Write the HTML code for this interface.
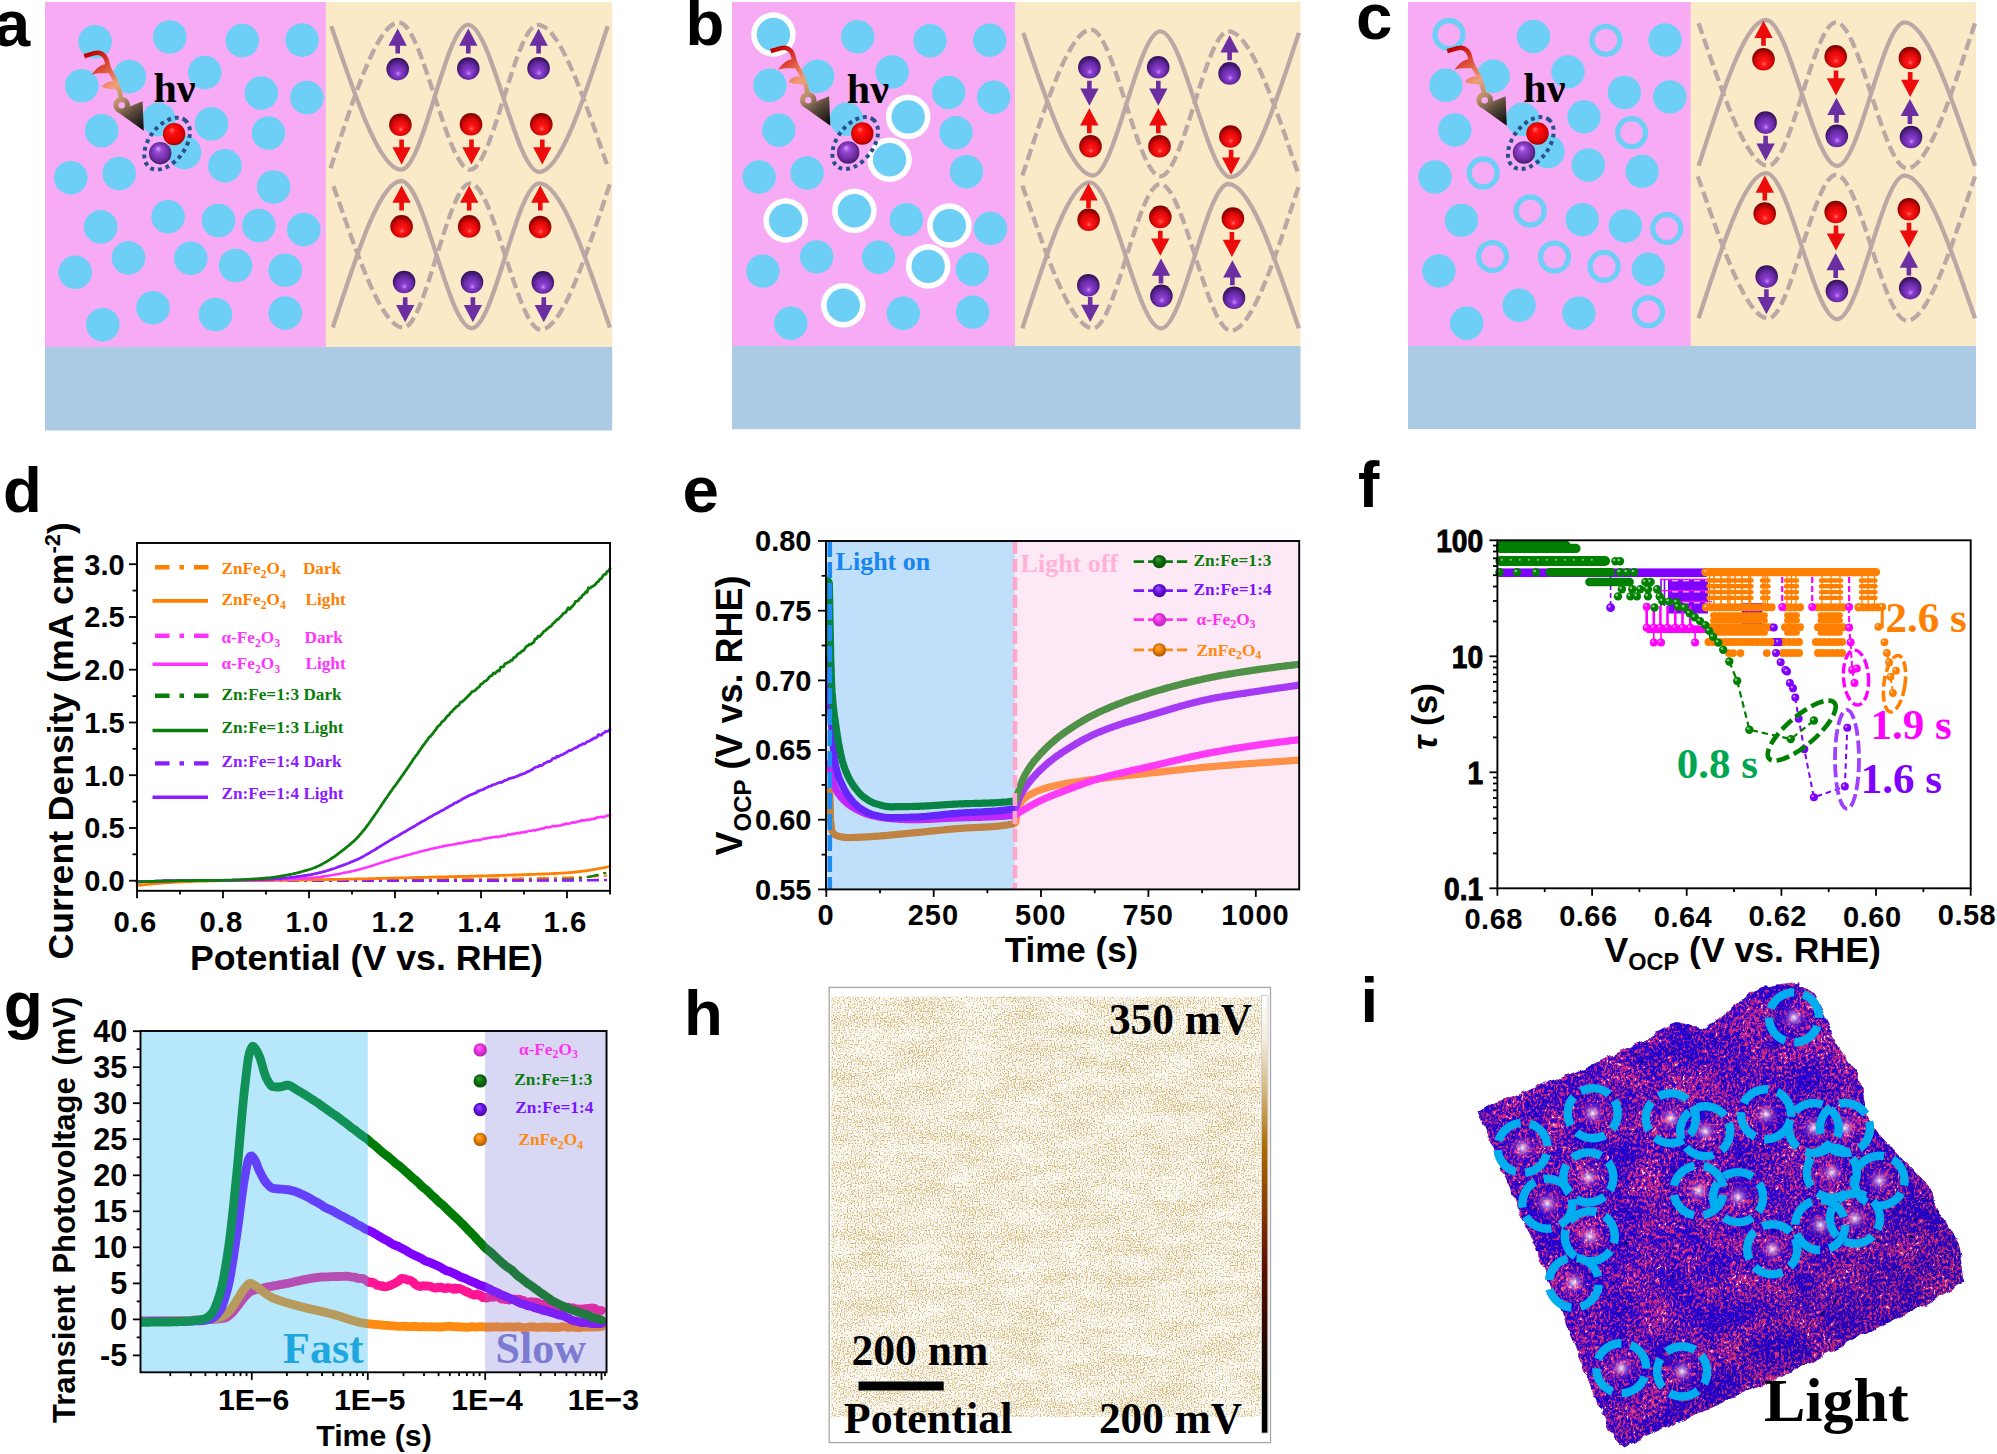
<!DOCTYPE html>
<html><head><meta charset="utf-8"><title>Figure</title>
<style>html,body{margin:0;padding:0;background:#fff;}svg{display:block;}</style></head>
<body><svg width="1997" height="1454" viewBox="0 0 1997 1454"><defs>
<radialGradient id="mG" cx="0.5" cy="0.5" r="0.55" fx="0.38" fy="0.3"><stop offset="0" stop-color="#3c9a3c"/><stop offset="0.5" stop-color="#0c6e0c"/><stop offset="1" stop-color="#064806"/></radialGradient>
<radialGradient id="mP" cx="0.5" cy="0.5" r="0.55" fx="0.38" fy="0.3"><stop offset="0" stop-color="#9a58ff"/><stop offset="0.5" stop-color="#6a10e6"/><stop offset="1" stop-color="#3c0a96"/></radialGradient>
<radialGradient id="mM" cx="0.5" cy="0.5" r="0.55" fx="0.38" fy="0.3"><stop offset="0" stop-color="#ff7af6"/><stop offset="0.5" stop-color="#ee2ee4"/><stop offset="1" stop-color="#a828a8"/></radialGradient>
<radialGradient id="mO" cx="0.5" cy="0.5" r="0.55" fx="0.38" fy="0.3"><stop offset="0" stop-color="#ffac50"/><stop offset="0.5" stop-color="#f08000"/><stop offset="1" stop-color="#9a5408"/></radialGradient>

<radialGradient id="gR" cx="0.5" cy="0.55" r="0.62" fx="0.52" fy="0.72">
<stop offset="0" stop-color="#ff7070"/><stop offset="0.18" stop-color="#ff1818"/><stop offset="0.55" stop-color="#e00808"/><stop offset="1" stop-color="#5a0000"/></radialGradient>
<radialGradient id="gP" cx="0.5" cy="0.55" r="0.62" fx="0.52" fy="0.72">
<stop offset="0" stop-color="#c88cff"/><stop offset="0.2" stop-color="#8a3fd0"/><stop offset="0.55" stop-color="#6a2aa8"/><stop offset="1" stop-color="#1e0a3c"/></radialGradient>
<radialGradient id="gR2" cx="0.5" cy="0.5" r="0.6" fx="0.38" fy="0.3">
<stop offset="0" stop-color="#ff6a6a"/><stop offset="0.25" stop-color="#ff1010"/><stop offset="0.7" stop-color="#e00000"/><stop offset="1" stop-color="#7a0000"/></radialGradient>
<radialGradient id="gP2" cx="0.5" cy="0.5" r="0.6" fx="0.4" fy="0.28">
<stop offset="0" stop-color="#d9a0ff"/><stop offset="0.25" stop-color="#9a48d8"/><stop offset="0.7" stop-color="#6a2a9a"/><stop offset="1" stop-color="#2a0c48"/></radialGradient>

<filter id="nzH" x="0" y="0" width="1" height="1" color-interpolation-filters="sRGB">
<feTurbulence type="fractalNoise" baseFrequency="0.72" numOctaves="1" seed="4"/>
<feColorMatrix type="matrix" values="1 0 0 0 0  0 1 0 0 0  0 0 1 0 0  0 0 0 0 1" result="fine"/>
<feTurbulence type="fractalNoise" baseFrequency="0.02 0.07" numOctaves="2" seed="9"/>
<feColorMatrix type="matrix" values="1 0 0 0 0  0 1 0 0 0  0 0 1 0 0  0 0 0 0 1" result="coarse"/>
<feComposite in="fine" in2="coarse" operator="arithmetic" k1="0" k2="1" k3="0.18" k4="-0.09" result="mix"/>
<feColorMatrix in="mix" type="matrix" values="0 0 0 0 0.82  0 0 0 0 0.71  0 0 0 0 0.45  5 0 0 0 -2.38"/>
<feComposite operator="in" in2="SourceGraphic"/>
</filter>
<linearGradient id="cbar" x1="0" y1="0" x2="0" y2="1">
<stop offset="0" stop-color="#ffffff"/><stop offset="0.1" stop-color="#f3ecdc"/><stop offset="0.22" stop-color="#d2b57c"/>
<stop offset="0.35" stop-color="#a86a00"/><stop offset="0.48" stop-color="#8a3c00"/><stop offset="0.62" stop-color="#5c1000"/>
<stop offset="0.8" stop-color="#220600"/><stop offset="0.92" stop-color="#000"/><stop offset="1" stop-color="#000"/></linearGradient>

<filter id="nzI" x="0" y="0" width="1" height="1" color-interpolation-filters="sRGB">
<feTurbulence type="fractalNoise" baseFrequency="0.42 0.3" numOctaves="2" seed="11"/>
<feColorMatrix type="matrix" values="1 0 0 0 0  0 1 0 0 0  0 0 1 0 0  0 0 0 0 1" result="fine"/>
<feTurbulence type="fractalNoise" baseFrequency="0.03" numOctaves="2" seed="5"/>
<feColorMatrix type="matrix" values="1 0 0 0 0  0 1 0 0 0  0 0 1 0 0  0 0 0 0 1" result="coarse"/>
<feComposite in="fine" in2="coarse" operator="arithmetic" k1="0" k2="1" k3="0.35" k4="-0.175" result="mix"/>
<feColorMatrix in="mix" type="matrix" values="0 0 0 0 0.84  0 0 0 0 0.17  0 0 0 0 0.5  5.5 0 0 0 -2.5" result="mag"/>
<feColorMatrix in="mix" type="matrix" values="0 0 0 0 1  0 0 0 0 0.85  0 0 0 0 0.95  9 0 0 0 -6.6" result="wht"/>
<feColorMatrix in="fine" type="matrix" values="0 0 0 0 0.02  0 0 0 0 0  0 0 0 0 0.25  0 -8 0 0 2.5" result="blk"/>
<feMerge><feMergeNode in="blk"/><feMergeNode in="mag"/><feMergeNode in="wht"/></feMerge>
<feComposite operator="in" in2="SourceGraphic"/>
</filter>
<filter id="ragI" x="-0.02" y="-0.02" width="1.04" height="1.04"><feTurbulence type="fractalNoise" baseFrequency="0.09" numOctaves="2" seed="3" result="t"/><feDisplacementMap in="SourceGraphic" in2="t" scale="7" xChannelSelector="R" yChannelSelector="G"/></filter>
<radialGradient id="glowI"><stop offset="0" stop-color="#ffffff" stop-opacity="0.95"/><stop offset="0.22" stop-color="#ffd8ec" stop-opacity="0.6"/><stop offset="0.55" stop-color="#ff80c0" stop-opacity="0.25"/><stop offset="1" stop-color="#ff50b0" stop-opacity="0"/></radialGradient>
<linearGradient id="shI" x1="0" y1="0" x2="1" y2="1">
<stop offset="0" stop-color="#000" stop-opacity="0"/><stop offset="0.55" stop-color="#000" stop-opacity="0"/><stop offset="1" stop-color="#000" stop-opacity="0.18"/></linearGradient>

<radialGradient id="mG" cx="0.5" cy="0.5" r="0.55" fx="0.38" fy="0.3"><stop offset="0" stop-color="#3c9a3c"/><stop offset="0.5" stop-color="#0c6e0c"/><stop offset="1" stop-color="#064806"/></radialGradient>
<radialGradient id="mP" cx="0.5" cy="0.5" r="0.55" fx="0.38" fy="0.3"><stop offset="0" stop-color="#9a58ff"/><stop offset="0.5" stop-color="#6a10e6"/><stop offset="1" stop-color="#3c0a96"/></radialGradient>
<radialGradient id="mM" cx="0.5" cy="0.5" r="0.55" fx="0.38" fy="0.3"><stop offset="0" stop-color="#ff7af6"/><stop offset="0.5" stop-color="#ee2ee4"/><stop offset="1" stop-color="#a828a8"/></radialGradient>
<radialGradient id="mO" cx="0.5" cy="0.5" r="0.55" fx="0.38" fy="0.3"><stop offset="0" stop-color="#ffac50"/><stop offset="0.5" stop-color="#f08000"/><stop offset="1" stop-color="#9a5408"/></radialGradient>

<radialGradient id="gR" cx="0.5" cy="0.55" r="0.62" fx="0.52" fy="0.72">
<stop offset="0" stop-color="#ff7070"/><stop offset="0.18" stop-color="#ff1818"/><stop offset="0.55" stop-color="#e00808"/><stop offset="1" stop-color="#5a0000"/></radialGradient>
<radialGradient id="gP" cx="0.5" cy="0.55" r="0.62" fx="0.52" fy="0.72">
<stop offset="0" stop-color="#c88cff"/><stop offset="0.2" stop-color="#8a3fd0"/><stop offset="0.55" stop-color="#6a2aa8"/><stop offset="1" stop-color="#1e0a3c"/></radialGradient>
<radialGradient id="gR2" cx="0.5" cy="0.5" r="0.6" fx="0.38" fy="0.3">
<stop offset="0" stop-color="#ff6a6a"/><stop offset="0.25" stop-color="#ff1010"/><stop offset="0.7" stop-color="#e00000"/><stop offset="1" stop-color="#7a0000"/></radialGradient>
<radialGradient id="gP2" cx="0.5" cy="0.5" r="0.6" fx="0.4" fy="0.28">
<stop offset="0" stop-color="#d9a0ff"/><stop offset="0.25" stop-color="#9a48d8"/><stop offset="0.7" stop-color="#6a2a9a"/><stop offset="1" stop-color="#2a0c48"/></radialGradient>
</defs><rect width="1997" height="1454" fill="#fff"/>
<g id="pabc"><rect x="45" y="2" width="281" height="345.5" fill="#f7abf4" /><rect x="325.8" y="2" width="286.4" height="345.5" fill="#faeac8" /><rect x="45" y="347" width="567.2" height="83.5" fill="#abcbe4" /><circle cx="95.1" cy="41.8" r="16.8" fill="#6dcff6" /><circle cx="169.8" cy="37" r="16.8" fill="#6dcff6" /><circle cx="242.3" cy="40.6" r="16.8" fill="#6dcff6" /><circle cx="302.1" cy="40.1" r="16.8" fill="#6dcff6" /><circle cx="81.8" cy="85.8" r="16.8" fill="#6dcff6" /><circle cx="129.4" cy="76.6" r="16.8" fill="#6dcff6" /><circle cx="204.8" cy="72.6" r="16.8" fill="#6dcff6" /><circle cx="261.3" cy="93.1" r="16.8" fill="#6dcff6" /><circle cx="306.9" cy="97.6" r="16.8" fill="#6dcff6" /><circle cx="101.6" cy="130.7" r="16.8" fill="#6dcff6" /><circle cx="158.7" cy="119.4" r="16.8" fill="#6dcff6" /><circle cx="211.5" cy="123.8" r="16.8" fill="#6dcff6" /><circle cx="268.5" cy="133.1" r="16.8" fill="#6dcff6" /><circle cx="184.5" cy="152.5" r="16.8" fill="#6dcff6" /><circle cx="224.9" cy="165.7" r="16.8" fill="#6dcff6" /><circle cx="70.8" cy="177.7" r="16.8" fill="#6dcff6" /><circle cx="119.2" cy="173.5" r="16.8" fill="#6dcff6" /><circle cx="273.6" cy="187" r="16.8" fill="#6dcff6" /><circle cx="100.7" cy="226.9" r="16.8" fill="#6dcff6" /><circle cx="168.1" cy="216.7" r="16.8" fill="#6dcff6" /><circle cx="218.5" cy="220.5" r="16.8" fill="#6dcff6" /><circle cx="258.9" cy="225.6" r="16.8" fill="#6dcff6" /><circle cx="303.8" cy="229.6" r="16.8" fill="#6dcff6" /><circle cx="128.5" cy="257.9" r="16.8" fill="#6dcff6" /><circle cx="190.8" cy="258.3" r="16.8" fill="#6dcff6" /><circle cx="235.6" cy="265.5" r="16.8" fill="#6dcff6" /><circle cx="285.2" cy="270.3" r="16.8" fill="#6dcff6" /><circle cx="75.2" cy="272.3" r="16.8" fill="#6dcff6" /><circle cx="153" cy="307.7" r="16.8" fill="#6dcff6" /><circle cx="215.5" cy="314.5" r="16.8" fill="#6dcff6" /><circle cx="285.3" cy="313.1" r="16.8" fill="#6dcff6" /><circle cx="102.8" cy="324.7" r="16.8" fill="#6dcff6" /><g transform="translate(0,0)"><linearGradient id="pha" gradientUnits="userSpaceOnUse" x1="88" y1="54" x2="142" y2="128"><stop offset="0" stop-color="#c00000"/><stop offset="0.22" stop-color="#dc4a34"/><stop offset="0.45" stop-color="#f0a078"/><stop offset="0.62" stop-color="#b89068"/><stop offset="0.8" stop-color="#5a4a3c"/><stop offset="1" stop-color="#111"/></linearGradient><path d="M84.3,56.2 C90,54.5 95,52.6 98.5,52.8 C104.5,53.5 106.8,59.5 107.8,65 C109,71 113,75 115.2,80 C117.5,85.5 120,90 121.3,99.5" fill="none" stroke="url(#pha)" stroke-width="4.6" stroke-linecap="butt"/><path d="M107.5,64 C100,64 95.5,69.5 91.5,74.8 C98,72.5 106,73.5 111,73 Z" fill="url(#pha)"/><path d="M117,82 C110,80.5 104,83 102.3,86.6 C104,89.5 112,89 119.6,90 Z" fill="url(#pha)"/><circle cx="121.7" cy="105.2" r="5.8" fill="none" stroke="url(#pha)" stroke-width="5"/><path d="M142.6,101.2 L143.8,130.8 L117.6,112 L126,108 Z" fill="url(#pha)"/></g><ellipse cx="167.1" cy="143.6" rx="29.5" ry="18" transform="rotate(-53 167.1 143.6)" fill="none" stroke="#28508c" stroke-width="4" stroke-dasharray="3.9 3.9"/><circle cx="160.2" cy="153.2" r="11.2" fill="url(#gP2)" /><circle cx="174.1" cy="134.1" r="11.2" fill="url(#gR2)" /><text x="153.5" y="102" font-family="'Liberation Serif', 'Times New Roman', serif" font-size="42" font-weight="bold" fill="#000" text-anchor="start" >hν</text><path d="M331.3,26.3 C352.2,86.5 378.1,169.7 401.1,169.7 C423.2,169.7 445.9,24.8 468,24.8 C491.5,24.8 515.8,172 539.3,172 C561.9,172 587.2,87.5 607.7,26.3" fill="none" stroke="#bba7a3" stroke-width="4.3"/><path d="M330.5,168.2 C351,107 376.3,22.5 398.9,22.5 C422.4,22.5 446.7,169.7 470.2,169.7 C492.5,169.7 515.5,24.8 537.8,24.8 C560.9,24.8 586.7,107.1 607.7,166.7" fill="none" stroke="#bba7a3" stroke-width="4.3" stroke-dasharray="11.5 5"/><path d="M332.8,327.5 C353.3,266 378.6,181 401.1,181 C424.4,181 448.4,328.2 471.7,328.2 C494,328.2 517,183.3 539.3,183.3 C562.6,183.3 588.7,266.9 609.9,327.5" fill="none" stroke="#bba7a3" stroke-width="4.3"/><path d="M333.5,186.3 C354.5,245.6 380.3,327.5 403.4,327.5 C425.4,327.5 448.2,183.3 470.2,183.3 C493.5,183.3 517.5,329.7 540.8,329.7 C563.6,329.7 589.2,245.2 609.9,184" fill="none" stroke="#bba7a3" stroke-width="4.3" stroke-dasharray="11.5 5"/><polygon points="397.7,28.5 406.9,45.7 400,45.7 400,53.5 395.4,53.5 395.4,45.7 388.5,45.7" fill="#6b2fa2"/><polygon points="468.3,28.5 477.5,45.7 470.6,45.7 470.6,53.5 466,53.5 466,45.7 459.1,45.7" fill="#6b2fa2"/><polygon points="538.6,28.5 547.8,45.7 540.9,45.7 540.9,53.5 536.3,53.5 536.3,45.7 529.4,45.7" fill="#6b2fa2"/><circle cx="397.7" cy="69.1" r="11.3" fill="url(#gP)" /><circle cx="468.3" cy="68.6" r="11.3" fill="url(#gP)" /><circle cx="538.6" cy="68.3" r="11.3" fill="url(#gP)" /><circle cx="400.4" cy="124.7" r="11.3" fill="url(#gR)" /><circle cx="471" cy="124.2" r="11.3" fill="url(#gR)" /><circle cx="541.3" cy="124.2" r="11.3" fill="url(#gR)" /><polygon points="401.6,164.5 410.8,147.3 403.9,147.3 403.9,139.5 399.3,139.5 399.3,147.3 392.4,147.3" fill="#ec0c0c"/><polygon points="471.5,164.5 480.7,147.3 473.8,147.3 473.8,139.5 469.2,139.5 469.2,147.3 462.3,147.3" fill="#ec0c0c"/><polygon points="542.3,164.5 551.5,147.3 544.6,147.3 544.6,139.5 540,139.5 540,147.3 533.1,147.3" fill="#ec0c0c"/><polygon points="401.6,185.5 410.8,202.7 403.9,202.7 403.9,210.5 399.3,210.5 399.3,202.7 392.4,202.7" fill="#ec0c0c"/><polygon points="469.2,185.5 478.4,202.7 471.5,202.7 471.5,210.5 466.9,210.5 466.9,202.7 460,202.7" fill="#ec0c0c"/><polygon points="540.3,185.5 549.5,202.7 542.6,202.7 542.6,210.5 538,210.5 538,202.7 531.1,202.7" fill="#ec0c0c"/><circle cx="401.6" cy="226.4" r="11.3" fill="url(#gR)" /><circle cx="469.2" cy="226.4" r="11.3" fill="url(#gR)" /><circle cx="540.1" cy="227.1" r="11.3" fill="url(#gR)" /><circle cx="404.1" cy="282" r="11.3" fill="url(#gP)" /><circle cx="472" cy="282" r="11.3" fill="url(#gP)" /><circle cx="542.8" cy="282.4" r="11.3" fill="url(#gP)" /><polygon points="405.2,322.2 414.4,305 407.5,305 407.5,297.2 402.9,297.2 402.9,305 396,305" fill="#6b2fa2"/><polygon points="472.9,322.2 482.1,305 475.2,305 475.2,297.2 470.6,297.2 470.6,305 463.7,305" fill="#6b2fa2"/><polygon points="543.8,322.2 553,305 546.1,305 546.1,297.2 541.5,297.2 541.5,305 534.6,305" fill="#6b2fa2"/><text x="-6.3" y="46.2" font-family="'Liberation Sans', Arial, sans-serif" font-size="65.5" font-weight="bold" fill="#000" text-anchor="start" >a</text><rect x="732" y="2" width="283.5" height="344.5" fill="#f7abf4" /><rect x="1015" y="2" width="285.5" height="344.5" fill="#faeac8" /><rect x="732" y="346" width="568.5" height="83.2" fill="#abcbe4" /><circle cx="773.4" cy="34.5" r="22.3" fill="#fff" /><circle cx="773.4" cy="34.5" r="16.7" fill="#6dcff6" /><circle cx="857.7" cy="36.8" r="16.7" fill="#6dcff6" /><circle cx="930.1" cy="40.7" r="16.7" fill="#6dcff6" /><circle cx="989.7" cy="40.3" r="16.7" fill="#6dcff6" /><circle cx="769.9" cy="85.3" r="16.7" fill="#6dcff6" /><circle cx="817.6" cy="76.2" r="16.7" fill="#6dcff6" /><circle cx="892.2" cy="71.9" r="16.7" fill="#6dcff6" /><circle cx="948.7" cy="92.5" r="16.7" fill="#6dcff6" /><circle cx="993.7" cy="97.3" r="16.7" fill="#6dcff6" /><circle cx="778.8" cy="130.2" r="16.7" fill="#6dcff6" /><circle cx="846.5" cy="119.2" r="16.7" fill="#6dcff6" /><circle cx="908.2" cy="116.9" r="22.3" fill="#fff" /><circle cx="908.2" cy="116.9" r="16.7" fill="#6dcff6" /><circle cx="956" cy="132.7" r="16.7" fill="#6dcff6" /><circle cx="889.6" cy="159.7" r="22.3" fill="#fff" /><circle cx="889.6" cy="159.7" r="16.7" fill="#6dcff6" /><circle cx="759.2" cy="177" r="16.7" fill="#6dcff6" /><circle cx="807.1" cy="173" r="16.7" fill="#6dcff6" /><circle cx="966.4" cy="171.7" r="16.7" fill="#6dcff6" /><circle cx="785.7" cy="220.5" r="22.3" fill="#fff" /><circle cx="785.7" cy="220.5" r="16.7" fill="#6dcff6" /><circle cx="854.4" cy="210.8" r="22.3" fill="#fff" /><circle cx="854.4" cy="210.8" r="16.7" fill="#6dcff6" /><circle cx="906.4" cy="219.6" r="16.7" fill="#6dcff6" /><circle cx="949.4" cy="225.6" r="22.3" fill="#fff" /><circle cx="949.4" cy="225.6" r="16.7" fill="#6dcff6" /><circle cx="990.5" cy="228.5" r="16.7" fill="#6dcff6" /><circle cx="816.7" cy="256.9" r="16.7" fill="#6dcff6" /><circle cx="878.6" cy="257.3" r="16.7" fill="#6dcff6" /><circle cx="928.2" cy="266.4" r="22.3" fill="#fff" /><circle cx="928.2" cy="266.4" r="16.7" fill="#6dcff6" /><circle cx="972.3" cy="269.3" r="16.7" fill="#6dcff6" /><circle cx="762.9" cy="271.1" r="16.7" fill="#6dcff6" /><circle cx="843.3" cy="305.3" r="22.3" fill="#fff" /><circle cx="843.3" cy="305.3" r="16.7" fill="#6dcff6" /><circle cx="903.3" cy="313.3" r="16.7" fill="#6dcff6" /><circle cx="972.7" cy="312.1" r="16.7" fill="#6dcff6" /><circle cx="790.8" cy="323.2" r="16.7" fill="#6dcff6" /><g transform="translate(686.5,-5)"><linearGradient id="phb" gradientUnits="userSpaceOnUse" x1="88" y1="54" x2="142" y2="128"><stop offset="0" stop-color="#c00000"/><stop offset="0.22" stop-color="#dc4a34"/><stop offset="0.45" stop-color="#f0a078"/><stop offset="0.62" stop-color="#b89068"/><stop offset="0.8" stop-color="#5a4a3c"/><stop offset="1" stop-color="#111"/></linearGradient><path d="M84.3,56.2 C90,54.5 95,52.6 98.5,52.8 C104.5,53.5 106.8,59.5 107.8,65 C109,71 113,75 115.2,80 C117.5,85.5 120,90 121.3,99.5" fill="none" stroke="url(#phb)" stroke-width="4.6" stroke-linecap="butt"/><path d="M107.5,64 C100,64 95.5,69.5 91.5,74.8 C98,72.5 106,73.5 111,73 Z" fill="url(#phb)"/><path d="M117,82 C110,80.5 104,83 102.3,86.6 C104,89.5 112,89 119.6,90 Z" fill="url(#phb)"/><circle cx="121.7" cy="105.2" r="5.8" fill="none" stroke="url(#phb)" stroke-width="5"/><path d="M142.6,101.2 L143.8,130.8 L117.6,112 L126,108 Z" fill="url(#phb)"/></g><ellipse cx="855.2" cy="143" rx="29.5" ry="18" transform="rotate(-53 855.2 143)" fill="none" stroke="#28508c" stroke-width="4" stroke-dasharray="3.9 3.9"/><circle cx="848.2" cy="152.5" r="11.2" fill="url(#gP2)" /><circle cx="862.3" cy="133.5" r="11.2" fill="url(#gR2)" /><text x="846.8" y="103.4" font-family="'Liberation Serif', 'Times New Roman', serif" font-size="42" font-weight="bold" fill="#000" text-anchor="start" >hν</text><path d="M1023.2,32.9 C1044.1,92.8 1069.9,175.5 1092.9,175.5 C1115.1,175.5 1138.1,31.3 1160.3,31.3 C1183.6,31.3 1207.5,177.1 1230.8,177.1 C1253.3,177.1 1278.5,93.5 1298.9,32.9" fill="none" stroke="#bba7a3" stroke-width="4.3"/><path d="M1022.4,175.5 C1043,114.2 1068.4,29.6 1091,29.6 C1113.9,29.6 1137.4,176.3 1160.3,176.3 C1182.8,176.3 1205.9,31.3 1228.4,31.3 C1251.7,31.3 1277.8,114.9 1298.9,175.5" fill="none" stroke="#bba7a3" stroke-width="4.3" stroke-dasharray="11.5 5"/><path d="M1022.4,328.3 C1042.6,267 1067.5,182.4 1089.7,182.4 C1113.3,182.4 1137.5,328.3 1161.1,328.3 C1183.3,328.3 1206.2,184 1228.4,184 C1251.7,184 1277.8,267.7 1298.9,328.3" fill="none" stroke="#bba7a3" stroke-width="4.3"/><path d="M1022.4,185.6 C1043.5,245.5 1069.6,328.3 1092.9,328.3 C1115.1,328.3 1138.1,184 1160.3,184 C1183.6,184 1207.5,330.7 1230.8,330.7 C1253.3,330.7 1278.5,246.5 1298.9,185.6" fill="none" stroke="#bba7a3" stroke-width="4.3" stroke-dasharray="11.5 5"/><circle cx="1089.4" cy="67.3" r="11.3" fill="url(#gP)" /><circle cx="1158.2" cy="67.3" r="11.3" fill="url(#gP)" /><circle cx="1229.6" cy="73.4" r="11.3" fill="url(#gP)" /><circle cx="1090.5" cy="146.2" r="11.3" fill="url(#gR)" /><circle cx="1159.5" cy="146.2" r="11.3" fill="url(#gR)" /><circle cx="1230.4" cy="136.5" r="11.3" fill="url(#gR)" /><polygon points="1089.4,105.8 1098.6,88.6 1091.7,88.6 1091.7,80.8 1087.1,80.8 1087.1,88.6 1080.2,88.6" fill="#6b2fa2"/><polygon points="1158.3,105.8 1167.5,88.6 1160.6,88.6 1160.6,80.8 1156,80.8 1156,88.6 1149.1,88.6" fill="#6b2fa2"/><polygon points="1089.3,108.2 1098.5,125.4 1091.6,125.4 1091.6,133.2 1087,133.2 1087,125.4 1080.1,125.4" fill="#ec0c0c"/><polygon points="1158.3,108.2 1167.5,125.4 1160.6,125.4 1160.6,133.2 1156,133.2 1156,125.4 1149.1,125.4" fill="#ec0c0c"/><polygon points="1229.6,35.3 1238.8,52.5 1231.9,52.5 1231.9,60.3 1227.3,60.3 1227.3,52.5 1220.4,52.5" fill="#6b2fa2"/><polygon points="1231.1,174.7 1240.3,157.5 1233.4,157.5 1233.4,149.7 1228.8,149.7 1228.8,157.5 1221.9,157.5" fill="#ec0c0c"/><circle cx="1088.6" cy="219.8" r="11.3" fill="url(#gR)" /><circle cx="1160.3" cy="216.9" r="11.3" fill="url(#gR)" /><circle cx="1232.9" cy="218.5" r="11.3" fill="url(#gR)" /><circle cx="1088.3" cy="285.3" r="11.3" fill="url(#gP)" /><circle cx="1161.4" cy="295.9" r="11.3" fill="url(#gP)" /><circle cx="1234" cy="297.8" r="11.3" fill="url(#gP)" /><polygon points="1088.5,183.2 1097.7,200.4 1090.8,200.4 1090.8,208.2 1086.2,208.2 1086.2,200.4 1079.3,200.4" fill="#ec0c0c"/><polygon points="1090.2,321.9 1099.4,304.7 1092.5,304.7 1092.5,296.9 1087.9,296.9 1087.9,304.7 1081,304.7" fill="#6b2fa2"/><polygon points="1160.3,255.8 1169.5,238.6 1162.6,238.6 1162.6,230.8 1158,230.8 1158,238.6 1151.1,238.6" fill="#ec0c0c"/><polygon points="1161,258.6 1170.2,275.8 1163.3,275.8 1163.3,283.6 1158.7,283.6 1158.7,275.8 1151.8,275.8" fill="#6b2fa2"/><polygon points="1231.9,257 1241.1,239.8 1234.2,239.8 1234.2,232 1229.6,232 1229.6,239.8 1222.7,239.8" fill="#ec0c0c"/><polygon points="1232.4,260.2 1241.6,277.4 1234.7,277.4 1234.7,285.2 1230.1,285.2 1230.1,277.4 1223.2,277.4" fill="#6b2fa2"/><text x="685.5" y="45.1" font-family="'Liberation Sans', Arial, sans-serif" font-size="63.5" font-weight="bold" fill="#000" text-anchor="start" >b</text><rect x="1408" y="2" width="283" height="344.5" fill="#f7abf4" /><rect x="1690.5" y="2" width="285.5" height="344.5" fill="#faeac8" /><rect x="1408" y="346" width="568" height="83" fill="#abcbe4" /><circle cx="1449" cy="34.5" r="14" fill="none" stroke="#6dcff6" stroke-width="5.3"/><circle cx="1533.5" cy="36.5" r="16.7" fill="#6dcff6" /><circle cx="1605.9" cy="40.3" r="14" fill="none" stroke="#6dcff6" stroke-width="5.3"/><circle cx="1665.1" cy="40" r="16.7" fill="#6dcff6" /><circle cx="1445.9" cy="85.3" r="16.7" fill="#6dcff6" /><circle cx="1493.2" cy="76.2" r="16.7" fill="#6dcff6" /><circle cx="1568" cy="71.9" r="16.7" fill="#6dcff6" /><circle cx="1624.4" cy="92.5" r="16.7" fill="#6dcff6" /><circle cx="1669.8" cy="96.9" r="16.7" fill="#6dcff6" /><circle cx="1454.8" cy="130" r="16.7" fill="#6dcff6" /><circle cx="1522.6" cy="119.2" r="16.7" fill="#6dcff6" /><circle cx="1584" cy="116.9" r="16.7" fill="#6dcff6" /><circle cx="1631.6" cy="132.7" r="14" fill="none" stroke="#6dcff6" stroke-width="5.3"/><circle cx="1548" cy="151.6" r="16.7" fill="#6dcff6" /><circle cx="1588.3" cy="165" r="16.7" fill="#6dcff6" /><circle cx="1435" cy="177" r="16.7" fill="#6dcff6" /><circle cx="1483.2" cy="173" r="14" fill="none" stroke="#6dcff6" stroke-width="5.3"/><circle cx="1642.1" cy="171.4" r="16.7" fill="#6dcff6" /><circle cx="1461.5" cy="220.4" r="16.7" fill="#6dcff6" /><circle cx="1530.2" cy="211" r="14" fill="none" stroke="#6dcff6" stroke-width="5.3"/><circle cx="1582.2" cy="219.6" r="16.7" fill="#6dcff6" /><circle cx="1625.4" cy="226" r="16.7" fill="#6dcff6" /><circle cx="1666.8" cy="228.6" r="14" fill="none" stroke="#6dcff6" stroke-width="5.3"/><circle cx="1492.5" cy="256.6" r="14" fill="none" stroke="#6dcff6" stroke-width="5.3"/><circle cx="1554.5" cy="257.1" r="14" fill="none" stroke="#6dcff6" stroke-width="5.3"/><circle cx="1604.1" cy="266.4" r="14" fill="none" stroke="#6dcff6" stroke-width="5.3"/><circle cx="1648.3" cy="269.3" r="16.7" fill="#6dcff6" /><circle cx="1438.9" cy="270.9" r="16.7" fill="#6dcff6" /><circle cx="1519.1" cy="305.3" r="16.7" fill="#6dcff6" /><circle cx="1578.9" cy="313.2" r="16.7" fill="#6dcff6" /><circle cx="1648.5" cy="311.8" r="14" fill="none" stroke="#6dcff6" stroke-width="5.3"/><circle cx="1466.7" cy="323.2" r="16.7" fill="#6dcff6" /><g transform="translate(1363,-5)"><linearGradient id="phc" gradientUnits="userSpaceOnUse" x1="88" y1="54" x2="142" y2="128"><stop offset="0" stop-color="#c00000"/><stop offset="0.22" stop-color="#dc4a34"/><stop offset="0.45" stop-color="#f0a078"/><stop offset="0.62" stop-color="#b89068"/><stop offset="0.8" stop-color="#5a4a3c"/><stop offset="1" stop-color="#111"/></linearGradient><path d="M84.3,56.2 C90,54.5 95,52.6 98.5,52.8 C104.5,53.5 106.8,59.5 107.8,65 C109,71 113,75 115.2,80 C117.5,85.5 120,90 121.3,99.5" fill="none" stroke="url(#phc)" stroke-width="4.6" stroke-linecap="butt"/><path d="M107.5,64 C100,64 95.5,69.5 91.5,74.8 C98,72.5 106,73.5 111,73 Z" fill="url(#phc)"/><path d="M117,82 C110,80.5 104,83 102.3,86.6 C104,89.5 112,89 119.6,90 Z" fill="url(#phc)"/><circle cx="121.7" cy="105.2" r="5.8" fill="none" stroke="url(#phc)" stroke-width="5"/><path d="M142.6,101.2 L143.8,130.8 L117.6,112 L126,108 Z" fill="url(#phc)"/></g><ellipse cx="1530.8" cy="143" rx="29.5" ry="18" transform="rotate(-53 1530.8 143)" fill="none" stroke="#28508c" stroke-width="4" stroke-dasharray="3.9 3.9"/><circle cx="1524" cy="152.5" r="11.2" fill="url(#gP2)" /><circle cx="1537.5" cy="133.5" r="11.2" fill="url(#gR2)" /><text x="1523.3" y="102.3" font-family="'Liberation Serif', 'Times New Roman', serif" font-size="42" font-weight="bold" fill="#000" text-anchor="start" >hν</text><path d="M1698.6,165.9 C1718.8,104.6 1743.7,20 1765.9,20 C1789.5,20 1813.7,165.9 1837.3,165.9 C1859.5,165.9 1882.4,22.4 1904.6,22.4 C1927.8,22.4 1953.9,105.6 1975,165.9" fill="none" stroke="#bba7a3" stroke-width="4.3"/><path d="M1698.6,23.2 C1719.5,83.1 1745.3,165.9 1768.3,165.9 C1790.7,165.9 1813.7,22.4 1836.1,22.4 C1859.5,22.4 1883.6,168.3 1907,168.3 C1929.4,168.3 1954.6,84.1 1975,23.2" fill="none" stroke="#bba7a3" stroke-width="4.3" stroke-dasharray="11.5 5"/><path d="M1698.6,318.3 C1718.8,257.4 1743.7,173.2 1765.9,173.2 C1789.5,173.2 1813.7,319.1 1837.3,319.1 C1859.5,319.1 1882.4,175.6 1904.6,175.6 C1927.8,175.6 1953.9,258.4 1975,318.3" fill="none" stroke="#bba7a3" stroke-width="4.3"/><path d="M1697.8,176.4 C1719,236 1745,318.3 1768.3,318.3 C1790.7,318.3 1813.7,174.8 1836.1,174.8 C1859.5,174.8 1883.6,320.7 1907,320.7 C1929.4,320.7 1954.6,237 1975,176.4" fill="none" stroke="#bba7a3" stroke-width="4.3" stroke-dasharray="11.5 5"/><circle cx="1763.5" cy="59.3" r="11.3" fill="url(#gR)" /><circle cx="1835.7" cy="56.4" r="11.3" fill="url(#gR)" /><circle cx="1909.9" cy="58" r="11.3" fill="url(#gR)" /><circle cx="1765.6" cy="122.6" r="11.3" fill="url(#gP)" /><circle cx="1836.8" cy="135.9" r="11.3" fill="url(#gP)" /><circle cx="1911" cy="137" r="11.3" fill="url(#gP)" /><polygon points="1763.5,20.8 1772.7,38 1765.8,38 1765.8,45.8 1761.2,45.8 1761.2,38 1754.3,38" fill="#ec0c0c"/><polygon points="1765.6,160.7 1774.8,143.5 1767.9,143.5 1767.9,135.7 1763.3,135.7 1763.3,143.5 1756.4,143.5" fill="#6b2fa2"/><polygon points="1836,95.4 1845.2,78.2 1838.3,78.2 1838.3,70.4 1833.7,70.4 1833.7,78.2 1826.8,78.2" fill="#ec0c0c"/><polygon points="1836.5,97.8 1845.7,115 1838.8,115 1838.8,122.8 1834.2,122.8 1834.2,115 1827.3,115" fill="#6b2fa2"/><polygon points="1910.2,97 1919.4,79.8 1912.5,79.8 1912.5,72 1907.9,72 1907.9,79.8 1901,79.8" fill="#ec0c0c"/><polygon points="1909.9,98.9 1919.1,116.1 1912.2,116.1 1912.2,123.9 1907.6,123.9 1907.6,116.1 1900.7,116.1" fill="#6b2fa2"/><circle cx="1764.7" cy="213.6" r="11.3" fill="url(#gR)" /><circle cx="1835.7" cy="212" r="11.3" fill="url(#gR)" /><circle cx="1908.9" cy="209.3" r="11.3" fill="url(#gR)" /><circle cx="1766.7" cy="276.6" r="11.3" fill="url(#gP)" /><circle cx="1836.9" cy="291" r="11.3" fill="url(#gP)" /><circle cx="1910.2" cy="288.1" r="11.3" fill="url(#gP)" /><polygon points="1764.8,175.6 1774,192.8 1767.1,192.8 1767.1,200.6 1762.5,200.6 1762.5,192.8 1755.6,192.8" fill="#ec0c0c"/><polygon points="1766.4,314.3 1775.6,297.1 1768.7,297.1 1768.7,289.3 1764.1,289.3 1764.1,297.1 1757.2,297.1" fill="#6b2fa2"/><polygon points="1836,250.6 1845.2,233.4 1838.3,233.4 1838.3,225.6 1833.7,225.6 1833.7,233.4 1826.8,233.4" fill="#ec0c0c"/><polygon points="1835.7,253 1844.9,270.2 1838,270.2 1838,278 1833.4,278 1833.4,270.2 1826.5,270.2" fill="#6b2fa2"/><polygon points="1909,247.8 1918.2,230.6 1911.3,230.6 1911.3,222.8 1906.7,222.8 1906.7,230.6 1899.8,230.6" fill="#ec0c0c"/><polygon points="1908.9,250.6 1918.1,267.8 1911.2,267.8 1911.2,275.6 1906.6,275.6 1906.6,267.8 1899.7,267.8" fill="#6b2fa2"/><text x="1355.9" y="38.7" font-family="'Liberation Sans', Arial, sans-serif" font-size="65.5" font-weight="bold" fill="#000" text-anchor="start" >c</text></g>
<g id="pd"><polyline points="137,881.8 138.4,881.7 139.9,881.6 141.3,881.6 142.8,881.5 144.2,881.5 145.6,881.4 147.1,881.4 148.5,881.3 149.9,881.3 151.4,881.2 152.8,881.2 154.3,881.2 155.7,881.1 157.1,881.1 158.6,881 160,881 161.4,881 162.9,880.9 164.3,880.9 165.8,880.9 167.2,880.8 168.6,880.8 170.1,880.8 171.5,880.8 172.9,880.7 174.4,880.7 175.8,880.7 177.3,880.7 178.7,880.7 180.1,880.7 181.6,880.7 183,880.7 184.4,880.7 185.9,880.7 187.3,880.7 188.8,880.7 190.2,880.7 191.6,880.7 193.1,880.7 194.5,880.7 195.9,880.7 197.4,880.7 198.8,880.7 200.3,880.7 201.7,880.7 203.1,880.7 204.6,880.7 206,880.7 207.4,880.7 208.9,880.7 210.3,880.7 211.8,880.7 213.2,880.7 214.6,880.7 216.1,880.7 217.5,880.7 218.9,880.7 220.4,880.7 221.8,880.7 223.3,880.7 224.7,880.7 226.1,880.7 227.6,880.7 229,880.7 230.4,880.7 231.9,880.7 233.3,880.7 234.8,880.7 236.2,880.7 237.6,880.7 239.1,880.7 240.5,880.7 242,880.7 243.4,880.7 244.8,880.7 246.3,880.7 247.7,880.7 249.1,880.7 250.6,880.7 252,880.7 253.5,880.7 254.9,880.7 256.3,880.7 257.8,880.7 259.2,880.7 260.6,880.7 262.1,880.7 263.5,880.7 265,880.7 266.4,880.7 267.8,880.7 269.3,880.7 270.7,880.7 272.1,880.7 273.6,880.7 275,880.7 276.5,880.7 277.9,880.7 279.3,880.6 280.8,880.6 282.2,880.6 283.6,880.6 285.1,880.6 286.5,880.6 288,880.6 289.4,880.6 290.8,880.5 292.3,880.5 293.7,880.5 295.1,880.5 296.6,880.5 298,880.5 299.5,880.5 300.9,880.5 302.3,880.4 303.8,880.4 305.2,880.4 306.6,880.4 308.1,880.4 309.5,880.4 311,880.4 312.4,880.4 313.8,880.3 315.3,880.3 316.7,880.3 318.1,880.3 319.6,880.3 321,880.3 322.5,880.3 323.9,880.3 325.3,880.3 326.8,880.3 328.2,880.2 329.7,880.2 331.1,880.2 332.5,880.2 334,880.2 335.4,880.2 336.8,880.2 338.3,880.2 339.7,880.2 341.2,880.2 342.6,880.1 344,880.1 345.5,880.1 346.9,880.1 348.3,880.1 349.8,880.1 351.2,880.1 352.7,880.1 354.1,880 355.5,880 357,880 358.4,880 359.8,880 361.3,880 362.7,880 364.2,880 365.6,879.9 367,879.9 368.5,879.9 369.9,879.9 371.3,879.9 372.8,879.9 374.2,879.9 375.7,879.8 377.1,879.8 378.5,879.8 380,879.8 381.4,879.8 382.8,879.8 384.3,879.8 385.7,879.7 387.2,879.7 388.6,879.7 390,879.7 391.5,879.7 392.9,879.7 394.3,879.7 395.8,879.6 397.2,879.6 398.7,879.6 400.1,879.6 401.5,879.6 403,879.6 404.4,879.6 405.8,879.5 407.3,879.5 408.7,879.5 410.2,879.5 411.6,879.5 413,879.5 414.5,879.5 415.9,879.4 417.3,879.4 418.8,879.4 420.2,879.4 421.7,879.4 423.1,879.4 424.5,879.4 426,879.3 427.4,879.3 428.9,879.3 430.3,879.3 431.7,879.3 433.2,879.3 434.6,879.3 436,879.2 437.5,879.2 438.9,879.2 440.4,879.2 441.8,879.2 443.2,879.2 444.7,879.2 446.1,879.1 447.5,879.1 449,879.1 450.4,879.1 451.9,879.1 453.3,879.1 454.7,879.1 456.2,879 457.6,879 459,879 460.5,879 461.9,879 463.4,879 464.8,879 466.2,878.9 467.7,878.9 469.1,878.9 470.5,878.9 472,878.9 473.4,878.9 474.9,878.9 476.3,878.8 477.7,878.8 479.2,878.8 480.6,878.8 482,878.8 483.5,878.8 484.9,878.8 486.4,878.8 487.8,878.7 489.2,878.7 490.7,878.7 492.1,878.7 493.5,878.7 495,878.7 496.4,878.7 497.9,878.6 499.3,878.6 500.7,878.6 502.2,878.6 503.6,878.6 505,878.6 506.5,878.6 507.9,878.6 509.4,878.5 510.8,878.5 512.2,878.5 513.7,878.5 515.1,878.5 516.6,878.5 518,878.5 519.4,878.4 520.9,878.4 522.3,878.4 523.7,878.4 525.2,878.4 526.6,878.3 528.1,878.3 529.5,878.3 530.9,878.3 532.4,878.3 533.8,878.2 535.2,878.2 536.7,878.2 538.1,878.2 539.6,878.1 541,878.1 542.4,878.1 543.9,878.1 545.3,878 546.7,878 548.2,878 549.6,878 551.1,877.9 552.5,877.9 553.9,877.9 555.4,877.8 556.8,877.8 558.2,877.8 559.7,877.7 561.1,877.7 562.6,877.7 564,877.6 565.4,877.6 566.9,877.5 568.3,877.5 569.7,877.5 571.2,877.4 572.6,877.4 574.1,877.3 575.5,877.3 576.9,877.2 578.4,877.1 579.8,877.1 581.2,877 582.7,877 584.1,876.9 585.6,876.8 587,876.7 588.4,876.7 589.9,876.6 591.3,876.5 592.7,876.4 594.2,876.4 595.6,876.3 597.1,876.2 598.5,876.1 599.9,876 601.4,876 602.8,875.9 604.2,875.8 605.7,875.7 607.1,875.6 608.6,875.5 610,875.4" fill="none" stroke="#ff8000" stroke-width="2.1" stroke-linejoin="round" stroke-linecap="butt" stroke-dasharray="12 5 3 5"/><polyline points="137,881.8 138.4,881.7 139.9,881.6 141.3,881.6 142.8,881.5 144.2,881.5 145.6,881.4 147.1,881.4 148.5,881.3 149.9,881.3 151.4,881.2 152.8,881.2 154.3,881.2 155.7,881.1 157.1,881.1 158.6,881 160,881 161.4,881 162.9,880.9 164.3,880.9 165.8,880.9 167.2,880.8 168.6,880.8 170.1,880.8 171.5,880.8 172.9,880.7 174.4,880.7 175.8,880.7 177.3,880.7 178.7,880.7 180.1,880.7 181.6,880.7 183,880.7 184.4,880.7 185.9,880.7 187.3,880.7 188.8,880.7 190.2,880.7 191.6,880.7 193.1,880.7 194.5,880.7 195.9,880.7 197.4,880.7 198.8,880.7 200.3,880.7 201.7,880.7 203.1,880.7 204.6,880.7 206,880.7 207.4,880.7 208.9,880.7 210.3,880.7 211.8,880.7 213.2,880.7 214.6,880.7 216.1,880.7 217.5,880.7 218.9,880.7 220.4,880.7 221.8,880.7 223.3,880.7 224.7,880.7 226.1,880.7 227.6,880.7 229,880.7 230.4,880.7 231.9,880.7 233.3,880.7 234.8,880.7 236.2,880.7 237.6,880.7 239.1,880.7 240.5,880.7 242,880.7 243.4,880.7 244.8,880.7 246.3,880.7 247.7,880.7 249.1,880.7 250.6,880.7 252,880.7 253.5,880.7 254.9,880.7 256.3,880.7 257.8,880.7 259.2,880.7 260.6,880.7 262.1,880.7 263.5,880.7 265,880.7 266.4,880.7 267.8,880.7 269.3,880.7 270.7,880.7 272.1,880.7 273.6,880.7 275,880.7 276.5,880.7 277.9,880.7 279.3,880.7 280.8,880.7 282.2,880.7 283.6,880.7 285.1,880.7 286.5,880.7 288,880.7 289.4,880.7 290.8,880.7 292.3,880.7 293.7,880.7 295.1,880.7 296.6,880.7 298,880.7 299.5,880.7 300.9,880.7 302.3,880.7 303.8,880.7 305.2,880.7 306.6,880.7 308.1,880.7 309.5,880.7 311,880.7 312.4,880.7 313.8,880.7 315.3,880.7 316.7,880.7 318.1,880.7 319.6,880.7 321,880.7 322.5,880.7 323.9,880.7 325.3,880.7 326.8,880.7 328.2,880.7 329.7,880.7 331.1,880.7 332.5,880.7 334,880.6 335.4,880.6 336.8,880.6 338.3,880.6 339.7,880.6 341.2,880.6 342.6,880.6 344,880.6 345.5,880.6 346.9,880.6 348.3,880.6 349.8,880.6 351.2,880.6 352.7,880.6 354.1,880.6 355.5,880.6 357,880.6 358.4,880.6 359.8,880.6 361.3,880.6 362.7,880.6 364.2,880.6 365.6,880.6 367,880.6 368.5,880.6 369.9,880.6 371.3,880.5 372.8,880.5 374.2,880.5 375.7,880.5 377.1,880.5 378.5,880.5 380,880.5 381.4,880.5 382.8,880.5 384.3,880.5 385.7,880.5 387.2,880.5 388.6,880.5 390,880.5 391.5,880.5 392.9,880.5 394.3,880.5 395.8,880.5 397.2,880.5 398.7,880.5 400.1,880.5 401.5,880.5 403,880.5 404.4,880.5 405.8,880.5 407.3,880.5 408.7,880.5 410.2,880.5 411.6,880.4 413,880.4 414.5,880.4 415.9,880.4 417.3,880.4 418.8,880.4 420.2,880.4 421.7,880.4 423.1,880.4 424.5,880.4 426,880.4 427.4,880.4 428.9,880.4 430.3,880.4 431.7,880.4 433.2,880.4 434.6,880.4 436,880.4 437.5,880.4 438.9,880.4 440.4,880.4 441.8,880.4 443.2,880.4 444.7,880.4 446.1,880.4 447.5,880.4 449,880.4 450.4,880.4 451.9,880.4 453.3,880.3 454.7,880.3 456.2,880.3 457.6,880.3 459,880.3 460.5,880.3 461.9,880.3 463.4,880.3 464.8,880.3 466.2,880.3 467.7,880.3 469.1,880.3 470.5,880.3 472,880.3 473.4,880.3 474.9,880.3 476.3,880.3 477.7,880.3 479.2,880.3 480.6,880.3 482,880.3 483.5,880.3 484.9,880.3 486.4,880.3 487.8,880.3 489.2,880.2 490.7,880.2 492.1,880.2 493.5,880.2 495,880.2 496.4,880.2 497.9,880.2 499.3,880.2 500.7,880.2 502.2,880.2 503.6,880.2 505,880.2 506.5,880.2 507.9,880.2 509.4,880.2 510.8,880.2 512.2,880.1 513.7,880.1 515.1,880.1 516.6,880.1 518,880.1 519.4,880.1 520.9,880.1 522.3,880.1 523.7,880.1 525.2,880.1 526.6,880 528.1,880 529.5,880 530.9,880 532.4,880 533.8,880 535.2,880 536.7,880 538.1,879.9 539.6,879.9 541,879.9 542.4,879.9 543.9,879.9 545.3,879.9 546.7,879.8 548.2,879.8 549.6,879.8 551.1,879.8 552.5,879.8 553.9,879.7 555.4,879.7 556.8,879.7 558.2,879.6 559.7,879.6 561.1,879.6 562.6,879.5 564,879.5 565.4,879.5 566.9,879.4 568.3,879.4 569.7,879.3 571.2,879.2 572.6,879.1 574.1,879 575.5,878.9 576.9,878.7 578.4,878.5 579.8,878.3 581.2,878.1 582.7,877.9 584.1,877.6 585.6,877.4 587,877.1 588.4,876.9 589.9,876.6 591.3,876.3 592.7,876 594.2,875.6 595.6,875.3 597.1,875 598.5,874.6 599.9,874.3 601.4,873.9 602.8,873.6 604.2,873.2 605.7,872.9 607.1,872.5 608.6,872.1 610,871.7" fill="none" stroke="#0a7d0a" stroke-width="2.3" stroke-linejoin="round" stroke-linecap="butt" stroke-dasharray="12 5 3 5"/><polyline points="137,881.5 138.4,881.5 139.9,881.5 141.3,881.4 142.8,881.4 144.2,881.3 145.6,881.3 147.1,881.3 148.5,881.2 149.9,881.2 151.4,881.1 152.8,881.1 154.3,881.1 155.7,881 157.1,881 158.6,881 160,880.9 161.4,880.9 162.9,880.9 164.3,880.8 165.8,880.8 167.2,880.8 168.6,880.8 170.1,880.8 171.5,880.7 172.9,880.7 174.4,880.7 175.8,880.7 177.3,880.7 178.7,880.7 180.1,880.7 181.6,880.7 183,880.7 184.4,880.7 185.9,880.7 187.3,880.7 188.8,880.7 190.2,880.7 191.6,880.7 193.1,880.7 194.5,880.7 195.9,880.7 197.4,880.7 198.8,880.7 200.3,880.7 201.7,880.7 203.1,880.7 204.6,880.7 206,880.7 207.4,880.7 208.9,880.7 210.3,880.7 211.8,880.7 213.2,880.7 214.6,880.7 216.1,880.7 217.5,880.7 218.9,880.7 220.4,880.7 221.8,880.7 223.3,880.7 224.7,880.7 226.1,880.7 227.6,880.7 229,880.7 230.4,880.7 231.9,880.7 233.3,880.7 234.8,880.7 236.2,880.7 237.6,880.7 239.1,880.7 240.5,880.7 242,880.7 243.4,880.7 244.8,880.7 246.3,880.7 247.7,880.7 249.1,880.7 250.6,880.7 252,880.7 253.5,880.7 254.9,880.7 256.3,880.7 257.8,880.7 259.2,880.7 260.6,880.7 262.1,880.7 263.5,880.7 265,880.7 266.4,880.7 267.8,880.7 269.3,880.7 270.7,880.7 272.1,880.7 273.6,880.7 275,880.7 276.5,880.7 277.9,880.7 279.3,880.7 280.8,880.7 282.2,880.7 283.6,880.7 285.1,880.7 286.5,880.7 288,880.7 289.4,880.7 290.8,880.7 292.3,880.7 293.7,880.7 295.1,880.7 296.6,880.7 298,880.7 299.5,880.7 300.9,880.7 302.3,880.7 303.8,880.7 305.2,880.7 306.6,880.7 308.1,880.7 309.5,880.7 311,880.7 312.4,880.7 313.8,880.7 315.3,880.7 316.7,880.7 318.1,880.7 319.6,880.7 321,880.7 322.5,880.7 323.9,880.7 325.3,880.7 326.8,880.7 328.2,880.7 329.7,880.7 331.1,880.7 332.5,880.7 334,880.7 335.4,880.7 336.8,880.7 338.3,880.7 339.7,880.7 341.2,880.7 342.6,880.7 344,880.7 345.5,880.7 346.9,880.7 348.3,880.7 349.8,880.7 351.2,880.7 352.7,880.7 354.1,880.7 355.5,880.7 357,880.7 358.4,880.7 359.8,880.7 361.3,880.7 362.7,880.7 364.2,880.7 365.6,880.7 367,880.7 368.5,880.7 369.9,880.7 371.3,880.7 372.8,880.7 374.2,880.7 375.7,880.7 377.1,880.7 378.5,880.7 380,880.7 381.4,880.7 382.8,880.7 384.3,880.7 385.7,880.7 387.2,880.7 388.6,880.7 390,880.7 391.5,880.7 392.9,880.7 394.3,880.7 395.8,880.7 397.2,880.7 398.7,880.7 400.1,880.7 401.5,880.7 403,880.7 404.4,880.7 405.8,880.7 407.3,880.7 408.7,880.7 410.2,880.7 411.6,880.7 413,880.7 414.5,880.7 415.9,880.7 417.3,880.7 418.8,880.7 420.2,880.7 421.7,880.7 423.1,880.7 424.5,880.7 426,880.7 427.4,880.7 428.9,880.7 430.3,880.7 431.7,880.7 433.2,880.7 434.6,880.7 436,880.7 437.5,880.7 438.9,880.7 440.4,880.7 441.8,880.7 443.2,880.7 444.7,880.7 446.1,880.7 447.5,880.7 449,880.7 450.4,880.7 451.9,880.7 453.3,880.7 454.7,880.7 456.2,880.7 457.6,880.7 459,880.7 460.5,880.7 461.9,880.7 463.4,880.6 464.8,880.6 466.2,880.6 467.7,880.6 469.1,880.6 470.5,880.6 472,880.6 473.4,880.6 474.9,880.6 476.3,880.6 477.7,880.6 479.2,880.6 480.6,880.6 482,880.6 483.5,880.6 484.9,880.6 486.4,880.6 487.8,880.6 489.2,880.6 490.7,880.6 492.1,880.6 493.5,880.6 495,880.6 496.4,880.6 497.9,880.6 499.3,880.6 500.7,880.6 502.2,880.5 503.6,880.5 505,880.5 506.5,880.5 507.9,880.5 509.4,880.5 510.8,880.5 512.2,880.5 513.7,880.5 515.1,880.5 516.6,880.5 518,880.5 519.4,880.5 520.9,880.5 522.3,880.5 523.7,880.5 525.2,880.5 526.6,880.5 528.1,880.5 529.5,880.5 530.9,880.5 532.4,880.5 533.8,880.5 535.2,880.4 536.7,880.4 538.1,880.4 539.6,880.4 541,880.4 542.4,880.4 543.9,880.4 545.3,880.4 546.7,880.4 548.2,880.4 549.6,880.4 551.1,880.4 552.5,880.4 553.9,880.4 555.4,880.4 556.8,880.3 558.2,880.3 559.7,880.3 561.1,880.3 562.6,880.3 564,880.3 565.4,880.3 566.9,880.3 568.3,880.3 569.7,880.3 571.2,880.2 572.6,880.2 574.1,880.2 575.5,880.2 576.9,880.2 578.4,880.2 579.8,880.1 581.2,880.1 582.7,880.1 584.1,880.1 585.6,880.1 587,880.1 588.4,880 589.9,880 591.3,880 592.7,880 594.2,879.9 595.6,879.9 597.1,879.9 598.5,879.9 599.9,879.8 601.4,879.8 602.8,879.8 604.2,879.8 605.7,879.7 607.1,879.7 608.6,879.7 610,879.6" fill="none" stroke="#ff33ff" stroke-width="2.1" stroke-linejoin="round" stroke-linecap="butt" stroke-dasharray="12 5 3 5"/><polyline points="137,881.3 138.4,881.3 139.9,881.3 141.3,881.2 142.8,881.2 144.2,881.2 145.6,881.1 147.1,881.1 148.5,881.1 149.9,881.1 151.4,881 152.8,881 154.3,881 155.7,880.9 157.1,880.9 158.6,880.9 160,880.9 161.4,880.9 162.9,880.8 164.3,880.8 165.8,880.8 167.2,880.8 168.6,880.8 170.1,880.7 171.5,880.7 172.9,880.7 174.4,880.7 175.8,880.7 177.3,880.7 178.7,880.7 180.1,880.7 181.6,880.7 183,880.7 184.4,880.7 185.9,880.7 187.3,880.7 188.8,880.7 190.2,880.7 191.6,880.7 193.1,880.7 194.5,880.7 195.9,880.7 197.4,880.7 198.8,880.7 200.3,880.7 201.7,880.7 203.1,880.7 204.6,880.7 206,880.7 207.4,880.7 208.9,880.7 210.3,880.7 211.8,880.7 213.2,880.7 214.6,880.7 216.1,880.7 217.5,880.7 218.9,880.7 220.4,880.7 221.8,880.7 223.3,880.7 224.7,880.7 226.1,880.7 227.6,880.7 229,880.7 230.4,880.7 231.9,880.7 233.3,880.7 234.8,880.7 236.2,880.7 237.6,880.7 239.1,880.7 240.5,880.7 242,880.7 243.4,880.7 244.8,880.7 246.3,880.7 247.7,880.7 249.1,880.7 250.6,880.7 252,880.7 253.5,880.7 254.9,880.7 256.3,880.7 257.8,880.7 259.2,880.7 260.6,880.7 262.1,880.7 263.5,880.7 265,880.7 266.4,880.7 267.8,880.7 269.3,880.7 270.7,880.7 272.1,880.7 273.6,880.7 275,880.7 276.5,880.7 277.9,880.7 279.3,880.7 280.8,880.7 282.2,880.7 283.6,880.7 285.1,880.7 286.5,880.7 288,880.7 289.4,880.7 290.8,880.7 292.3,880.7 293.7,880.7 295.1,880.7 296.6,880.7 298,880.7 299.5,880.7 300.9,880.7 302.3,880.7 303.8,880.7 305.2,880.7 306.6,880.7 308.1,880.7 309.5,880.7 311,880.7 312.4,880.7 313.8,880.7 315.3,880.7 316.7,880.7 318.1,880.7 319.6,880.7 321,880.7 322.5,880.7 323.9,880.7 325.3,880.7 326.8,880.7 328.2,880.7 329.7,880.7 331.1,880.7 332.5,880.7 334,880.7 335.4,880.7 336.8,880.7 338.3,880.7 339.7,880.7 341.2,880.7 342.6,880.7 344,880.7 345.5,880.7 346.9,880.7 348.3,880.7 349.8,880.7 351.2,880.7 352.7,880.7 354.1,880.7 355.5,880.7 357,880.7 358.4,880.7 359.8,880.7 361.3,880.7 362.7,880.7 364.2,880.7 365.6,880.7 367,880.7 368.5,880.7 369.9,880.7 371.3,880.7 372.8,880.7 374.2,880.7 375.7,880.7 377.1,880.7 378.5,880.7 380,880.7 381.4,880.7 382.8,880.7 384.3,880.7 385.7,880.7 387.2,880.7 388.6,880.7 390,880.7 391.5,880.7 392.9,880.7 394.3,880.7 395.8,880.7 397.2,880.7 398.7,880.7 400.1,880.7 401.5,880.7 403,880.7 404.4,880.7 405.8,880.7 407.3,880.7 408.7,880.7 410.2,880.7 411.6,880.7 413,880.7 414.5,880.7 415.9,880.7 417.3,880.7 418.8,880.7 420.2,880.7 421.7,880.7 423.1,880.7 424.5,880.7 426,880.7 427.4,880.7 428.9,880.7 430.3,880.7 431.7,880.7 433.2,880.7 434.6,880.7 436,880.7 437.5,880.7 438.9,880.7 440.4,880.7 441.8,880.7 443.2,880.7 444.7,880.7 446.1,880.7 447.5,880.7 449,880.7 450.4,880.7 451.9,880.7 453.3,880.7 454.7,880.7 456.2,880.7 457.6,880.7 459,880.7 460.5,880.7 461.9,880.7 463.4,880.7 464.8,880.7 466.2,880.7 467.7,880.7 469.1,880.7 470.5,880.7 472,880.7 473.4,880.7 474.9,880.7 476.3,880.7 477.7,880.7 479.2,880.7 480.6,880.7 482,880.7 483.5,880.7 484.9,880.7 486.4,880.7 487.8,880.7 489.2,880.7 490.7,880.7 492.1,880.7 493.5,880.7 495,880.7 496.4,880.7 497.9,880.7 499.3,880.7 500.7,880.7 502.2,880.7 503.6,880.7 505,880.7 506.5,880.6 507.9,880.6 509.4,880.6 510.8,880.6 512.2,880.6 513.7,880.6 515.1,880.6 516.6,880.6 518,880.6 519.4,880.6 520.9,880.6 522.3,880.6 523.7,880.6 525.2,880.6 526.6,880.6 528.1,880.6 529.5,880.6 530.9,880.6 532.4,880.6 533.8,880.6 535.2,880.6 536.7,880.6 538.1,880.6 539.6,880.6 541,880.6 542.4,880.6 543.9,880.6 545.3,880.6 546.7,880.5 548.2,880.5 549.6,880.5 551.1,880.5 552.5,880.5 553.9,880.5 555.4,880.5 556.8,880.5 558.2,880.5 559.7,880.5 561.1,880.5 562.6,880.5 564,880.5 565.4,880.5 566.9,880.5 568.3,880.5 569.7,880.5 571.2,880.5 572.6,880.5 574.1,880.5 575.5,880.4 576.9,880.4 578.4,880.4 579.8,880.4 581.2,880.4 582.7,880.4 584.1,880.4 585.6,880.4 587,880.3 588.4,880.3 589.9,880.3 591.3,880.3 592.7,880.3 594.2,880.3 595.6,880.3 597.1,880.2 598.5,880.2 599.9,880.2 601.4,880.2 602.8,880.2 604.2,880.1 605.7,880.1 607.1,880.1 608.6,880.1 610,880.1" fill="none" stroke="#8a1cff" stroke-width="2.4" stroke-linejoin="round" stroke-linecap="butt" stroke-dasharray="12 5 3 5"/><polyline points="137,885.4 138.4,885.3 139.9,885.1 141.3,885 142.8,884.8 144.2,884.7 145.6,884.6 147.1,884.4 148.5,884.3 149.9,884.1 151.4,884 152.8,883.9 154.3,883.7 155.7,883.6 157.1,883.5 158.6,883.4 160,883.2 161.4,883.1 162.9,883 164.3,882.9 165.8,882.8 167.2,882.7 168.6,882.6 170.1,882.5 171.5,882.4 172.9,882.3 174.4,882.2 175.8,882.2 177.3,882.1 178.7,882 180.1,882 181.6,881.9 183,881.8 184.4,881.8 185.9,881.7 187.3,881.7 188.8,881.6 190.2,881.5 191.6,881.5 193.1,881.4 194.5,881.4 195.9,881.3 197.4,881.3 198.8,881.2 200.3,881.2 201.7,881.1 203.1,881.1 204.6,881.1 206,881 207.4,881 208.9,880.9 210.3,880.9 211.8,880.9 213.2,880.8 214.6,880.8 216.1,880.8 217.5,880.8 218.9,880.7 220.4,880.7 221.8,880.7 223.3,880.7 224.7,880.7 226.1,880.7 227.6,880.7 229,880.7 230.4,880.6 231.9,880.6 233.3,880.6 234.8,880.6 236.2,880.6 237.6,880.6 239.1,880.6 240.5,880.6 242,880.6 243.4,880.6 244.8,880.6 246.3,880.6 247.7,880.6 249.1,880.6 250.6,880.6 252,880.6 253.5,880.6 254.9,880.6 256.3,880.5 257.8,880.5 259.2,880.5 260.6,880.5 262.1,880.5 263.5,880.5 265,880.5 266.4,880.5 267.8,880.5 269.3,880.5 270.7,880.4 272.1,880.4 273.6,880.4 275,880.4 276.5,880.4 277.9,880.4 279.3,880.3 280.8,880.3 282.2,880.3 283.6,880.3 285.1,880.3 286.5,880.2 288,880.2 289.4,880.2 290.8,880.2 292.3,880.1 293.7,880.1 295.1,880.1 296.6,880.1 298,880 299.5,880 300.9,880 302.3,880 303.8,879.9 305.2,879.9 306.6,879.9 308.1,879.9 309.5,879.8 311,879.8 312.4,879.8 313.8,879.8 315.3,879.8 316.7,879.7 318.1,879.7 319.6,879.7 321,879.7 322.5,879.6 323.9,879.6 325.3,879.6 326.8,879.6 328.2,879.5 329.7,879.5 331.1,879.5 332.5,879.5 334,879.5 335.4,879.4 336.8,879.4 338.3,879.4 339.7,879.4 341.2,879.3 342.6,879.3 344,879.3 345.5,879.2 346.9,879.2 348.3,879.2 349.8,879.2 351.2,879.1 352.7,879.1 354.1,879.1 355.5,879 357,879 358.4,879 359.8,878.9 361.3,878.9 362.7,878.9 364.2,878.8 365.6,878.8 367,878.8 368.5,878.7 369.9,878.7 371.3,878.7 372.8,878.6 374.2,878.6 375.7,878.6 377.1,878.5 378.5,878.5 380,878.4 381.4,878.4 382.8,878.4 384.3,878.3 385.7,878.3 387.2,878.3 388.6,878.2 390,878.2 391.5,878.2 392.9,878.1 394.3,878.1 395.8,878 397.2,878 398.7,878 400.1,877.9 401.5,877.9 403,877.9 404.4,877.8 405.8,877.8 407.3,877.8 408.7,877.7 410.2,877.7 411.6,877.7 413,877.6 414.5,877.6 415.9,877.5 417.3,877.5 418.8,877.5 420.2,877.4 421.7,877.4 423.1,877.4 424.5,877.3 426,877.3 427.4,877.3 428.9,877.2 430.3,877.2 431.7,877.2 433.2,877.1 434.6,877.1 436,877.1 437.5,877 438.9,877 440.4,877 441.8,876.9 443.2,876.9 444.7,876.8 446.1,876.8 447.5,876.8 449,876.7 450.4,876.7 451.9,876.7 453.3,876.6 454.7,876.6 456.2,876.6 457.6,876.5 459,876.5 460.5,876.5 461.9,876.4 463.4,876.4 464.8,876.4 466.2,876.3 467.7,876.3 469.1,876.3 470.5,876.2 472,876.2 473.4,876.1 474.9,876.1 476.3,876.1 477.7,876 479.2,876 480.6,876 482,875.9 483.5,875.9 484.9,875.8 486.4,875.8 487.8,875.8 489.2,875.7 490.7,875.7 492.1,875.7 493.5,875.6 495,875.6 496.4,875.5 497.9,875.5 499.3,875.5 500.7,875.4 502.2,875.4 503.6,875.3 505,875.3 506.5,875.2 507.9,875.2 509.4,875.2 510.8,875.1 512.2,875.1 513.7,875 515.1,875 516.6,874.9 518,874.9 519.4,874.8 520.9,874.8 522.3,874.7 523.7,874.7 525.2,874.6 526.6,874.6 528.1,874.5 529.5,874.5 530.9,874.4 532.4,874.4 533.8,874.3 535.2,874.3 536.7,874.2 538.1,874.2 539.6,874.1 541,874.1 542.4,874 543.9,874 545.3,873.9 546.7,873.9 548.2,873.8 549.6,873.7 551.1,873.7 552.5,873.6 553.9,873.5 555.4,873.5 556.8,873.4 558.2,873.3 559.7,873.2 561.1,873.2 562.6,873.1 564,873 565.4,872.9 566.9,872.8 568.3,872.7 569.7,872.6 571.2,872.5 572.6,872.3 574.1,872.2 575.5,872 576.9,871.9 578.4,871.7 579.8,871.5 581.2,871.4 582.7,871.2 584.1,871 585.6,870.8 587,870.6 588.4,870.3 589.9,870.1 591.3,869.9 592.7,869.6 594.2,869.4 595.6,869.2 597.1,868.9 598.5,868.6 599.9,868.4 601.4,868.1 602.8,867.9 604.2,867.6 605.7,867.3 607.1,867 608.6,866.7 610,866.5" fill="none" stroke="#ff8000" stroke-width="2.8" stroke-linejoin="round" stroke-linecap="round" /><polyline points="137,881.8 138.4,881.7 139.9,881.7 141.3,881.6 142.8,881.6 144.2,881.5 145.6,881.5 147.1,881.4 148.5,881.4 149.9,881.3 151.4,881.3 152.8,881.2 154.3,881.2 155.7,881.2 157.1,881.1 158.6,881.1 160,881 161.4,881 162.9,881 164.3,880.9 165.8,880.9 167.2,880.9 168.6,880.9 170.1,880.8 171.5,880.8 172.9,880.8 174.4,880.8 175.8,880.7 177.3,880.7 178.7,880.7 180.1,880.7 181.6,880.7 183,880.7 184.4,880.7 185.9,880.7 187.3,880.7 188.8,880.6 190.2,880.6 191.6,880.6 193.1,880.6 194.5,880.6 195.9,880.6 197.4,880.6 198.8,880.6 200.3,880.6 201.7,880.6 203.1,880.6 204.6,880.6 206,880.6 207.4,880.6 208.9,880.6 210.3,880.6 211.8,880.6 213.2,880.5 214.6,880.5 216.1,880.5 217.5,880.5 218.9,880.5 220.4,880.5 221.8,880.5 223.3,880.5 224.7,880.5 226.1,880.5 227.6,880.5 229,880.4 230.4,880.4 231.9,880.4 233.3,880.4 234.8,880.4 236.2,880.4 237.6,880.3 239.1,880.3 240.5,880.3 242,880.3 243.4,880.3 244.8,880.2 246.3,880.2 247.7,880.2 249.1,880.2 250.6,880.2 252,880.1 253.5,880.1 254.9,880.1 256.3,880.1 257.8,880 259.2,880 260.6,880 262.1,879.9 263.5,879.9 265,879.9 266.4,879.8 267.8,879.8 269.3,879.8 270.7,879.7 272.1,879.7 273.6,879.7 275,879.6 276.5,879.6 277.9,879.5 279.3,879.5 280.8,879.4 282.2,879.4 283.6,879.3 285.1,879.3 286.5,879.2 288,879.2 289.4,879.1 290.8,879.1 292.3,879 293.7,878.9 295.1,878.9 296.6,878.8 298,878.7 299.5,878.6 300.9,878.6 302.3,878.5 303.8,878.4 305.2,878.3 306.6,878.2 308.1,878.1 309.5,878 311,877.9 312.4,877.8 313.8,877.7 315.3,877.5 316.7,877.4 318.1,877.2 319.6,877 321,876.8 322.5,876.6 323.9,876.4 325.3,876.2 326.8,876 328.2,875.8 329.7,875.5 331.1,875.3 332.5,875 334,874.8 335.4,874.5 336.8,874.2 338.3,874 339.7,873.7 341.2,873.4 342.6,873.1 344,872.8 345.5,872.5 346.9,872.3 348.3,872 349.8,871.7 351.2,871.4 352.7,871.1 354.1,870.8 355.5,870.4 357,870.1 358.4,869.7 359.8,869.3 361.3,868.9 362.7,868.5 364.2,868.1 365.6,867.7 367,867.3 368.5,866.8 369.9,866.4 371.3,865.9 372.8,865.5 374.2,865 375.7,864.6 377.1,864.1 378.5,863.6 380,863.1 381.4,862.7 382.8,862.2 384.3,861.8 385.7,861.3 387.2,860.9 388.6,860.5 390,860 391.5,859.6 392.9,859.1 394.3,858.7 395.8,858.3 397.2,857.9 398.7,857.6 400.1,857.1 401.5,856.8 403,856.4 404.4,856 405.8,855.5 407.3,855.1 408.7,854.8 410.2,854.4 411.6,854.1 413,853.6 414.5,853.2 415.9,852.8 417.3,852.5 418.8,851.9 420.2,851.6 421.7,851.3 423.1,851 424.5,850.6 426,850.2 427.4,849.9 428.9,849.5 430.3,849.1 431.7,848.7 433.2,848.4 434.6,848.2 436,847.8 437.5,847.6 438.9,847.3 440.4,846.7 441.8,846.7 443.2,846.1 444.7,846.1 446.1,845.8 447.5,845.4 449,845.2 450.4,844.9 451.9,844.7 453.3,844.5 454.7,844.2 456.2,844 457.6,843.4 459,843.4 460.5,842.9 461.9,843.3 463.4,842.6 464.8,842.3 466.2,842.2 467.7,841.7 469.1,841.5 470.5,841.4 472,841.1 473.4,840.4 474.9,840.6 476.3,840.3 477.7,840.2 479.2,839.9 480.6,839.9 482,839.4 483.5,838.6 484.9,838.6 486.4,838.5 487.8,838.1 489.2,837.7 490.7,837.8 492.1,837.2 493.5,837.2 495,837.1 496.4,836.5 497.9,837.2 499.3,836.6 500.7,836.1 502.2,836.2 503.6,835.7 505,835.6 506.5,835.4 507.9,834.3 509.4,834.6 510.8,834.5 512.2,833.9 513.7,834.1 515.1,833.5 516.6,833.4 518,832.8 519.4,833.4 520.9,832.5 522.3,832.4 523.7,832.5 525.2,831.7 526.6,831.9 528.1,831 529.5,831 530.9,830.7 532.4,830.6 533.8,830.1 535.2,830.6 536.7,829.7 538.1,829.7 539.6,829.1 541,828.9 542.4,828.4 543.9,828.6 545.3,827.5 546.7,827 548.2,827.6 549.6,827.2 551.1,826.8 552.5,826.2 553.9,825.7 555.4,826.4 556.8,825.9 558.2,825.8 559.7,825.5 561.1,825.4 562.6,824.5 564,824.7 565.4,823.6 566.9,823.5 568.3,823.8 569.7,823.5 571.2,823.1 572.6,822.2 574.1,822.6 575.5,822.5 576.9,821.8 578.4,821.4 579.8,821.4 581.2,820.4 582.7,820.6 584.1,820.2 585.6,820.4 587,819.8 588.4,819.6 589.9,820 591.3,818.9 592.7,819.2 594.2,818.4 595.6,818.6 597.1,817.2 598.5,817.4 599.9,817 601.4,816.7 602.8,817.1 604.2,817.1 605.7,816.2 607.1,815.6 608.6,815.5 610,815" fill="none" stroke="#ff33ff" stroke-width="2.6" stroke-linejoin="round" stroke-linecap="round" /><polyline points="137,882 138.4,881.9 139.9,881.9 141.3,881.8 142.8,881.7 144.2,881.7 145.6,881.6 147.1,881.6 148.5,881.5 149.9,881.5 151.4,881.4 152.8,881.4 154.3,881.3 155.7,881.3 157.1,881.2 158.6,881.2 160,881.1 161.4,881.1 162.9,881 164.3,881 165.8,881 167.2,880.9 168.6,880.9 170.1,880.9 171.5,880.8 172.9,880.8 174.4,880.8 175.8,880.8 177.3,880.7 178.7,880.7 180.1,880.7 181.6,880.7 183,880.7 184.4,880.7 185.9,880.6 187.3,880.6 188.8,880.6 190.2,880.6 191.6,880.6 193.1,880.6 194.5,880.6 195.9,880.6 197.4,880.6 198.8,880.6 200.3,880.5 201.7,880.5 203.1,880.5 204.6,880.5 206,880.5 207.4,880.5 208.9,880.5 210.3,880.5 211.8,880.5 213.2,880.5 214.6,880.5 216.1,880.4 217.5,880.4 218.9,880.4 220.4,880.4 221.8,880.4 223.3,880.4 224.7,880.4 226.1,880.3 227.6,880.3 229,880.3 230.4,880.3 231.9,880.3 233.3,880.2 234.8,880.2 236.2,880.2 237.6,880.2 239.1,880.2 240.5,880.1 242,880.1 243.4,880.1 244.8,880 246.3,880 247.7,880 249.1,879.9 250.6,879.9 252,879.9 253.5,879.8 254.9,879.8 256.3,879.8 257.8,879.7 259.2,879.7 260.6,879.6 262.1,879.6 263.5,879.5 265,879.5 266.4,879.4 267.8,879.4 269.3,879.3 270.7,879.2 272.1,879.1 273.6,879 275,878.9 276.5,878.8 277.9,878.7 279.3,878.6 280.8,878.5 282.2,878.4 283.6,878.2 285.1,878.1 286.5,877.9 288,877.8 289.4,877.6 290.8,877.4 292.3,877.3 293.7,877.1 295.1,876.9 296.6,876.7 298,876.5 299.5,876.3 300.9,876.1 302.3,875.9 303.8,875.7 305.2,875.5 306.6,875.3 308.1,875 309.5,874.8 311,874.6 312.4,874.3 313.8,874 315.3,873.7 316.7,873.4 318.1,873.1 319.6,872.7 321,872.4 322.5,872 323.9,871.6 325.3,871.2 326.8,870.8 328.2,870.3 329.7,869.9 331.1,869.4 332.5,868.9 334,868.5 335.4,868 336.8,867.5 338.3,866.9 339.7,866.4 341.2,865.9 342.6,865.4 344,864.8 345.5,864.3 346.9,863.7 348.3,863.2 349.8,862.6 351.2,862 352.7,861.4 354.1,860.8 355.5,860.2 357,859.6 358.4,858.9 359.8,858.2 361.3,857.4 362.7,856.7 364.2,855.9 365.6,855.1 367,854.3 368.5,853.5 369.9,852.6 371.3,851.8 372.8,850.9 374.2,850.1 375.7,849.2 377.1,848.3 378.5,847.4 380,846.5 381.4,845.6 382.8,844.8 384.3,843.9 385.7,843 387.2,842.1 388.6,841.3 390,840.3 391.5,839.5 392.9,838.7 394.3,837.8 395.8,836.9 397.2,836.2 398.7,835.4 400.1,834.5 401.5,833.6 403,832.8 404.4,832.1 405.8,831.2 407.3,830.3 408.7,829.4 410.2,828.6 411.6,827.7 413,827.1 414.5,826.2 415.9,825.4 417.3,824.3 418.8,823.6 420.2,822.7 421.7,821.8 423.1,821.1 424.5,820.4 426,819.5 427.4,818.6 428.9,817.6 430.3,816.9 431.7,816.3 433.2,815.2 434.6,814.4 436,813.9 437.5,813 438.9,812.4 440.4,811.3 441.8,810.6 443.2,810 444.7,809.1 446.1,808.1 447.5,807.5 449,806.5 450.4,805.7 451.9,805.1 453.3,804.2 454.7,802.9 456.2,802.6 457.6,802 459,801 460.5,800.5 461.9,799.2 463.4,798.6 464.8,797.7 466.2,797 467.7,796.4 469.1,795.5 470.5,794.9 472,794.4 473.4,793.8 474.9,793 476.3,792.8 477.7,791 479.2,791.2 480.6,790.2 482,789.9 483.5,789.4 484.9,788.3 486.4,787.7 487.8,787.1 489.2,786.3 490.7,786.1 492.1,785.2 493.5,784.6 495,784.3 496.4,783.8 497.9,783 499.3,782.6 500.7,782.1 502.2,782.3 503.6,781 505,780.4 506.5,780 507.9,779.3 509.4,778.3 510.8,778.4 512.2,777.6 513.7,777.6 515.1,777 516.6,776.3 518,776 519.4,775 520.9,774.8 522.3,773.9 523.7,773.7 525.2,773.2 526.6,772.2 528.1,771.7 529.5,770.9 530.9,770.2 532.4,769.4 533.8,768.2 535.2,767.4 536.7,767 538.1,766.7 539.6,765.2 541,765.8 542.4,765.3 543.9,763.6 545.3,763 546.7,762.3 548.2,761.5 549.6,761.5 551.1,760.6 552.5,758.8 553.9,758.2 555.4,758.2 556.8,756.3 558.2,756.9 559.7,755.9 561.1,754.8 562.6,754.7 564,753.7 565.4,752.9 566.9,752.2 568.3,751 569.7,750.4 571.2,750.3 572.6,749.4 574.1,748.4 575.5,747.7 576.9,747.3 578.4,746.1 579.8,745.2 581.2,745 582.7,743.7 584.1,744 585.6,743.2 587,741.6 588.4,741.4 589.9,740.8 591.3,739.7 592.7,739.1 594.2,738 595.6,738 597.1,736.8 598.5,734.5 599.9,735.1 601.4,735.2 602.8,733.4 604.2,732.6 605.7,731.5 607.1,731.3 608.6,730.9 610,729.2" fill="none" stroke="#8a1cff" stroke-width="2.8" stroke-linejoin="round" stroke-linecap="round" /><polyline points="137,882 138.4,881.9 139.9,881.9 141.3,881.8 142.8,881.7 144.2,881.7 145.6,881.6 147.1,881.6 148.5,881.5 149.9,881.5 151.4,881.4 152.8,881.4 154.3,881.3 155.7,881.3 157.1,881.2 158.6,881.2 160,881.2 161.4,881.1 162.9,881.1 164.3,881 165.8,881 167.2,881 168.6,880.9 170.1,880.9 171.5,880.9 172.9,880.8 174.4,880.8 175.8,880.8 177.3,880.7 178.7,880.7 180.1,880.7 181.6,880.7 183,880.7 184.4,880.6 185.9,880.6 187.3,880.6 188.8,880.6 190.2,880.6 191.6,880.6 193.1,880.6 194.5,880.5 195.9,880.5 197.4,880.5 198.8,880.5 200.3,880.5 201.7,880.5 203.1,880.5 204.6,880.5 206,880.5 207.4,880.5 208.9,880.4 210.3,880.4 211.8,880.4 213.2,880.4 214.6,880.4 216.1,880.4 217.5,880.4 218.9,880.3 220.4,880.3 221.8,880.3 223.3,880.3 224.7,880.2 226.1,880.2 227.6,880.2 229,880.1 230.4,880.1 231.9,880.1 233.3,880 234.8,880 236.2,879.9 237.6,879.8 239.1,879.8 240.5,879.7 242,879.6 243.4,879.6 244.8,879.5 246.3,879.4 247.7,879.3 249.1,879.3 250.6,879.2 252,879.1 253.5,879 254.9,878.9 256.3,878.8 257.8,878.7 259.2,878.6 260.6,878.5 262.1,878.4 263.5,878.3 265,878.1 266.4,878 267.8,877.9 269.3,877.8 270.7,877.6 272.1,877.5 273.6,877.3 275,877.1 276.5,876.9 277.9,876.7 279.3,876.5 280.8,876.2 282.2,876 283.6,875.7 285.1,875.5 286.5,875.2 288,874.9 289.4,874.6 290.8,874.3 292.3,874 293.7,873.7 295.1,873.3 296.6,873 298,872.6 299.5,872.3 300.9,871.9 302.3,871.5 303.8,871.1 305.2,870.7 306.6,870.3 308.1,869.9 309.5,869.5 311,869 312.4,868.5 313.8,868 315.3,867.4 316.7,866.7 318.1,866.1 319.6,865.4 321,864.7 322.5,863.9 323.9,863.1 325.3,862.3 326.8,861.5 328.2,860.6 329.7,859.7 331.1,858.7 332.5,857.8 334,856.8 335.4,855.8 336.8,854.8 338.3,853.7 339.7,852.6 341.2,851.5 342.6,850.4 344,849.3 345.5,848.1 346.9,847 348.3,845.8 349.8,844.6 351.2,843.4 352.7,842.2 354.1,840.9 355.5,839.5 357,838 358.4,836.5 359.8,834.8 361.3,833.2 362.7,831.4 364.2,829.6 365.6,827.8 367,825.9 368.5,824 369.9,822 371.3,820 372.8,817.9 374.2,815.9 375.7,813.8 377.1,811.7 378.5,809.5 380,807.5 381.4,805.3 382.8,803.1 384.3,800.9 385.7,798.9 387.2,796.8 388.6,794.7 390,792.6 391.5,790.6 392.9,788.5 394.3,786.7 395.8,784.8 397.2,782.7 398.7,780.7 400.1,778.6 401.5,776.7 403,774.7 404.4,772.5 405.8,770.5 407.3,768.4 408.7,766.4 410.2,764.1 411.6,762.1 413,759.7 414.5,757.8 415.9,755.8 417.3,754.2 418.8,751.7 420.2,749.7 421.7,747.6 423.1,745.5 424.5,743.9 426,741.6 427.4,740 428.9,737.4 430.3,736.5 431.7,734.8 433.2,732.9 434.6,731 436,729.3 437.5,726.7 438.9,725.7 440.4,724.4 441.8,722 443.2,721 444.7,719.7 446.1,717.4 447.5,716 449,714.9 450.4,712.7 451.9,711.7 453.3,709.7 454.7,708.7 456.2,706.8 457.6,706 459,705.1 460.5,702.2 461.9,702.1 463.4,700.6 464.8,699.5 466.2,697.9 467.7,696.4 469.1,695.1 470.5,693.5 472,691.7 473.4,691.3 474.9,690.6 476.3,689.3 477.7,687.7 479.2,687 480.6,684.4 482,683.8 483.5,682.5 484.9,681.1 486.4,680.6 487.8,679.1 489.2,677.1 490.7,675.9 492.1,675.4 493.5,672.9 495,673.6 496.4,671.9 497.9,670.7 499.3,671.1 500.7,667.1 502.2,666.9 503.6,666.7 505,663.6 506.5,663.4 507.9,662.4 509.4,662 510.8,660.3 512.2,660.3 513.7,657.6 515.1,657.3 516.6,655.7 518,653.8 519.4,653.3 520.9,652.1 522.3,650.9 523.7,650.4 525.2,648 526.6,646.2 528.1,645.6 529.5,644.2 530.9,644.3 532.4,643.1 533.8,642.2 535.2,638.8 536.7,638.7 538.1,636.1 539.6,636.6 541,635 542.4,633.3 543.9,631.3 545.3,630.7 546.7,629.2 548.2,628.1 549.6,626.6 551.1,626.4 552.5,624 553.9,622.9 555.4,621.5 556.8,619.7 558.2,619.4 559.7,617.5 561.1,616.4 562.6,614.4 564,612.8 565.4,612.9 566.9,610.2 568.3,607.7 569.7,609.3 571.2,607.4 572.6,606.1 574.1,604.3 575.5,601.3 576.9,601.3 578.4,600.5 579.8,598.1 581.2,597.7 582.7,594.9 584.1,594.2 585.6,592 587,592.3 588.4,587.8 589.9,588.3 591.3,587.1 592.7,586.3 594.2,585.5 595.6,584.2 597.1,582.2 598.5,581.4 599.9,579.1 601.4,578.6 602.8,576 604.2,574.3 605.7,574.3 607.1,571.3 608.6,571.1 610,568.5" fill="none" stroke="#0a7d0a" stroke-width="2.8" stroke-linejoin="round" stroke-linecap="round" /><rect x="137" y="543" width="473" height="347.8" fill="none" stroke="#000" stroke-width="1.9"/><line x1="129" y1="880.7" x2="137" y2="880.7" stroke="#000" stroke-width="1.8" /><text x="124.7" y="891" font-family="'Liberation Sans', Arial, sans-serif" font-size="29" font-weight="bold" fill="#000" text-anchor="end" >0.0</text><line x1="132.5" y1="854.3" x2="137" y2="854.3" stroke="#000" stroke-width="1.8" /><line x1="129" y1="828" x2="137" y2="828" stroke="#000" stroke-width="1.8" /><text x="124.7" y="838.2" font-family="'Liberation Sans', Arial, sans-serif" font-size="29" font-weight="bold" fill="#000" text-anchor="end" >0.5</text><line x1="132.5" y1="801.6" x2="137" y2="801.6" stroke="#000" stroke-width="1.8" /><line x1="129" y1="775.2" x2="137" y2="775.2" stroke="#000" stroke-width="1.8" /><text x="124.7" y="785.5" font-family="'Liberation Sans', Arial, sans-serif" font-size="29" font-weight="bold" fill="#000" text-anchor="end" >1.0</text><line x1="132.5" y1="748.8" x2="137" y2="748.8" stroke="#000" stroke-width="1.8" /><line x1="129" y1="722.5" x2="137" y2="722.5" stroke="#000" stroke-width="1.8" /><text x="124.7" y="732.8" font-family="'Liberation Sans', Arial, sans-serif" font-size="29" font-weight="bold" fill="#000" text-anchor="end" >1.5</text><line x1="132.5" y1="696.1" x2="137" y2="696.1" stroke="#000" stroke-width="1.8" /><line x1="129" y1="669.7" x2="137" y2="669.7" stroke="#000" stroke-width="1.8" /><text x="124.7" y="680" font-family="'Liberation Sans', Arial, sans-serif" font-size="29" font-weight="bold" fill="#000" text-anchor="end" >2.0</text><line x1="132.5" y1="643.3" x2="137" y2="643.3" stroke="#000" stroke-width="1.8" /><line x1="129" y1="617" x2="137" y2="617" stroke="#000" stroke-width="1.8" /><text x="124.7" y="627.2" font-family="'Liberation Sans', Arial, sans-serif" font-size="29" font-weight="bold" fill="#000" text-anchor="end" >2.5</text><line x1="132.5" y1="590.6" x2="137" y2="590.6" stroke="#000" stroke-width="1.8" /><line x1="129" y1="564.2" x2="137" y2="564.2" stroke="#000" stroke-width="1.8" /><text x="124.7" y="574.5" font-family="'Liberation Sans', Arial, sans-serif" font-size="29" font-weight="bold" fill="#000" text-anchor="end" >3.0</text><line x1="137" y1="890.8" x2="137" y2="898.3" stroke="#000" stroke-width="1.8" /><text x="135.4" y="932" font-family="'Liberation Sans', Arial, sans-serif" font-size="29.3" font-weight="bold" fill="#000" text-anchor="middle" letter-spacing="1">0.6</text><line x1="180" y1="890.8" x2="180" y2="894.6" stroke="#000" stroke-width="1.8" /><line x1="223" y1="890.8" x2="223" y2="898.3" stroke="#000" stroke-width="1.8" /><text x="221.4" y="932" font-family="'Liberation Sans', Arial, sans-serif" font-size="29.3" font-weight="bold" fill="#000" text-anchor="middle" letter-spacing="1">0.8</text><line x1="266" y1="890.8" x2="266" y2="894.6" stroke="#000" stroke-width="1.8" /><line x1="309" y1="890.8" x2="309" y2="898.3" stroke="#000" stroke-width="1.8" /><text x="307.4" y="932" font-family="'Liberation Sans', Arial, sans-serif" font-size="29.3" font-weight="bold" fill="#000" text-anchor="middle" letter-spacing="1">1.0</text><line x1="352" y1="890.8" x2="352" y2="894.6" stroke="#000" stroke-width="1.8" /><line x1="395" y1="890.8" x2="395" y2="898.3" stroke="#000" stroke-width="1.8" /><text x="393.4" y="932" font-family="'Liberation Sans', Arial, sans-serif" font-size="29.3" font-weight="bold" fill="#000" text-anchor="middle" letter-spacing="1">1.2</text><line x1="438" y1="890.8" x2="438" y2="894.6" stroke="#000" stroke-width="1.8" /><line x1="481" y1="890.8" x2="481" y2="898.3" stroke="#000" stroke-width="1.8" /><text x="479.4" y="932" font-family="'Liberation Sans', Arial, sans-serif" font-size="29.3" font-weight="bold" fill="#000" text-anchor="middle" letter-spacing="1">1.4</text><line x1="524" y1="890.8" x2="524" y2="894.6" stroke="#000" stroke-width="1.8" /><line x1="567" y1="890.8" x2="567" y2="898.3" stroke="#000" stroke-width="1.8" /><text x="565.4" y="932" font-family="'Liberation Sans', Arial, sans-serif" font-size="29.3" font-weight="bold" fill="#000" text-anchor="middle" letter-spacing="1">1.6</text><line x1="610" y1="890.8" x2="610" y2="894.6" stroke="#000" stroke-width="1.8" /><text x="366.5" y="969.5" font-family="'Liberation Sans', Arial, sans-serif" font-size="35.7" font-weight="bold" fill="#000" text-anchor="middle" >Potential (V vs. RHE)</text><text transform="translate(72.8,959.5) rotate(-90)" font-family="'Liberation Sans', Arial, sans-serif" font-size="35.6" font-weight="bold">Current Density (mA cm<tspan font-size="22" dy="-13">-2</tspan><tspan dy="13">)</tspan></text><line x1="155" y1="567.2" x2="208.5" y2="567.2" stroke="#ff8000" stroke-width="4.4" stroke-dasharray="14.5 10 4.5 10"/><text x="221.5" y="574.4" font-family="'Liberation Serif', 'Times New Roman', serif" font-size="17.2" font-weight="bold" fill="#ff8000"><tspan>ZnFe</tspan><tspan font-size="11.7" dy="3.8">2</tspan><tspan dy="-3.8" font-size="1">&#8203;</tspan><tspan>O</tspan><tspan font-size="11.7" dy="3.8">4</tspan><tspan dy="-3.8" font-size="1">&#8203;</tspan></text><text x="302.9" y="574.4" font-family="'Liberation Serif', 'Times New Roman', serif" font-size="17.2" font-weight="bold" fill="#ff8000" text-anchor="start" >Dark</text><line x1="152.5" y1="600.9" x2="208" y2="600.9" stroke="#ff8000" stroke-width="3.6" /><text x="221.5" y="605.4" font-family="'Liberation Serif', 'Times New Roman', serif" font-size="17.2" font-weight="bold" fill="#ff8000"><tspan>ZnFe</tspan><tspan font-size="11.7" dy="3.8">2</tspan><tspan dy="-3.8" font-size="1">&#8203;</tspan><tspan>O</tspan><tspan font-size="11.7" dy="3.8">4</tspan><tspan dy="-3.8" font-size="1">&#8203;</tspan></text><text x="305.6" y="605.4" font-family="'Liberation Serif', 'Times New Roman', serif" font-size="17.2" font-weight="bold" fill="#ff8000" text-anchor="start" >Light</text><line x1="155" y1="635.7" x2="208.5" y2="635.7" stroke="#ff33ff" stroke-width="4.4" stroke-dasharray="14.5 10 4.5 10"/><text x="221.5" y="643.3" font-family="'Liberation Serif', 'Times New Roman', serif" font-size="17.2" font-weight="bold" fill="#ff33ff"><tspan>α-Fe</tspan><tspan font-size="11.7" dy="3.8">2</tspan><tspan dy="-3.8" font-size="1">&#8203;</tspan><tspan>O</tspan><tspan font-size="11.7" dy="3.8">3</tspan><tspan dy="-3.8" font-size="1">&#8203;</tspan></text><text x="304.5" y="643.3" font-family="'Liberation Serif', 'Times New Roman', serif" font-size="17.2" font-weight="bold" fill="#ff33ff" text-anchor="start" >Dark</text><line x1="152.5" y1="664.2" x2="208" y2="664.2" stroke="#ff33ff" stroke-width="3.6" /><text x="221.5" y="669" font-family="'Liberation Serif', 'Times New Roman', serif" font-size="17.2" font-weight="bold" fill="#ff33ff"><tspan>α-Fe</tspan><tspan font-size="11.7" dy="3.8">2</tspan><tspan dy="-3.8" font-size="1">&#8203;</tspan><tspan>O</tspan><tspan font-size="11.7" dy="3.8">3</tspan><tspan dy="-3.8" font-size="1">&#8203;</tspan></text><text x="305.5" y="669" font-family="'Liberation Serif', 'Times New Roman', serif" font-size="17.2" font-weight="bold" fill="#ff33ff" text-anchor="start" >Light</text><line x1="155" y1="695.7" x2="208.5" y2="695.7" stroke="#0a7d0a" stroke-width="4.4" stroke-dasharray="14.5 10 4.5 10"/><text x="221.5" y="700.2" font-family="'Liberation Serif', 'Times New Roman', serif" font-size="17.2" font-weight="bold" fill="#0a7d0a"><tspan>Zn:Fe=1:3 Dark</tspan></text><line x1="152.5" y1="730.5" x2="208" y2="730.5" stroke="#0a7d0a" stroke-width="3.6" /><text x="221.5" y="732.9" font-family="'Liberation Serif', 'Times New Roman', serif" font-size="17.2" font-weight="bold" fill="#0a7d0a"><tspan>Zn:Fe=1:3 Light</tspan></text><line x1="155" y1="763.4" x2="208.5" y2="763.4" stroke="#8a1cff" stroke-width="4.4" stroke-dasharray="14.5 10 4.5 10"/><text x="221.5" y="766.8" font-family="'Liberation Serif', 'Times New Roman', serif" font-size="17.2" font-weight="bold" fill="#8a1cff"><tspan>Zn:Fe=1:4 Dark</tspan></text><line x1="152.5" y1="797.3" x2="208" y2="797.3" stroke="#8a1cff" stroke-width="3.6" /><text x="221.5" y="799.3" font-family="'Liberation Serif', 'Times New Roman', serif" font-size="17.2" font-weight="bold" fill="#8a1cff"><tspan>Zn:Fe=1:4 Light</tspan></text><text x="2.9" y="511.8" font-family="'Liberation Sans', Arial, sans-serif" font-size="63.5" font-weight="bold" fill="#000" text-anchor="start" >d</text></g>
<g id="pe"><clipPath id="clipE"><rect x="826" y="541" width="473.2" height="348.4"/></clipPath><g clip-path="url(#clipE)"><polyline points="826.3,790.5 826.5,790.5 826.7,790.5 826.9,790.5 827.2,790.5 827.4,790.5 827.6,790.6 827.8,790.7 828,790.7 828.2,790.8 828.5,790.9 828.7,791 828.9,791.2 829.1,791.3 829.3,791.5 829.5,791.7 829.8,792 830,796.9 830.2,806.1 830.4,815.2 830.6,820.2 830.8,822.6 831.1,824.8 831.3,826.6 831.5,828.2 831.7,829.5 831.9,830.5 832.1,831.2 832.4,831.7 832.6,832 832.8,832.4 833,832.7 833.2,833 833.4,833.3 833.7,833.5 833.9,833.8 834.1,834 834.3,834.2 834.5,834.4 834.7,834.6 835,834.7 835.2,834.9 835.4,835 835.6,835.2 835.8,835.3 836,835.4 836.3,835.5 836.5,835.6 836.7,835.6 836.9,835.7 837.1,835.8 837.3,835.8 837.6,835.9 837.8,836 838,836 838.2,836.1 838.4,836.2 838.6,836.2 838.9,836.3 839.1,836.3 839.3,836.4 839.5,836.4 839.7,836.5 839.9,836.6 840.2,836.6 840.4,836.7 840.6,836.7 840.8,836.8 841,836.8 841.2,836.8 841.5,836.9 841.7,836.9 841.9,837 842.1,837 842.3,837.1 842.5,837.1 842.8,837.1 843,837.2 843.2,837.2 843.4,837.2 843.6,837.3 843.8,837.3 844.1,837.3 844.3,837.3 844.5,837.4 844.7,837.4 844.9,837.4 845.1,837.4 845.4,837.5 845.6,837.5 845.8,837.5 846,837.5 846.2,837.5 846.4,837.5 846.7,837.5 846.9,837.5 847.1,837.5 847.3,837.6 847.5,837.6 847.7,837.6 848,837.6 848.2,837.6 848.4,837.6 848.6,837.6 848.8,837.6 849,837.6 849.3,837.6 849.5,837.5 849.7,837.5 849.9,837.5 850.1,837.5 850.3,837.5 850.6,837.5 850.8,837.5 851,837.5 851.2,837.5 851.4,837.5 851.6,837.5 851.9,837.5 852.1,837.5 853.4,837.5 854.8,837.4 856.2,837.4 857.6,837.3 858.9,837.3 860.3,837.2 861.7,837.1 863,837.1 864.4,837 865.8,836.9 867.2,836.8 868.5,836.8 869.9,836.7 871.3,836.6 872.6,836.5 874,836.4 875.4,836.3 876.8,836.3 878.1,836.2 879.5,836 880.9,835.9 882.2,835.8 883.6,835.7 885,835.6 886.4,835.5 887.7,835.3 889.1,835.2 890.5,835.1 891.8,835 893.2,834.8 894.6,834.7 896,834.5 897.3,834.4 898.7,834.3 900.1,834.1 901.4,834 902.8,833.9 904.2,833.7 905.6,833.6 906.9,833.5 908.3,833.3 909.7,833.2 911,833.1 912.4,832.9 913.8,832.8 915.2,832.7 916.5,832.6 917.9,832.4 919.3,832.3 920.6,832.2 922,832 923.4,831.9 924.8,831.8 926.1,831.6 927.5,831.5 928.9,831.3 930.2,831.2 931.6,831.1 933,830.9 934.4,830.8 935.7,830.7 937.1,830.5 938.5,830.4 939.8,830.3 941.2,830.1 942.6,830 944,829.8 945.3,829.7 946.7,829.6 948.1,829.4 949.4,829.3 950.8,829.2 952.2,829.1 953.6,828.9 954.9,828.8 956.3,828.7 957.7,828.6 959,828.5 960.4,828.4 961.8,828.3 963.2,828.2 964.5,828.1 965.9,828 967.3,827.9 968.6,827.9 970,827.8 971.4,827.7 972.8,827.7 974.1,827.6 975.5,827.5 976.9,827.5 978.2,827.4 979.6,827.4 981,827.3 982.4,827.2 983.7,827.2 985.1,827.1 986.5,827 987.8,826.9 989.2,826.8 990.6,826.7 992,826.6 993.3,826.5 994.7,826.4 996.1,826.3 997.5,826.2 998.8,826 1000.2,825.9 1001.6,825.7 1002.9,825.6 1004.3,825.4 1005.7,825.2 1007.1,825 1008.4,824.8 1009.8,824.5 1011.2,824.3 1012.5,824 1013.9,823.7 1015.3,823.1 1015.7,822.5 1016.1,819.6 1016.6,814.6 1017,811.3 1017.5,809.7 1017.9,808.4 1018.3,807.2 1018.8,806.2 1019.2,805.3 1019.6,804.5 1020.1,803.8 1020.5,803.2 1020.9,802.6 1021.4,802.1 1021.8,801.5 1022.2,801 1022.7,800.4 1023.1,800 1023.5,799.5 1024,799.1 1024.4,798.6 1024.8,798.2 1025.3,797.9 1025.7,797.5 1026.2,797.2 1026.6,796.8 1027,796.5 1027.5,796.2 1027.9,795.9 1028.3,795.6 1028.8,795.4 1029.2,795.1 1029.6,794.8 1030.1,794.6 1030.5,794.3 1030.9,794.1 1031.4,793.9 1031.8,793.6 1032.2,793.4 1032.7,793.2 1033.1,793 1033.5,792.7 1034,792.5 1034.4,792.3 1034.9,792.1 1035.3,791.9 1035.7,791.7 1036.2,791.5 1036.6,791.4 1037,791.2 1037.5,791 1037.9,790.8 1038.3,790.6 1038.8,790.5 1039.2,790.3 1039.6,790.2 1040.1,790 1040.5,789.8 1040.9,789.7 1041.4,789.5 1041.8,789.4 1042.2,789.2 1042.7,789.1 1043.1,788.9 1043.6,788.8 1044,788.7 1044.4,788.5 1044.9,788.4 1045.3,788.3 1045.7,788.1 1046.2,788 1046.6,787.9 1047,787.8 1047.5,787.6 1047.9,787.5 1048.3,787.4 1048.8,787.3 1049.2,787.1 1049.6,787 1051.3,786.6 1053,786.2 1054.7,785.8 1056.3,785.4 1058,785.1 1059.7,784.7 1061.4,784.4 1063,784.1 1064.7,783.7 1066.4,783.4 1068.1,783.2 1069.7,782.9 1071.4,782.6 1073.1,782.3 1074.8,782 1076.4,781.8 1078.1,781.5 1079.8,781.3 1081.5,781 1083.1,780.8 1084.8,780.6 1086.5,780.3 1088.2,780.1 1089.8,779.9 1091.5,779.7 1093.2,779.5 1094.9,779.2 1096.5,779 1098.2,778.8 1099.9,778.6 1101.6,778.4 1103.2,778.2 1104.9,778 1106.6,777.8 1108.3,777.6 1109.9,777.4 1111.6,777.2 1113.3,777 1115,776.8 1116.6,776.6 1118.3,776.4 1120,776.2 1121.7,776.1 1123.3,775.9 1125,775.7 1126.7,775.5 1128.4,775.3 1130,775.2 1131.7,775 1133.4,774.8 1135.1,774.6 1136.7,774.5 1138.4,774.3 1140.1,774.1 1141.8,773.9 1143.4,773.8 1145.1,773.6 1146.8,773.4 1148.5,773.2 1150.1,773 1151.8,772.9 1153.5,772.7 1155.1,772.5 1156.8,772.3 1158.5,772.1 1160.2,771.9 1161.8,771.8 1163.5,771.6 1165.2,771.4 1166.9,771.2 1168.5,771 1170.2,770.8 1171.9,770.7 1173.6,770.5 1175.2,770.3 1176.9,770.1 1178.6,769.9 1180.3,769.8 1181.9,769.6 1183.6,769.4 1185.3,769.2 1187,769 1188.6,768.9 1190.3,768.7 1192,768.5 1193.7,768.4 1195.3,768.2 1197,768 1198.7,767.9 1200.4,767.7 1202,767.5 1203.7,767.4 1205.4,767.2 1207.1,767.1 1208.7,766.9 1210.4,766.8 1212.1,766.6 1213.8,766.5 1215.4,766.3 1217.1,766.2 1218.8,766 1220.5,765.9 1222.1,765.7 1223.8,765.6 1225.5,765.5 1227.2,765.3 1228.8,765.2 1230.5,765.1 1232.2,764.9 1233.9,764.8 1235.5,764.7 1237.2,764.5 1238.9,764.4 1240.6,764.3 1242.2,764.1 1243.9,764 1245.6,763.9 1247.3,763.8 1248.9,763.6 1250.6,763.5 1252.3,763.4 1254,763.3 1255.6,763.2 1257.3,763 1259,762.9 1260.7,762.8 1262.3,762.7 1264,762.5 1265.7,762.4 1267.4,762.3 1269,762.2 1270.7,762.1 1272.4,762 1274.1,761.8 1275.7,761.7 1277.4,761.6 1279.1,761.5 1280.8,761.4 1282.4,761.3 1284.1,761.2 1285.8,761.1 1287.5,761 1289.1,760.8 1290.8,760.7 1292.5,760.6 1294.2,760.5 1295.8,760.4 1297.5,760.3 1299.2,760.2" fill="none" stroke="#ff8000" stroke-width="7.2" stroke-linejoin="round" stroke-linecap="round" /><polyline points="826.3,764 826.5,764 826.7,764 826.9,764.1 827.2,764.2 827.4,764.3 827.6,764.4 827.8,764.6 828,764.7 828.2,764.9 828.5,765.1 828.7,765.4 828.9,765.6 829.1,765.9 829.3,766.2 829.5,766.5 829.8,766.8 830,767.4 830.2,768.2 830.4,769.3 830.6,770.6 830.8,771.9 831.1,773.2 831.3,774.3 831.5,775.3 831.7,776.2 831.9,777.1 832.1,778 832.4,778.9 832.6,779.7 832.8,780.6 833,781.4 833.2,782.2 833.4,782.9 833.7,783.7 833.9,784.4 834.1,785 834.3,785.7 834.5,786.2 834.7,786.8 835,787.3 835.2,787.7 835.4,788.2 835.6,788.7 835.8,789.1 836,789.6 836.3,790 836.5,790.4 836.7,790.8 836.9,791.2 837.1,791.6 837.3,792 837.6,792.4 837.8,792.7 838,793.1 838.2,793.4 838.4,793.7 838.6,794.1 838.9,794.4 839.1,794.7 839.3,795 839.5,795.3 839.7,795.6 839.9,795.8 840.2,796.1 840.4,796.4 840.6,796.6 840.8,796.9 841,797.1 841.2,797.4 841.5,797.6 841.7,797.9 841.9,798.1 842.1,798.4 842.3,798.6 842.5,798.8 842.8,799.1 843,799.3 843.2,799.5 843.4,799.7 843.6,800 843.8,800.2 844.1,800.4 844.3,800.6 844.5,800.8 844.7,801 844.9,801.2 845.1,801.4 845.4,801.6 845.6,801.8 845.8,802 846,802.2 846.2,802.4 846.4,802.6 846.7,802.8 846.9,803 847.1,803.1 847.3,803.3 847.5,803.5 847.7,803.7 848,803.9 848.2,804 848.4,804.2 848.6,804.4 848.8,804.5 849,804.7 849.3,804.9 849.5,805 849.7,805.2 849.9,805.3 850.1,805.5 850.3,805.6 850.6,805.8 850.8,805.9 851,806.1 851.2,806.2 851.4,806.4 851.6,806.5 851.9,806.7 852.1,806.8 853.4,807.6 854.8,808.5 856.2,809.2 857.6,810 858.9,810.7 860.3,811.4 861.7,812.1 863,812.7 864.4,813.2 865.8,813.8 867.2,814.2 868.5,814.6 869.9,815 871.3,815.4 872.6,815.7 874,816 875.4,816.3 876.8,816.6 878.1,816.9 879.5,817.1 880.9,817.4 882.2,817.6 883.6,817.8 885,818 886.4,818.2 887.7,818.3 889.1,818.5 890.5,818.6 891.8,818.7 893.2,818.8 894.6,818.9 896,819 897.3,819.1 898.7,819.2 900.1,819.3 901.4,819.4 902.8,819.5 904.2,819.5 905.6,819.6 906.9,819.6 908.3,819.7 909.7,819.7 911,819.7 912.4,819.7 913.8,819.7 915.2,819.7 916.5,819.7 917.9,819.7 919.3,819.6 920.6,819.6 922,819.6 923.4,819.5 924.8,819.5 926.1,819.4 927.5,819.4 928.9,819.3 930.2,819.3 931.6,819.2 933,819.1 934.4,819.1 935.7,819 937.1,818.9 938.5,818.9 939.8,818.8 941.2,818.7 942.6,818.7 944,818.6 945.3,818.5 946.7,818.4 948.1,818.4 949.4,818.3 950.8,818.2 952.2,818.2 953.6,818.1 954.9,818.1 956.3,818 957.7,817.9 959,817.9 960.4,817.8 961.8,817.8 963.2,817.8 964.5,817.7 965.9,817.7 967.3,817.6 968.6,817.6 970,817.6 971.4,817.5 972.8,817.5 974.1,817.4 975.5,817.4 976.9,817.4 978.2,817.3 979.6,817.3 981,817.3 982.4,817.2 983.7,817.2 985.1,817.1 986.5,817.1 987.8,817 989.2,817 990.6,816.9 992,816.9 993.3,816.8 994.7,816.7 996.1,816.7 997.5,816.6 998.8,816.5 1000.2,816.4 1001.6,816.4 1002.9,816.3 1004.3,816.2 1005.7,816.1 1007.1,816 1008.4,815.8 1009.8,815.7 1011.2,815.6 1012.5,815.5 1013.9,815.3 1015.3,815 1015.7,814.8 1016.1,814.6 1016.6,814.3 1017,814 1017.5,813.7 1017.9,813.4 1018.3,813 1018.8,812.7 1019.2,812.4 1019.6,812.2 1020.1,811.9 1020.5,811.6 1020.9,811.4 1021.4,811.1 1021.8,810.8 1022.2,810.6 1022.7,810.3 1023.1,810.1 1023.5,809.8 1024,809.5 1024.4,809.3 1024.8,809 1025.3,808.8 1025.7,808.6 1026.2,808.3 1026.6,808.1 1027,807.8 1027.5,807.6 1027.9,807.3 1028.3,807.1 1028.8,806.8 1029.2,806.6 1029.6,806.4 1030.1,806.1 1030.5,805.9 1030.9,805.6 1031.4,805.4 1031.8,805.2 1032.2,804.9 1032.7,804.7 1033.1,804.4 1033.5,804.2 1034,804 1034.4,803.7 1034.9,803.5 1035.3,803.3 1035.7,803 1036.2,802.8 1036.6,802.6 1037,802.3 1037.5,802.1 1037.9,801.9 1038.3,801.7 1038.8,801.5 1039.2,801.2 1039.6,801 1040.1,800.8 1040.5,800.6 1040.9,800.4 1041.4,800.2 1041.8,800 1042.2,799.8 1042.7,799.6 1043.1,799.4 1043.6,799.2 1044,799 1044.4,798.8 1044.9,798.6 1045.3,798.4 1045.7,798.2 1046.2,798 1046.6,797.8 1047,797.6 1047.5,797.4 1047.9,797.3 1048.3,797.1 1048.8,796.9 1049.2,796.7 1049.6,796.5 1051.3,795.9 1053,795.2 1054.7,794.5 1056.3,793.9 1058,793.2 1059.7,792.6 1061.4,792 1063,791.3 1064.7,790.7 1066.4,790 1068.1,789.4 1069.7,788.8 1071.4,788.1 1073.1,787.5 1074.8,786.9 1076.4,786.2 1078.1,785.6 1079.8,785 1081.5,784.4 1083.1,783.8 1084.8,783.2 1086.5,782.6 1088.2,782 1089.8,781.5 1091.5,780.9 1093.2,780.4 1094.9,779.9 1096.5,779.4 1098.2,778.9 1099.9,778.4 1101.6,777.9 1103.2,777.5 1104.9,777 1106.6,776.6 1108.3,776.1 1109.9,775.7 1111.6,775.3 1113.3,774.9 1115,774.5 1116.6,774.1 1118.3,773.7 1120,773.3 1121.7,772.9 1123.3,772.5 1125,772.1 1126.7,771.7 1128.4,771.4 1130,771 1131.7,770.6 1133.4,770.2 1135.1,769.9 1136.7,769.5 1138.4,769.1 1140.1,768.8 1141.8,768.4 1143.4,768 1145.1,767.6 1146.8,767.2 1148.5,766.9 1150.1,766.5 1151.8,766.1 1153.5,765.7 1155.1,765.3 1156.8,764.9 1158.5,764.5 1160.2,764.1 1161.8,763.7 1163.5,763.3 1165.2,762.9 1166.9,762.5 1168.5,762.1 1170.2,761.7 1171.9,761.3 1173.6,760.9 1175.2,760.5 1176.9,760.1 1178.6,759.7 1180.3,759.3 1181.9,758.9 1183.6,758.5 1185.3,758.1 1187,757.7 1188.6,757.4 1190.3,757 1192,756.6 1193.7,756.2 1195.3,755.9 1197,755.5 1198.7,755.2 1200.4,754.8 1202,754.5 1203.7,754.1 1205.4,753.8 1207.1,753.4 1208.7,753.1 1210.4,752.8 1212.1,752.5 1213.8,752.2 1215.4,751.9 1217.1,751.6 1218.8,751.3 1220.5,751 1222.1,750.7 1223.8,750.4 1225.5,750.1 1227.2,749.8 1228.8,749.5 1230.5,749.2 1232.2,748.9 1233.9,748.7 1235.5,748.4 1237.2,748.1 1238.9,747.9 1240.6,747.6 1242.2,747.3 1243.9,747.1 1245.6,746.8 1247.3,746.6 1248.9,746.3 1250.6,746.1 1252.3,745.8 1254,745.6 1255.6,745.3 1257.3,745.1 1259,744.8 1260.7,744.6 1262.3,744.4 1264,744.1 1265.7,743.9 1267.4,743.7 1269,743.4 1270.7,743.2 1272.4,743 1274.1,742.8 1275.7,742.6 1277.4,742.3 1279.1,742.1 1280.8,741.9 1282.4,741.7 1284.1,741.5 1285.8,741.3 1287.5,741.1 1289.1,740.9 1290.8,740.7 1292.5,740.5 1294.2,740.3 1295.8,740.1 1297.5,739.9 1299.2,739.7" fill="none" stroke="#ff00ff" stroke-width="7.2" stroke-linejoin="round" stroke-linecap="round" /><polyline points="826.3,659.5 826.5,659.5 826.7,659.5 826.9,659.6 827.2,659.7 827.4,659.9 827.6,660 827.8,660.3 828,660.6 828.2,660.9 828.5,661.3 828.7,661.8 828.9,662.3 829.1,666.6 829.3,674.4 829.5,682.1 829.8,687.6 830,692.8 830.2,697.9 830.4,702.7 830.6,707.4 830.8,711.8 831.1,715.9 831.3,719.7 831.5,723.1 831.7,726.2 831.9,729.1 832.1,732 832.4,734.9 832.6,737.6 832.8,740.3 833,742.9 833.2,745.4 833.4,747.8 833.7,750.1 833.9,752.2 834.1,754.3 834.3,756.3 834.5,758.1 834.7,759.9 835,761.4 835.2,762.9 835.4,764.2 835.6,765.4 835.8,766.4 836,767.4 836.3,768.3 836.5,769.2 836.7,770.1 836.9,771 837.1,771.8 837.3,772.5 837.6,773.3 837.8,774 838,774.7 838.2,775.4 838.4,776 838.6,776.6 838.9,777.3 839.1,777.8 839.3,778.4 839.5,779 839.7,779.5 839.9,780 840.2,780.5 840.4,781 840.6,781.5 840.8,782 841,782.5 841.2,782.9 841.5,783.4 841.7,783.8 841.9,784.3 842.1,784.7 842.3,785.2 842.5,785.6 842.8,786.1 843,786.5 843.2,787 843.4,787.4 843.6,787.9 843.8,788.3 844.1,788.8 844.3,789.2 844.5,789.6 844.7,790 844.9,790.4 845.1,790.8 845.4,791.2 845.6,791.6 845.8,792 846,792.4 846.2,792.7 846.4,793.1 846.7,793.5 846.9,793.8 847.1,794.2 847.3,794.5 847.5,794.8 847.7,795.1 848,795.5 848.2,795.8 848.4,796.1 848.6,796.4 848.8,796.7 849,797 849.3,797.3 849.5,797.5 849.7,797.8 849.9,798.1 850.1,798.4 850.3,798.6 850.6,798.9 850.8,799.2 851,799.4 851.2,799.7 851.4,800 851.6,800.2 851.9,800.5 852.1,800.7 853.4,802.3 854.8,803.7 856.2,805 857.6,806.2 858.9,807.3 860.3,808.2 861.7,809.1 863,810 864.4,810.9 865.8,811.6 867.2,812.4 868.5,813 869.9,813.6 871.3,814.2 872.6,814.6 874,815 875.4,815.3 876.8,815.6 878.1,815.9 879.5,816.3 880.9,816.5 882.2,816.8 883.6,817 885,817.2 886.4,817.4 887.7,817.5 889.1,817.6 890.5,817.6 891.8,817.6 893.2,817.6 894.6,817.6 896,817.6 897.3,817.6 898.7,817.6 900.1,817.5 901.4,817.5 902.8,817.5 904.2,817.4 905.6,817.4 906.9,817.4 908.3,817.3 909.7,817.3 911,817.2 912.4,817.2 913.8,817.2 915.2,817.1 916.5,817 917.9,817 919.3,816.9 920.6,816.8 922,816.7 923.4,816.6 924.8,816.5 926.1,816.4 927.5,816.2 928.9,816.1 930.2,816 931.6,815.8 933,815.7 934.4,815.6 935.7,815.4 937.1,815.3 938.5,815.1 939.8,815 941.2,814.8 942.6,814.7 944,814.5 945.3,814.4 946.7,814.3 948.1,814.1 949.4,814 950.8,813.8 952.2,813.7 953.6,813.6 954.9,813.5 956.3,813.4 957.7,813.2 959,813.1 960.4,813 961.8,813 963.2,812.9 964.5,812.8 965.9,812.7 967.3,812.6 968.6,812.6 970,812.5 971.4,812.4 972.8,812.4 974.1,812.3 975.5,812.2 976.9,812.2 978.2,812.1 979.6,812 981,812 982.4,811.9 983.7,811.8 985.1,811.7 986.5,811.7 987.8,811.6 989.2,811.5 990.6,811.4 992,811.3 993.3,811.2 994.7,811.1 996.1,811 997.5,810.9 998.8,810.7 1000.2,810.6 1001.6,810.4 1002.9,810.3 1004.3,810.1 1005.7,810 1007.1,809.8 1008.4,809.6 1009.8,809.4 1011.2,809.1 1012.5,808.9 1013.9,808.7 1015.3,808.2 1015.7,807.9 1016.1,807.1 1016.6,805.9 1017,804.3 1017.5,802.8 1017.9,801.5 1018.3,800.4 1018.8,799.4 1019.2,798.4 1019.6,797.4 1020.1,796.5 1020.5,795.6 1020.9,794.7 1021.4,793.9 1021.8,793.1 1022.2,792.3 1022.7,791.6 1023.1,790.8 1023.5,790.1 1024,789.4 1024.4,788.8 1024.8,788.1 1025.3,787.4 1025.7,786.8 1026.2,786.2 1026.6,785.6 1027,785 1027.5,784.4 1027.9,783.8 1028.3,783.3 1028.8,782.7 1029.2,782.2 1029.6,781.6 1030.1,781.1 1030.5,780.5 1030.9,780 1031.4,779.5 1031.8,779 1032.2,778.5 1032.7,778 1033.1,777.5 1033.5,777 1034,776.5 1034.4,776 1034.9,775.5 1035.3,775 1035.7,774.6 1036.2,774.1 1036.6,773.7 1037,773.2 1037.5,772.8 1037.9,772.3 1038.3,771.9 1038.8,771.4 1039.2,771 1039.6,770.6 1040.1,770.1 1040.5,769.7 1040.9,769.3 1041.4,768.9 1041.8,768.5 1042.2,768.1 1042.7,767.7 1043.1,767.3 1043.6,766.9 1044,766.5 1044.4,766.1 1044.9,765.7 1045.3,765.3 1045.7,765 1046.2,764.6 1046.6,764.2 1047,763.8 1047.5,763.5 1047.9,763.1 1048.3,762.7 1048.8,762.4 1049.2,762 1049.6,761.7 1051.3,760.3 1053,759 1054.7,757.7 1056.3,756.5 1058,755.3 1059.7,754.2 1061.4,753 1063,751.9 1064.7,750.8 1066.4,749.8 1068.1,748.7 1069.7,747.6 1071.4,746.6 1073.1,745.6 1074.8,744.6 1076.4,743.6 1078.1,742.6 1079.8,741.7 1081.5,740.7 1083.1,739.8 1084.8,738.9 1086.5,738 1088.2,737.2 1089.8,736.4 1091.5,735.5 1093.2,734.7 1094.9,734 1096.5,733.2 1098.2,732.5 1099.9,731.8 1101.6,731.1 1103.2,730.5 1104.9,729.8 1106.6,729.2 1108.3,728.5 1109.9,727.9 1111.6,727.3 1113.3,726.7 1115,726.1 1116.6,725.6 1118.3,725 1120,724.4 1121.7,723.9 1123.3,723.3 1125,722.8 1126.7,722.3 1128.4,721.8 1130,721.3 1131.7,720.7 1133.4,720.2 1135.1,719.7 1136.7,719.2 1138.4,718.7 1140.1,718.2 1141.8,717.7 1143.4,717.2 1145.1,716.7 1146.8,716.2 1148.5,715.7 1150.1,715.2 1151.8,714.7 1153.5,714.2 1155.1,713.7 1156.8,713.2 1158.5,712.7 1160.2,712.2 1161.8,711.7 1163.5,711.2 1165.2,710.7 1166.9,710.2 1168.5,709.7 1170.2,709.2 1171.9,708.7 1173.6,708.2 1175.2,707.7 1176.9,707.2 1178.6,706.8 1180.3,706.3 1181.9,705.8 1183.6,705.4 1185.3,704.9 1187,704.4 1188.6,704 1190.3,703.6 1192,703.1 1193.7,702.7 1195.3,702.3 1197,701.9 1198.7,701.5 1200.4,701.1 1202,700.7 1203.7,700.3 1205.4,699.9 1207.1,699.6 1208.7,699.2 1210.4,698.9 1212.1,698.5 1213.8,698.2 1215.4,697.9 1217.1,697.6 1218.8,697.3 1220.5,697 1222.1,696.7 1223.8,696.4 1225.5,696.1 1227.2,695.9 1228.8,695.6 1230.5,695.3 1232.2,695.1 1233.9,694.8 1235.5,694.6 1237.2,694.3 1238.9,694 1240.6,693.8 1242.2,693.5 1243.9,693.3 1245.6,693.1 1247.3,692.8 1248.9,692.6 1250.6,692.3 1252.3,692 1254,691.8 1255.6,691.5 1257.3,691.3 1259,691 1260.7,690.8 1262.3,690.5 1264,690.2 1265.7,690 1267.4,689.7 1269,689.5 1270.7,689.2 1272.4,689 1274.1,688.7 1275.7,688.5 1277.4,688.2 1279.1,688 1280.8,687.7 1282.4,687.5 1284.1,687.3 1285.8,687 1287.5,686.8 1289.1,686.5 1290.8,686.3 1292.5,686 1294.2,685.8 1295.8,685.6 1297.5,685.3 1299.2,685.1" fill="none" stroke="#7f00ff" stroke-width="7.2" stroke-linejoin="round" stroke-linecap="round" /><polyline points="826.3,580 826.5,580 826.7,580.1 826.9,580.1 827.2,580.2 827.4,580.3 827.6,580.4 827.8,580.6 828,580.8 828.2,581 828.5,581.3 828.7,581.6 828.9,582 829.1,582.4 829.3,583 829.5,591.4 829.8,606.3 830,619.1 830.2,629.4 830.4,639.7 830.6,649.8 830.8,659.3 831.1,667.9 831.3,675.3 831.5,681.1 831.7,685.2 831.9,688.8 832.1,692 832.4,695.1 832.6,697.9 832.8,700.6 833,703.1 833.2,705.4 833.4,707.5 833.7,709.5 833.9,711.4 834.1,713.2 834.3,714.9 834.5,716.5 834.7,718 835,719.6 835.2,721 835.4,722.5 835.6,724 835.8,725.5 836,727 836.3,728.5 836.5,729.9 836.7,731.3 836.9,732.7 837.1,734.1 837.3,735.5 837.6,736.8 837.8,738.2 838,739.5 838.2,740.8 838.4,742 838.6,743.3 838.9,744.5 839.1,745.7 839.3,746.8 839.5,748 839.7,749.1 839.9,750.2 840.2,751.3 840.4,752.3 840.6,753.4 840.8,754.4 841,755.4 841.2,756.3 841.5,757.3 841.7,758.2 841.9,759.1 842.1,759.9 842.3,760.7 842.5,761.6 842.8,762.3 843,763.1 843.2,763.8 843.4,764.5 843.6,765.2 843.8,765.9 844.1,766.5 844.3,767.1 844.5,767.7 844.7,768.3 844.9,768.9 845.1,769.5 845.4,770 845.6,770.6 845.8,771.1 846,771.7 846.2,772.2 846.4,772.7 846.7,773.2 846.9,773.7 847.1,774.2 847.3,774.7 847.5,775.2 847.7,775.6 848,776.1 848.2,776.5 848.4,777 848.6,777.4 848.8,777.9 849,778.3 849.3,778.7 849.5,779.1 849.7,779.5 849.9,779.9 850.1,780.3 850.3,780.7 850.6,781 850.8,781.4 851,781.8 851.2,782.1 851.4,782.5 851.6,782.8 851.9,783.2 852.1,783.5 853.4,785.6 854.8,787.5 856.2,789.3 857.6,791 858.9,792.6 860.3,794.1 861.7,795.4 863,796.5 864.4,797.6 865.8,798.5 867.2,799.5 868.5,800.3 869.9,801.1 871.3,801.9 872.6,802.5 874,803.1 875.4,803.6 876.8,804 878.1,804.4 879.5,804.8 880.9,805.2 882.2,805.6 883.6,805.9 885,806.2 886.4,806.4 887.7,806.6 889.1,806.7 890.5,806.8 891.8,806.8 893.2,806.8 894.6,806.7 896,806.7 897.3,806.7 898.7,806.7 900.1,806.7 901.4,806.7 902.8,806.7 904.2,806.6 905.6,806.6 906.9,806.6 908.3,806.6 909.7,806.5 911,806.5 912.4,806.5 913.8,806.4 915.2,806.4 916.5,806.4 917.9,806.3 919.3,806.3 920.6,806.2 922,806.1 923.4,806.1 924.8,806 926.1,805.9 927.5,805.9 928.9,805.8 930.2,805.7 931.6,805.6 933,805.5 934.4,805.4 935.7,805.3 937.1,805.3 938.5,805.2 939.8,805.1 941.2,805 942.6,804.9 944,804.8 945.3,804.7 946.7,804.6 948.1,804.5 949.4,804.4 950.8,804.4 952.2,804.3 953.6,804.2 954.9,804.1 956.3,804.1 957.7,804 959,803.9 960.4,803.9 961.8,803.8 963.2,803.8 964.5,803.7 965.9,803.7 967.3,803.6 968.6,803.6 970,803.6 971.4,803.5 972.8,803.5 974.1,803.4 975.5,803.4 976.9,803.4 978.2,803.3 979.6,803.3 981,803.3 982.4,803.2 983.7,803.2 985.1,803.1 986.5,803.1 987.8,803.1 989.2,803 990.6,802.9 992,802.9 993.3,802.8 994.7,802.8 996.1,802.7 997.5,802.6 998.8,802.5 1000.2,802.4 1001.6,802.3 1002.9,802.2 1004.3,802.1 1005.7,802 1007.1,801.9 1008.4,801.7 1009.8,801.6 1011.2,801.4 1012.5,801.3 1013.9,801.1 1015.3,800.6 1015.7,800.2 1016.1,799.4 1016.6,798 1017,796.3 1017.5,794.6 1017.9,793.1 1018.3,791.8 1018.8,790.5 1019.2,789.1 1019.6,787.8 1020.1,786.5 1020.5,785.3 1020.9,784.1 1021.4,783 1021.8,781.9 1022.2,780.9 1022.7,779.9 1023.1,778.9 1023.5,778 1024,777.1 1024.4,776.2 1024.8,775.4 1025.3,774.5 1025.7,773.7 1026.2,772.9 1026.6,772.2 1027,771.4 1027.5,770.7 1027.9,770 1028.3,769.3 1028.8,768.6 1029.2,768 1029.6,767.3 1030.1,766.7 1030.5,766.1 1030.9,765.4 1031.4,764.8 1031.8,764.2 1032.2,763.7 1032.7,763.1 1033.1,762.5 1033.5,761.9 1034,761.4 1034.4,760.8 1034.9,760.3 1035.3,759.8 1035.7,759.2 1036.2,758.7 1036.6,758.2 1037,757.7 1037.5,757.2 1037.9,756.7 1038.3,756.2 1038.8,755.7 1039.2,755.2 1039.6,754.8 1040.1,754.3 1040.5,753.8 1040.9,753.4 1041.4,752.9 1041.8,752.4 1042.2,752 1042.7,751.5 1043.1,751.1 1043.6,750.6 1044,750.2 1044.4,749.7 1044.9,749.3 1045.3,748.9 1045.7,748.4 1046.2,748 1046.6,747.6 1047,747.2 1047.5,746.7 1047.9,746.3 1048.3,745.9 1048.8,745.5 1049.2,745.1 1049.6,744.7 1051.3,743.1 1053,741.7 1054.7,740.2 1056.3,738.8 1058,737.5 1059.7,736.2 1061.4,734.9 1063,733.7 1064.7,732.5 1066.4,731.3 1068.1,730.2 1069.7,729 1071.4,727.9 1073.1,726.8 1074.8,725.7 1076.4,724.6 1078.1,723.6 1079.8,722.6 1081.5,721.6 1083.1,720.6 1084.8,719.6 1086.5,718.7 1088.2,717.7 1089.8,716.8 1091.5,715.9 1093.2,715.1 1094.9,714.2 1096.5,713.4 1098.2,712.6 1099.9,711.8 1101.6,711 1103.2,710.3 1104.9,709.5 1106.6,708.8 1108.3,708.1 1109.9,707.3 1111.6,706.6 1113.3,705.9 1115,705.3 1116.6,704.6 1118.3,703.9 1120,703.3 1121.7,702.6 1123.3,702 1125,701.4 1126.7,700.7 1128.4,700.1 1130,699.5 1131.7,698.9 1133.4,698.4 1135.1,697.8 1136.7,697.2 1138.4,696.7 1140.1,696.1 1141.8,695.6 1143.4,695 1145.1,694.5 1146.8,694 1148.5,693.4 1150.1,692.9 1151.8,692.4 1153.5,691.9 1155.1,691.4 1156.8,690.9 1158.5,690.4 1160.2,689.9 1161.8,689.5 1163.5,689 1165.2,688.5 1166.9,688 1168.5,687.6 1170.2,687.1 1171.9,686.6 1173.6,686.2 1175.2,685.8 1176.9,685.3 1178.6,684.9 1180.3,684.4 1181.9,684 1183.6,683.6 1185.3,683.2 1187,682.8 1188.6,682.4 1190.3,682 1192,681.6 1193.7,681.2 1195.3,680.8 1197,680.4 1198.7,680 1200.4,679.7 1202,679.3 1203.7,678.9 1205.4,678.6 1207.1,678.2 1208.7,677.9 1210.4,677.5 1212.1,677.2 1213.8,676.9 1215.4,676.6 1217.1,676.2 1218.8,675.9 1220.5,675.6 1222.1,675.3 1223.8,675 1225.5,674.7 1227.2,674.4 1228.8,674.1 1230.5,673.8 1232.2,673.6 1233.9,673.3 1235.5,673 1237.2,672.7 1238.9,672.5 1240.6,672.2 1242.2,671.9 1243.9,671.7 1245.6,671.4 1247.3,671.2 1248.9,670.9 1250.6,670.7 1252.3,670.4 1254,670.2 1255.6,669.9 1257.3,669.7 1259,669.4 1260.7,669.2 1262.3,669 1264,668.7 1265.7,668.5 1267.4,668.3 1269,668 1270.7,667.8 1272.4,667.6 1274.1,667.4 1275.7,667.2 1277.4,666.9 1279.1,666.7 1280.8,666.5 1282.4,666.3 1284.1,666.1 1285.8,665.9 1287.5,665.7 1289.1,665.5 1290.8,665.3 1292.5,665.1 1294.2,664.9 1295.8,664.7 1297.5,664.5 1299.2,664.3" fill="none" stroke="#008000" stroke-width="7.2" stroke-linejoin="round" stroke-linecap="round" /><rect x="827.3" y="541" width="187.6" height="348.4" fill="rgb(30,140,240)" fill-opacity="0.28"/><rect x="1014.9" y="541" width="284.3" height="348.4" fill="rgb(248,183,224)" fill-opacity="0.318"/><line x1="829.8" y1="541" x2="829.8" y2="889.4" stroke="#1e8cf0" stroke-width="4.6" stroke-dasharray="16 5"/><line x1="1014.9" y1="541" x2="1014.9" y2="889.4" stroke="#ffa6cd" stroke-width="4.6" stroke-dasharray="13 5"/></g><rect x="826" y="541" width="473.2" height="348.4" fill="none" stroke="#000" stroke-width="1.9"/><line x1="818" y1="889.4" x2="826" y2="889.4" stroke="#000" stroke-width="1.8" /><text x="811.5" y="899.8" font-family="'Liberation Sans', Arial, sans-serif" font-size="29" font-weight="bold" fill="#000" text-anchor="end" >0.55</text><line x1="821.6" y1="854.6" x2="826" y2="854.6" stroke="#000" stroke-width="1.8" /><line x1="818" y1="819.7" x2="826" y2="819.7" stroke="#000" stroke-width="1.8" /><text x="811.5" y="830.1" font-family="'Liberation Sans', Arial, sans-serif" font-size="29" font-weight="bold" fill="#000" text-anchor="end" >0.60</text><line x1="821.6" y1="784.9" x2="826" y2="784.9" stroke="#000" stroke-width="1.8" /><line x1="818" y1="750" x2="826" y2="750" stroke="#000" stroke-width="1.8" /><text x="811.5" y="760.4" font-family="'Liberation Sans', Arial, sans-serif" font-size="29" font-weight="bold" fill="#000" text-anchor="end" >0.65</text><line x1="821.6" y1="715.2" x2="826" y2="715.2" stroke="#000" stroke-width="1.8" /><line x1="818" y1="680.4" x2="826" y2="680.4" stroke="#000" stroke-width="1.8" /><text x="811.5" y="690.8" font-family="'Liberation Sans', Arial, sans-serif" font-size="29" font-weight="bold" fill="#000" text-anchor="end" >0.70</text><line x1="821.6" y1="645.5" x2="826" y2="645.5" stroke="#000" stroke-width="1.8" /><line x1="818" y1="610.7" x2="826" y2="610.7" stroke="#000" stroke-width="1.8" /><text x="811.5" y="621.1" font-family="'Liberation Sans', Arial, sans-serif" font-size="29" font-weight="bold" fill="#000" text-anchor="end" >0.75</text><line x1="821.6" y1="575.8" x2="826" y2="575.8" stroke="#000" stroke-width="1.8" /><line x1="818" y1="541" x2="826" y2="541" stroke="#000" stroke-width="1.8" /><text x="811.5" y="551.4" font-family="'Liberation Sans', Arial, sans-serif" font-size="29" font-weight="bold" fill="#000" text-anchor="end" >0.80</text><line x1="826.3" y1="889.4" x2="826.3" y2="896.9" stroke="#000" stroke-width="1.8" /><text x="826" y="925" font-family="'Liberation Sans', Arial, sans-serif" font-size="29" font-weight="bold" fill="#000" text-anchor="middle" letter-spacing="1">0</text><line x1="880" y1="889.4" x2="880" y2="893.2" stroke="#000" stroke-width="1.8" /><line x1="933.7" y1="889.4" x2="933.7" y2="896.9" stroke="#000" stroke-width="1.8" /><text x="933.4" y="925" font-family="'Liberation Sans', Arial, sans-serif" font-size="29" font-weight="bold" fill="#000" text-anchor="middle" letter-spacing="1">250</text><line x1="987.4" y1="889.4" x2="987.4" y2="893.2" stroke="#000" stroke-width="1.8" /><line x1="1041" y1="889.4" x2="1041" y2="896.9" stroke="#000" stroke-width="1.8" /><text x="1040.8" y="925" font-family="'Liberation Sans', Arial, sans-serif" font-size="29" font-weight="bold" fill="#000" text-anchor="middle" letter-spacing="1">500</text><line x1="1094.7" y1="889.4" x2="1094.7" y2="893.2" stroke="#000" stroke-width="1.8" /><line x1="1148.4" y1="889.4" x2="1148.4" y2="896.9" stroke="#000" stroke-width="1.8" /><text x="1148.1" y="925" font-family="'Liberation Sans', Arial, sans-serif" font-size="29" font-weight="bold" fill="#000" text-anchor="middle" letter-spacing="1">750</text><line x1="1202.1" y1="889.4" x2="1202.1" y2="893.2" stroke="#000" stroke-width="1.8" /><line x1="1255.8" y1="889.4" x2="1255.8" y2="896.9" stroke="#000" stroke-width="1.8" /><text x="1255.5" y="925" font-family="'Liberation Sans', Arial, sans-serif" font-size="29" font-weight="bold" fill="#000" text-anchor="middle" letter-spacing="1">1000</text><text x="1071.5" y="961.5" font-family="'Liberation Sans', Arial, sans-serif" font-size="35" font-weight="bold" fill="#000" text-anchor="middle" >Time (s)</text><text transform="translate(742.3,855.5) rotate(-90)" font-family="'Liberation Sans', Arial, sans-serif" font-size="36" font-weight="bold">V<tspan font-size="24" dy="8.6">OCP</tspan><tspan dy="-8.6"> (V vs. RHE)</tspan></text><text x="835.6" y="570" font-family="'Liberation Serif', 'Times New Roman', serif" font-size="26" font-weight="bold" fill="#1886ee" text-anchor="start" >Light on</text><text x="1020.6" y="572" font-family="'Liberation Serif', 'Times New Roman', serif" font-size="26" font-weight="bold" fill="#ffb2d6" text-anchor="start" >Light off</text><line x1="1133.7" y1="561.6" x2="1187.6" y2="561.6" stroke="#0a7d0a" stroke-width="2.8" stroke-dasharray="10.4 4"/><circle cx="1159.4" cy="561.6" r="6.7" fill="url(#mG)"/><text x="1193.4" y="566" font-family="'Liberation Serif', 'Times New Roman', serif" font-size="17.3" font-weight="bold" fill="#0a7d0a"><tspan>Zn:Fe=1:3</tspan></text><line x1="1133.7" y1="590.6" x2="1187.6" y2="590.6" stroke="#7a14ff" stroke-width="2.8" stroke-dasharray="10.4 4"/><circle cx="1159.4" cy="590.6" r="6.7" fill="url(#mP)"/><text x="1193.6" y="594.9" font-family="'Liberation Serif', 'Times New Roman', serif" font-size="17.3" font-weight="bold" fill="#7a14ff"><tspan>Zn:Fe=1:4</tspan></text><line x1="1133.7" y1="619.7" x2="1187.6" y2="619.7" stroke="#ff33ee" stroke-width="2.8" stroke-dasharray="10.4 4"/><circle cx="1159.4" cy="619.7" r="6.7" fill="url(#mM)"/><text x="1196.6" y="624.6" font-family="'Liberation Serif', 'Times New Roman', serif" font-size="17.3" font-weight="bold" fill="#ff33ee"><tspan>α-Fe</tspan><tspan font-size="11.8" dy="3.8">2</tspan><tspan dy="-3.8" font-size="1">&#8203;</tspan><tspan>O</tspan><tspan font-size="11.8" dy="3.8">3</tspan><tspan dy="-3.8" font-size="1">&#8203;</tspan></text><line x1="1133.7" y1="649.9" x2="1187.6" y2="649.9" stroke="#ff8a10" stroke-width="2.8" stroke-dasharray="10.4 4"/><circle cx="1159.4" cy="649.9" r="6.7" fill="url(#mO)"/><text x="1196.6" y="655.5" font-family="'Liberation Serif', 'Times New Roman', serif" font-size="17.3" font-weight="bold" fill="#ff8a10"><tspan>ZnFe</tspan><tspan font-size="11.8" dy="3.8">2</tspan><tspan dy="-3.8" font-size="1">&#8203;</tspan><tspan>O</tspan><tspan font-size="11.8" dy="3.8">4</tspan><tspan dy="-3.8" font-size="1">&#8203;</tspan></text><text x="682.5" y="512.4" font-family="'Liberation Sans', Arial, sans-serif" font-size="65.5" font-weight="bold" fill="#000" text-anchor="start" >e</text></g>
<g id="pf"><rect x="1497.6" y="568.4" width="209" height="8.6" fill="#8000ff" /><rect x="1668" y="579.5" width="40" height="34" fill="#8000ff" /><line x1="1661" y1="579.5" x2="1661" y2="606" stroke="#8000ff" stroke-width="1.6" /><line x1="1664.5" y1="579.5" x2="1664.5" y2="606" stroke="#8000ff" stroke-width="1.6" /><rect x="1742" y="603" width="20" height="31" fill="#8000ff" /><rect x="1771" y="638" width="13" height="8" fill="#8000ff" /><line x1="1610.6" y1="577" x2="1610.6" y2="607" stroke="#8000ff" stroke-width="1.6" stroke-dasharray="5 3"/><circle cx="1610.6" cy="607.7" r="4.4" fill="#8000ff" /><circle cx="1609.3" cy="606.4" r="1.3" fill="#fff" fill-opacity="0.55"/><line x1="1660" y1="579.5" x2="1712" y2="579.5" stroke="#ff00ff" stroke-width="1.3" /><line x1="1672" y1="580.8" x2="1712" y2="580.8" stroke="#fff" stroke-width="1" stroke-dasharray="6 5"/><line x1="1660" y1="590.6" x2="1712" y2="590.6" stroke="#ff00ff" stroke-width="1.3" /><line x1="1672" y1="591.9" x2="1712" y2="591.9" stroke="#fff" stroke-width="1" stroke-dasharray="6 5"/><line x1="1660" y1="601.6" x2="1712" y2="601.6" stroke="#ff00ff" stroke-width="1.3" /><line x1="1672" y1="602.9" x2="1712" y2="602.9" stroke="#fff" stroke-width="1" stroke-dasharray="6 5"/><line x1="1646.7" y1="606" x2="1646.7" y2="628" stroke="#ff00ff" stroke-width="2.6" /><line x1="1653.8" y1="606" x2="1653.8" y2="628" stroke="#ff00ff" stroke-width="2.6" /><line x1="1660.4" y1="606" x2="1660.4" y2="628" stroke="#ff00ff" stroke-width="2.6" /><line x1="1667.5" y1="606" x2="1667.5" y2="628" stroke="#ff00ff" stroke-width="2.6" /><line x1="1675.3" y1="606" x2="1675.3" y2="628" stroke="#ff00ff" stroke-width="2.6" /><line x1="1682.5" y1="606" x2="1682.5" y2="628" stroke="#ff00ff" stroke-width="2.6" /><line x1="1690.3" y1="606" x2="1690.3" y2="628" stroke="#ff00ff" stroke-width="2.6" /><rect x="1646.7" y="625.4" width="60" height="7.6" fill="#ff00ff" /><circle cx="1646.7" cy="627.7" r="4" fill="#ff00ff" /><circle cx="1645.5" cy="626.5" r="1.2" fill="#fff" fill-opacity="0.55"/><circle cx="1653.8" cy="627.7" r="4" fill="#ff00ff" /><circle cx="1652.6" cy="626.5" r="1.2" fill="#fff" fill-opacity="0.55"/><circle cx="1660.4" cy="627.7" r="4" fill="#ff00ff" /><circle cx="1659.2" cy="626.5" r="1.2" fill="#fff" fill-opacity="0.55"/><circle cx="1667.5" cy="627.7" r="4" fill="#ff00ff" /><circle cx="1666.3" cy="626.5" r="1.2" fill="#fff" fill-opacity="0.55"/><circle cx="1675.3" cy="627.7" r="4" fill="#ff00ff" /><circle cx="1674.1" cy="626.5" r="1.2" fill="#fff" fill-opacity="0.55"/><circle cx="1682.5" cy="627.7" r="4" fill="#ff00ff" /><circle cx="1681.3" cy="626.5" r="1.2" fill="#fff" fill-opacity="0.55"/><circle cx="1690.3" cy="627.7" r="4" fill="#ff00ff" /><circle cx="1689.1" cy="626.5" r="1.2" fill="#fff" fill-opacity="0.55"/><circle cx="1646.7" cy="606.8" r="4" fill="#ff00ff" /><circle cx="1645.5" cy="605.6" r="1.2" fill="#fff" fill-opacity="0.55"/><line x1="1653.8" y1="630" x2="1653.8" y2="642" stroke="#ff00ff" stroke-width="1.6" /><line x1="1661" y1="630" x2="1661" y2="642" stroke="#ff00ff" stroke-width="1.6" /><line x1="1695.1" y1="630" x2="1695.1" y2="642" stroke="#ff00ff" stroke-width="1.6" /><circle cx="1653.8" cy="642.6" r="4" fill="#ff00ff" /><circle cx="1652.6" cy="641.4" r="1.2" fill="#fff" fill-opacity="0.55"/><circle cx="1661" cy="642.6" r="4" fill="#ff00ff" /><circle cx="1659.8" cy="641.4" r="1.2" fill="#fff" fill-opacity="0.55"/><circle cx="1695.1" cy="642.6" r="4" fill="#ff00ff" /><circle cx="1693.9" cy="641.4" r="1.2" fill="#fff" fill-opacity="0.55"/><line x1="1782.2" y1="577" x2="1782.2" y2="606" stroke="#ff00ff" stroke-width="2.2" stroke-dasharray="6 3"/><line x1="1812.2" y1="577" x2="1812.2" y2="606" stroke="#ff00ff" stroke-width="2.2" stroke-dasharray="6 3"/><line x1="1849.1" y1="577" x2="1849.1" y2="606" stroke="#ff00ff" stroke-width="2.2" stroke-dasharray="6 3"/><path d="M1849.1,607 L1849.1,627.6 L1850.6,642.2 L1852.2,669.9 L1854.5,683" fill="none" stroke="#ff00ff" stroke-width="2" stroke-dasharray="6 3"/><path d="M1705.5,572.1H1876" stroke="#ff8000" stroke-width="8.4" stroke-linecap="round" fill="none"/><path d="M1708.5,580.5H1751.5" stroke="#ff8000" stroke-width="4.4" stroke-linecap="round" fill="none"/><path d="M1708.5,586.3H1751.5" stroke="#ff8000" stroke-width="4.4" stroke-linecap="round" fill="none"/><path d="M1708.5,592.1H1751.5" stroke="#ff8000" stroke-width="4.4" stroke-linecap="round" fill="none"/><path d="M1708.5,597.9H1751.5" stroke="#ff8000" stroke-width="4.4" stroke-linecap="round" fill="none"/><line x1="1709.5" y1="576" x2="1709.5" y2="604" stroke="#ff8000" stroke-width="1.3" /><line x1="1730" y1="576" x2="1730" y2="604" stroke="#ff8000" stroke-width="1.3" /><line x1="1750.5" y1="576" x2="1750.5" y2="604" stroke="#ff8000" stroke-width="1.3" /><path d="M1762,580.5H1768.5" stroke="#ff8000" stroke-width="4.4" stroke-linecap="round" fill="none"/><path d="M1762,586.3H1768.5" stroke="#ff8000" stroke-width="4.4" stroke-linecap="round" fill="none"/><path d="M1762,592.1H1768.5" stroke="#ff8000" stroke-width="4.4" stroke-linecap="round" fill="none"/><path d="M1762,597.9H1768.5" stroke="#ff8000" stroke-width="4.4" stroke-linecap="round" fill="none"/><line x1="1763" y1="576" x2="1763" y2="604" stroke="#ff8000" stroke-width="1.3" /><line x1="1765.2" y1="576" x2="1765.2" y2="604" stroke="#ff8000" stroke-width="1.3" /><line x1="1767.5" y1="576" x2="1767.5" y2="604" stroke="#ff8000" stroke-width="1.3" /><path d="M1786,580.5H1797" stroke="#ff8000" stroke-width="4.4" stroke-linecap="round" fill="none"/><path d="M1786,586.3H1797" stroke="#ff8000" stroke-width="4.4" stroke-linecap="round" fill="none"/><path d="M1786,592.1H1797" stroke="#ff8000" stroke-width="4.4" stroke-linecap="round" fill="none"/><path d="M1786,597.9H1797" stroke="#ff8000" stroke-width="4.4" stroke-linecap="round" fill="none"/><line x1="1787" y1="576" x2="1787" y2="604" stroke="#ff8000" stroke-width="1.3" /><line x1="1791.5" y1="576" x2="1791.5" y2="604" stroke="#ff8000" stroke-width="1.3" /><line x1="1796" y1="576" x2="1796" y2="604" stroke="#ff8000" stroke-width="1.3" /><path d="M1821,580.5H1841" stroke="#ff8000" stroke-width="4.4" stroke-linecap="round" fill="none"/><path d="M1821,586.3H1841" stroke="#ff8000" stroke-width="4.4" stroke-linecap="round" fill="none"/><path d="M1821,592.1H1841" stroke="#ff8000" stroke-width="4.4" stroke-linecap="round" fill="none"/><path d="M1821,597.9H1841" stroke="#ff8000" stroke-width="4.4" stroke-linecap="round" fill="none"/><line x1="1822" y1="576" x2="1822" y2="604" stroke="#ff8000" stroke-width="1.3" /><line x1="1831" y1="576" x2="1831" y2="604" stroke="#ff8000" stroke-width="1.3" /><line x1="1840" y1="576" x2="1840" y2="604" stroke="#ff8000" stroke-width="1.3" /><path d="M1861,580.5H1875.5" stroke="#ff8000" stroke-width="4.4" stroke-linecap="round" fill="none"/><path d="M1861,586.3H1875.5" stroke="#ff8000" stroke-width="4.4" stroke-linecap="round" fill="none"/><path d="M1861,592.1H1875.5" stroke="#ff8000" stroke-width="4.4" stroke-linecap="round" fill="none"/><path d="M1861,597.9H1875.5" stroke="#ff8000" stroke-width="4.4" stroke-linecap="round" fill="none"/><line x1="1862" y1="576" x2="1862" y2="604" stroke="#ff8000" stroke-width="1.3" /><line x1="1868.2" y1="576" x2="1868.2" y2="604" stroke="#ff8000" stroke-width="1.3" /><line x1="1874.5" y1="576" x2="1874.5" y2="604" stroke="#ff8000" stroke-width="1.3" /><line x1="1714" y1="576" x2="1714" y2="604" stroke="#ff8000" stroke-width="1.6" /><line x1="1721" y1="576" x2="1721" y2="604" stroke="#ff8000" stroke-width="1.6" /><line x1="1728" y1="576" x2="1728" y2="604" stroke="#ff8000" stroke-width="1.6" /><line x1="1735" y1="576" x2="1735" y2="604" stroke="#ff8000" stroke-width="1.6" /><line x1="1742" y1="576" x2="1742" y2="604" stroke="#ff8000" stroke-width="1.6" /><line x1="1749" y1="576" x2="1749" y2="604" stroke="#ff8000" stroke-width="1.6" /><path d="M1713,615.2H1765" stroke="#ff8000" stroke-width="5.8" stroke-linecap="round" fill="none"/><path d="M1713,620.5H1765" stroke="#ff8000" stroke-width="5.8" stroke-linecap="round" fill="none"/><path d="M1713,632.8H1765" stroke="#ff8000" stroke-width="5.8" stroke-linecap="round" fill="none"/><path d="M1787,615.2H1797" stroke="#ff8000" stroke-width="5.8" stroke-linecap="round" fill="none"/><path d="M1787,620.5H1797" stroke="#ff8000" stroke-width="5.8" stroke-linecap="round" fill="none"/><path d="M1787,632.8H1797" stroke="#ff8000" stroke-width="5.8" stroke-linecap="round" fill="none"/><path d="M1820.5,615.2H1840" stroke="#ff8000" stroke-width="5.8" stroke-linecap="round" fill="none"/><path d="M1820.5,620.5H1840" stroke="#ff8000" stroke-width="5.8" stroke-linecap="round" fill="none"/><path d="M1820.5,632.8H1840" stroke="#ff8000" stroke-width="5.8" stroke-linecap="round" fill="none"/><path d="M1711.5,627.3H1771.7" stroke="#ff8000" stroke-width="8" stroke-linecap="round" stroke-dasharray="0 4.29" fill="none"/><path d="M1785,627.3H1800.2" stroke="#ff8000" stroke-width="8" stroke-linecap="round" stroke-dasharray="0 5.00" fill="none"/><path d="M1818,627.3H1843.2" stroke="#ff8000" stroke-width="8" stroke-linecap="round" stroke-dasharray="0 4.17" fill="none"/><path d="M1708.5,642H1770.7" stroke="#ff8000" stroke-width="8" stroke-linecap="round" stroke-dasharray="0 4.43" fill="none"/><path d="M1784,642H1799.2" stroke="#ff8000" stroke-width="8" stroke-linecap="round" stroke-dasharray="0 5.00" fill="none"/><path d="M1816,642H1842.2" stroke="#ff8000" stroke-width="8" stroke-linecap="round" stroke-dasharray="0 4.33" fill="none"/><path d="M1783,653.1H1799.2" stroke="#ff8000" stroke-width="8" stroke-linecap="round" stroke-dasharray="0 4.00" fill="none"/><path d="M1818,653.1H1842.2" stroke="#ff8000" stroke-width="8" stroke-linecap="round" stroke-dasharray="0 4.80" fill="none"/><path d="M1706,607.3H1771.7" stroke="#ff8000" stroke-width="8.2" stroke-linecap="round" stroke-dasharray="0 4.37" fill="none"/><path d="M1785,607.3H1800.2" stroke="#ff8000" stroke-width="8.2" stroke-linecap="round" stroke-dasharray="0 5.00" fill="none"/><path d="M1817.5,607.3H1843.2" stroke="#ff8000" stroke-width="8.2" stroke-linecap="round" stroke-dasharray="0 4.25" fill="none"/><path d="M1858.5,607.3H1878.2" stroke="#ff8000" stroke-width="8.2" stroke-linecap="round" stroke-dasharray="0 4.88" fill="none"/><circle cx="1728.9" cy="653.1" r="3.9" fill="#ff8000" /><circle cx="1733.1" cy="653.1" r="3.9" fill="#ff8000" /><circle cx="1740.5" cy="653.1" r="3.9" fill="#ff8000" /><circle cx="1766.8" cy="653.1" r="3.9" fill="#ff8000" /><path d="M1874,606.9 H1882.2 V626.8 L1878.3,626.8" fill="none" stroke="#ff8000" stroke-width="3"/><path d="M1884.5,642.2 L1886.8,653 L1889.1,662.2 L1896,670.7 L1890.6,676.8 L1892.9,693" fill="none" stroke="#ff8000" stroke-width="1.8" stroke-dasharray="4 3"/><circle cx="1882.2" cy="606.9" r="3.9" fill="#ff8000" /><circle cx="1881" cy="605.7" r="1.2" fill="#fff" fill-opacity="0.55"/><circle cx="1878.3" cy="626.8" r="3.9" fill="#ff8000" /><circle cx="1877.1" cy="625.6" r="1.2" fill="#fff" fill-opacity="0.55"/><circle cx="1884.5" cy="642.2" r="3.9" fill="#ff8000" /><circle cx="1883.3" cy="641" r="1.2" fill="#fff" fill-opacity="0.55"/><circle cx="1886.8" cy="653" r="3.9" fill="#ff8000" /><circle cx="1885.6" cy="651.8" r="1.2" fill="#fff" fill-opacity="0.55"/><circle cx="1889.1" cy="662.2" r="3.9" fill="#ff8000" /><circle cx="1887.9" cy="661" r="1.2" fill="#fff" fill-opacity="0.55"/><circle cx="1896" cy="670.7" r="3.9" fill="#ff8000" /><circle cx="1894.8" cy="669.5" r="1.2" fill="#fff" fill-opacity="0.55"/><circle cx="1890.6" cy="676.8" r="3.9" fill="#ff8000" /><circle cx="1889.4" cy="675.6" r="1.2" fill="#fff" fill-opacity="0.55"/><circle cx="1892.9" cy="693" r="3.9" fill="#ff8000" /><circle cx="1891.7" cy="691.8" r="1.2" fill="#fff" fill-opacity="0.55"/><circle cx="1706.5" cy="572.3" r="3.9" fill="#ff8000" /><circle cx="1705.3" cy="571.1" r="1.2" fill="#fff" fill-opacity="0.55"/><circle cx="1706.5" cy="607.3" r="3.9" fill="#ff8000" /><circle cx="1705.3" cy="606.1" r="1.2" fill="#fff" fill-opacity="0.55"/><circle cx="1860" cy="607.3" r="3.9" fill="#ff8000" /><circle cx="1858.8" cy="606.1" r="1.2" fill="#fff" fill-opacity="0.55"/><circle cx="1782.2" cy="606.9" r="4" fill="#ff00ff" /><circle cx="1781" cy="605.7" r="1.2" fill="#fff" fill-opacity="0.55"/><circle cx="1812.2" cy="606.9" r="4" fill="#ff00ff" /><circle cx="1811" cy="605.7" r="1.2" fill="#fff" fill-opacity="0.55"/><circle cx="1849.1" cy="606.9" r="4" fill="#ff00ff" /><circle cx="1847.9" cy="605.7" r="1.2" fill="#fff" fill-opacity="0.55"/><circle cx="1849.1" cy="627.6" r="4" fill="#ff00ff" /><circle cx="1847.9" cy="626.4" r="1.2" fill="#fff" fill-opacity="0.55"/><circle cx="1850.6" cy="642.2" r="4" fill="#ff00ff" /><circle cx="1849.4" cy="641" r="1.2" fill="#fff" fill-opacity="0.55"/><circle cx="1852.2" cy="669.9" r="4" fill="#ff00ff" /><circle cx="1851" cy="668.7" r="1.2" fill="#fff" fill-opacity="0.55"/><circle cx="1856.8" cy="668.4" r="4" fill="#ff00ff" /><circle cx="1855.6" cy="667.2" r="1.2" fill="#fff" fill-opacity="0.55"/><circle cx="1854.5" cy="683" r="4" fill="#ff00ff" /><circle cx="1853.3" cy="681.8" r="1.2" fill="#fff" fill-opacity="0.55"/><path d="M1795.3,697.6 L1798.7,718.8 L1804.3,749.2 L1813.9,797.3 L1844.8,786.6 L1847.3,727.8" fill="none" stroke="#8000ff" stroke-width="2" stroke-dasharray="5.5 4"/><circle cx="1773.8" cy="627.6" r="4" fill="#8000ff" /><circle cx="1772.6" cy="626.4" r="1.2" fill="#fff" fill-opacity="0.55"/><circle cx="1778.4" cy="642.2" r="4" fill="#8000ff" /><circle cx="1777.2" cy="641" r="1.2" fill="#fff" fill-opacity="0.55"/><circle cx="1776" cy="653" r="4" fill="#8000ff" /><circle cx="1774.8" cy="651.8" r="1.2" fill="#fff" fill-opacity="0.55"/><circle cx="1780.7" cy="662.2" r="4" fill="#8000ff" /><circle cx="1779.5" cy="661" r="1.2" fill="#fff" fill-opacity="0.55"/><circle cx="1785.3" cy="669.9" r="4" fill="#8000ff" /><circle cx="1784.1" cy="668.7" r="1.2" fill="#fff" fill-opacity="0.55"/><circle cx="1787" cy="671.5" r="4" fill="#8000ff" /><circle cx="1785.8" cy="670.3" r="1.2" fill="#fff" fill-opacity="0.55"/><circle cx="1789.9" cy="683" r="4" fill="#8000ff" /><circle cx="1788.7" cy="681.8" r="1.2" fill="#fff" fill-opacity="0.55"/><circle cx="1793" cy="688.3" r="4" fill="#8000ff" /><circle cx="1791.8" cy="687.1" r="1.2" fill="#fff" fill-opacity="0.55"/><circle cx="1795.3" cy="697.6" r="4" fill="#8000ff" /><circle cx="1794.1" cy="696.4" r="1.2" fill="#fff" fill-opacity="0.55"/><circle cx="1798.7" cy="718.8" r="4" fill="#8000ff" /><circle cx="1797.5" cy="717.6" r="1.2" fill="#fff" fill-opacity="0.55"/><circle cx="1804.3" cy="749.2" r="4" fill="#8000ff" /><circle cx="1803.1" cy="748" r="1.2" fill="#fff" fill-opacity="0.55"/><circle cx="1813.9" cy="797.3" r="4" fill="#8000ff" /><circle cx="1812.7" cy="796.1" r="1.2" fill="#fff" fill-opacity="0.55"/><circle cx="1844.8" cy="786.6" r="4" fill="#8000ff" /><circle cx="1843.6" cy="785.4" r="1.2" fill="#fff" fill-opacity="0.55"/><circle cx="1847.3" cy="727.8" r="4" fill="#8000ff" /><circle cx="1846.1" cy="726.6" r="1.2" fill="#fff" fill-opacity="0.55"/><path d="M1500.5,545.4H1566" stroke="#008000" stroke-width="9.2" stroke-linecap="round" fill="none"/><path d="M1500.5,548.4H1576" stroke="#008000" stroke-width="9.2" stroke-linecap="round" fill="none"/><path d="M1500.5,561H1605" stroke="#008000" stroke-width="10.2" stroke-linecap="round" fill="none"/><path d="M1549.7,572.3H1611" stroke="#008000" stroke-width="8.4" stroke-linecap="round" fill="none"/><path d="M1589.4,582H1629.7" stroke="#008000" stroke-width="8.4" stroke-linecap="round" fill="none"/><path d="M1729.3,661.5 L1737.2,681 L1749.4,729.8 L1790.8,739.1 L1813.9,720.5" fill="none" stroke="#008000" stroke-width="2.2" stroke-dasharray="6.5 4"/><circle cx="1615.4" cy="561.3" r="4.2" fill="#008000" /><circle cx="1614.1" cy="560" r="1.3" fill="#fff" fill-opacity="0.55"/><circle cx="1620" cy="561.3" r="4.2" fill="#008000" /><circle cx="1618.7" cy="560" r="1.3" fill="#fff" fill-opacity="0.55"/><circle cx="1499.5" cy="572.3" r="4.2" fill="#008000" /><circle cx="1498.2" cy="571" r="1.3" fill="#fff" fill-opacity="0.55"/><circle cx="1517" cy="572.3" r="4.2" fill="#008000" /><circle cx="1515.7" cy="571" r="1.3" fill="#fff" fill-opacity="0.55"/><circle cx="1536" cy="572.3" r="4.2" fill="#008000" /><circle cx="1534.7" cy="571" r="1.3" fill="#fff" fill-opacity="0.55"/><circle cx="1620" cy="572.3" r="4.2" fill="#008000" /><circle cx="1618.7" cy="571" r="1.3" fill="#fff" fill-opacity="0.55"/><circle cx="1627" cy="572.3" r="4.2" fill="#008000" /><circle cx="1625.7" cy="571" r="1.3" fill="#fff" fill-opacity="0.55"/><circle cx="1634.3" cy="572.3" r="4.2" fill="#008000" /><circle cx="1633" cy="571" r="1.3" fill="#fff" fill-opacity="0.55"/><circle cx="1645.4" cy="582" r="4.2" fill="#008000" /><circle cx="1644.1" cy="580.7" r="1.3" fill="#fff" fill-opacity="0.55"/><circle cx="1650.6" cy="582" r="4.2" fill="#008000" /><circle cx="1649.3" cy="580.7" r="1.3" fill="#fff" fill-opacity="0.55"/><circle cx="1621.9" cy="589.2" r="4.2" fill="#008000" /><circle cx="1620.6" cy="587.9" r="1.3" fill="#fff" fill-opacity="0.55"/><circle cx="1632.3" cy="589.2" r="4.2" fill="#008000" /><circle cx="1631" cy="587.9" r="1.3" fill="#fff" fill-opacity="0.55"/><circle cx="1640.2" cy="589.2" r="4.2" fill="#008000" /><circle cx="1638.9" cy="587.9" r="1.3" fill="#fff" fill-opacity="0.55"/><circle cx="1648" cy="589.2" r="4.2" fill="#008000" /><circle cx="1646.7" cy="587.9" r="1.3" fill="#fff" fill-opacity="0.55"/><circle cx="1657.1" cy="589.2" r="4.2" fill="#008000" /><circle cx="1655.8" cy="587.9" r="1.3" fill="#fff" fill-opacity="0.55"/><circle cx="1618" cy="596.4" r="4.2" fill="#008000" /><circle cx="1616.7" cy="595.1" r="1.3" fill="#fff" fill-opacity="0.55"/><circle cx="1630.4" cy="596.4" r="4.2" fill="#008000" /><circle cx="1629.1" cy="595.1" r="1.3" fill="#fff" fill-opacity="0.55"/><circle cx="1636.9" cy="596.4" r="4.2" fill="#008000" /><circle cx="1635.6" cy="595.1" r="1.3" fill="#fff" fill-opacity="0.55"/><circle cx="1648" cy="596.4" r="4.2" fill="#008000" /><circle cx="1646.7" cy="595.1" r="1.3" fill="#fff" fill-opacity="0.55"/><circle cx="1659.7" cy="596.4" r="4.2" fill="#008000" /><circle cx="1658.4" cy="595.1" r="1.3" fill="#fff" fill-opacity="0.55"/><circle cx="1662.3" cy="601" r="4.2" fill="#008000" /><circle cx="1661" cy="599.7" r="1.3" fill="#fff" fill-opacity="0.55"/><circle cx="1668.8" cy="601.6" r="4.2" fill="#008000" /><circle cx="1667.5" cy="600.3" r="1.3" fill="#fff" fill-opacity="0.55"/><circle cx="1676.6" cy="602.3" r="4.2" fill="#008000" /><circle cx="1675.3" cy="601" r="1.3" fill="#fff" fill-opacity="0.55"/><circle cx="1677.9" cy="606.8" r="4.2" fill="#008000" /><circle cx="1676.6" cy="605.5" r="1.3" fill="#fff" fill-opacity="0.55"/><circle cx="1684.4" cy="607.5" r="4.2" fill="#008000" /><circle cx="1683.1" cy="606.2" r="1.3" fill="#fff" fill-opacity="0.55"/><circle cx="1654.5" cy="607.5" r="4.2" fill="#008000" /><circle cx="1653.2" cy="606.2" r="1.3" fill="#fff" fill-opacity="0.55"/><circle cx="1689.6" cy="613.3" r="4.2" fill="#008000" /><circle cx="1688.3" cy="612" r="1.3" fill="#fff" fill-opacity="0.55"/><circle cx="1694.8" cy="617.2" r="4.2" fill="#008000" /><circle cx="1693.5" cy="615.9" r="1.3" fill="#fff" fill-opacity="0.55"/><circle cx="1700" cy="621.1" r="4.2" fill="#008000" /><circle cx="1698.7" cy="619.8" r="1.3" fill="#fff" fill-opacity="0.55"/><circle cx="1705.3" cy="625.1" r="4.2" fill="#008000" /><circle cx="1704" cy="623.8" r="1.3" fill="#fff" fill-opacity="0.55"/><circle cx="1709.2" cy="630.9" r="4.2" fill="#008000" /><circle cx="1707.9" cy="629.6" r="1.3" fill="#fff" fill-opacity="0.55"/><circle cx="1713.1" cy="636.8" r="4.2" fill="#008000" /><circle cx="1711.8" cy="635.5" r="1.3" fill="#fff" fill-opacity="0.55"/><circle cx="1718.3" cy="642.6" r="4.2" fill="#008000" /><circle cx="1717" cy="641.3" r="1.3" fill="#fff" fill-opacity="0.55"/><circle cx="1723.2" cy="649.8" r="4.2" fill="#008000" /><circle cx="1721.9" cy="648.5" r="1.3" fill="#fff" fill-opacity="0.55"/><circle cx="1729.3" cy="661.5" r="4.2" fill="#008000" /><circle cx="1728" cy="660.2" r="1.3" fill="#fff" fill-opacity="0.55"/><circle cx="1737.2" cy="681" r="4.2" fill="#008000" /><circle cx="1735.9" cy="679.7" r="1.3" fill="#fff" fill-opacity="0.55"/><circle cx="1749.4" cy="729.8" r="4.2" fill="#008000" /><circle cx="1748.1" cy="728.5" r="1.3" fill="#fff" fill-opacity="0.55"/><circle cx="1790.8" cy="739.1" r="4.2" fill="#008000" /><circle cx="1789.5" cy="737.8" r="1.3" fill="#fff" fill-opacity="0.55"/><circle cx="1813.9" cy="720.5" r="4.2" fill="#008000" /><circle cx="1812.6" cy="719.2" r="1.3" fill="#fff" fill-opacity="0.55"/><circle cx="1501.8" cy="559.8" r="1.1" fill="#fff" fill-opacity="0.5"/><circle cx="1510.8" cy="559.8" r="1.1" fill="#fff" fill-opacity="0.5"/><circle cx="1519.8" cy="559.8" r="1.1" fill="#fff" fill-opacity="0.5"/><circle cx="1528.8" cy="559.8" r="1.1" fill="#fff" fill-opacity="0.5"/><circle cx="1537.8" cy="559.8" r="1.1" fill="#fff" fill-opacity="0.5"/><circle cx="1546.8" cy="559.8" r="1.1" fill="#fff" fill-opacity="0.5"/><circle cx="1555.8" cy="559.8" r="1.1" fill="#fff" fill-opacity="0.5"/><circle cx="1564.8" cy="559.8" r="1.1" fill="#fff" fill-opacity="0.5"/><circle cx="1573.8" cy="559.8" r="1.1" fill="#fff" fill-opacity="0.5"/><circle cx="1582.8" cy="559.8" r="1.1" fill="#fff" fill-opacity="0.5"/><circle cx="1591.8" cy="559.8" r="1.1" fill="#fff" fill-opacity="0.5"/><ellipse cx="1801.7" cy="730.6" rx="43" ry="14.5" transform="rotate(-40.5 1801.7 730.6)" fill="none" stroke="#008000" stroke-width="4.6" stroke-dasharray="13.5 5"/><ellipse cx="1847" cy="759.3" rx="12" ry="49.5" fill="none" stroke="#a040ff" stroke-width="3.8" stroke-dasharray="13 4.5"/><ellipse cx="1856" cy="677.6" rx="12.5" ry="27.5" transform="rotate(-4 1856 677.6)" fill="none" stroke="#ff00ff" stroke-width="3.4" stroke-dasharray="10 4"/><ellipse cx="1894.5" cy="683.7" rx="10.5" ry="28.5" transform="rotate(8 1894.5 683.7)" fill="none" stroke="#ff8000" stroke-width="3.6" stroke-dasharray="11 4"/><text x="1885.5" y="632.2" font-family="'Liberation Serif', 'Times New Roman', serif" font-size="43" font-weight="bold" fill="#ff8000" text-anchor="start" >2.6 s</text><text x="1870.6" y="739" font-family="'Liberation Serif', 'Times New Roman', serif" font-size="43" font-weight="bold" fill="#ff00ff" text-anchor="start" >1.9 s</text><text x="1860.8" y="793.4" font-family="'Liberation Serif', 'Times New Roman', serif" font-size="43" font-weight="bold" fill="#8000ff" text-anchor="start" >1.6 s</text><text x="1676.7" y="777.9" font-family="'Liberation Serif', 'Times New Roman', serif" font-size="43" font-weight="bold" fill="#00a651" text-anchor="start" >0.8 s</text><rect x="1497.4" y="540.3" width="473.3" height="348" fill="none" stroke="#000" stroke-width="1.9"/><line x1="1489.4" y1="540.3" x2="1497.4" y2="540.3" stroke="#000" stroke-width="1.8" /><g transform="translate(1483.2,551.6) scale(1,1.085)"><text x="0" y="0" font-family="'Liberation Sans', Arial, sans-serif" font-size="28.2" font-weight="bold" fill="#000" text-anchor="end" stroke="#000" stroke-width="0.8">100</text></g><line x1="1493" y1="621.4" x2="1497.4" y2="621.4" stroke="#000" stroke-width="1.8" /><line x1="1493" y1="601" x2="1497.4" y2="601" stroke="#000" stroke-width="1.8" /><line x1="1493" y1="586.5" x2="1497.4" y2="586.5" stroke="#000" stroke-width="1.8" /><line x1="1493" y1="575.2" x2="1497.4" y2="575.2" stroke="#000" stroke-width="1.8" /><line x1="1493" y1="566" x2="1497.4" y2="566" stroke="#000" stroke-width="1.8" /><line x1="1493" y1="558.3" x2="1497.4" y2="558.3" stroke="#000" stroke-width="1.8" /><line x1="1493" y1="551.5" x2="1497.4" y2="551.5" stroke="#000" stroke-width="1.8" /><line x1="1493" y1="545.6" x2="1497.4" y2="545.6" stroke="#000" stroke-width="1.8" /><line x1="1489.4" y1="656.3" x2="1497.4" y2="656.3" stroke="#000" stroke-width="1.8" /><g transform="translate(1483.2,667.6) scale(1,1.085)"><text x="0" y="0" font-family="'Liberation Sans', Arial, sans-serif" font-size="28.2" font-weight="bold" fill="#000" text-anchor="end" stroke="#000" stroke-width="0.8">10</text></g><line x1="1493" y1="737.4" x2="1497.4" y2="737.4" stroke="#000" stroke-width="1.8" /><line x1="1493" y1="717" x2="1497.4" y2="717" stroke="#000" stroke-width="1.8" /><line x1="1493" y1="702.5" x2="1497.4" y2="702.5" stroke="#000" stroke-width="1.8" /><line x1="1493" y1="691.2" x2="1497.4" y2="691.2" stroke="#000" stroke-width="1.8" /><line x1="1493" y1="682" x2="1497.4" y2="682" stroke="#000" stroke-width="1.8" /><line x1="1493" y1="674.3" x2="1497.4" y2="674.3" stroke="#000" stroke-width="1.8" /><line x1="1493" y1="667.5" x2="1497.4" y2="667.5" stroke="#000" stroke-width="1.8" /><line x1="1493" y1="661.6" x2="1497.4" y2="661.6" stroke="#000" stroke-width="1.8" /><line x1="1489.4" y1="772.3" x2="1497.4" y2="772.3" stroke="#000" stroke-width="1.8" /><g transform="translate(1483.2,783.6) scale(1,1.085)"><text x="0" y="0" font-family="'Liberation Sans', Arial, sans-serif" font-size="28.2" font-weight="bold" fill="#000" text-anchor="end" stroke="#000" stroke-width="0.8">1</text></g><line x1="1493" y1="853.4" x2="1497.4" y2="853.4" stroke="#000" stroke-width="1.8" /><line x1="1493" y1="833" x2="1497.4" y2="833" stroke="#000" stroke-width="1.8" /><line x1="1493" y1="818.5" x2="1497.4" y2="818.5" stroke="#000" stroke-width="1.8" /><line x1="1493" y1="807.2" x2="1497.4" y2="807.2" stroke="#000" stroke-width="1.8" /><line x1="1493" y1="798" x2="1497.4" y2="798" stroke="#000" stroke-width="1.8" /><line x1="1493" y1="790.3" x2="1497.4" y2="790.3" stroke="#000" stroke-width="1.8" /><line x1="1493" y1="783.5" x2="1497.4" y2="783.5" stroke="#000" stroke-width="1.8" /><line x1="1493" y1="777.6" x2="1497.4" y2="777.6" stroke="#000" stroke-width="1.8" /><line x1="1489.4" y1="888.3" x2="1497.4" y2="888.3" stroke="#000" stroke-width="1.8" /><g transform="translate(1483.2,899.6) scale(1,1.085)"><text x="0" y="0" font-family="'Liberation Sans', Arial, sans-serif" font-size="28.2" font-weight="bold" fill="#000" text-anchor="end" stroke="#000" stroke-width="0.8">0.1</text></g><line x1="1497.4" y1="888.3" x2="1497.4" y2="895.8" stroke="#000" stroke-width="1.8" /><text x="1493.7" y="929.4" font-family="'Liberation Sans', Arial, sans-serif" font-size="29" font-weight="bold" fill="#000" text-anchor="middle" letter-spacing="0.5">0.68</text><line x1="1544.7" y1="888.3" x2="1544.7" y2="892.1" stroke="#000" stroke-width="1.8" /><line x1="1592.1" y1="888.3" x2="1592.1" y2="895.8" stroke="#000" stroke-width="1.8" /><text x="1588.4" y="926.4" font-family="'Liberation Sans', Arial, sans-serif" font-size="29" font-weight="bold" fill="#000" text-anchor="middle" letter-spacing="0.5">0.66</text><line x1="1639.4" y1="888.3" x2="1639.4" y2="892.1" stroke="#000" stroke-width="1.8" /><line x1="1686.7" y1="888.3" x2="1686.7" y2="895.8" stroke="#000" stroke-width="1.8" /><text x="1683" y="927.3" font-family="'Liberation Sans', Arial, sans-serif" font-size="29" font-weight="bold" fill="#000" text-anchor="middle" letter-spacing="0.5">0.64</text><line x1="1734" y1="888.3" x2="1734" y2="892.1" stroke="#000" stroke-width="1.8" /><line x1="1781.4" y1="888.3" x2="1781.4" y2="895.8" stroke="#000" stroke-width="1.8" /><text x="1777.7" y="926.4" font-family="'Liberation Sans', Arial, sans-serif" font-size="29" font-weight="bold" fill="#000" text-anchor="middle" letter-spacing="0.5">0.62</text><line x1="1828.7" y1="888.3" x2="1828.7" y2="892.1" stroke="#000" stroke-width="1.8" /><line x1="1876" y1="888.3" x2="1876" y2="895.8" stroke="#000" stroke-width="1.8" /><text x="1872.3" y="927.3" font-family="'Liberation Sans', Arial, sans-serif" font-size="29" font-weight="bold" fill="#000" text-anchor="middle" letter-spacing="0.5">0.60</text><line x1="1923.4" y1="888.3" x2="1923.4" y2="892.1" stroke="#000" stroke-width="1.8" /><line x1="1970.7" y1="888.3" x2="1970.7" y2="895.8" stroke="#000" stroke-width="1.8" /><text x="1967" y="925.2" font-family="'Liberation Sans', Arial, sans-serif" font-size="29" font-weight="bold" fill="#000" text-anchor="middle" letter-spacing="0.5">0.58</text><text x="1604.5" y="961.6" font-family="'Liberation Sans', Arial, sans-serif" font-size="35.6" font-weight="bold">V<tspan font-size="23.5" dy="8.6">OCP</tspan><tspan dy="-8.6"> (V vs. RHE)</tspan></text><text transform="translate(1437,750) rotate(-90)" font-family="'Liberation Sans', Arial, sans-serif" font-size="35" font-weight="bold"><tspan font-style="italic" font-family="'Liberation Sans', sans-serif">τ</tspan> (s)</text><text x="1358" y="506.9" font-family="'Liberation Sans', Arial, sans-serif" font-size="64.3" font-weight="bold" fill="#000" text-anchor="start" >f</text></g>
<g id="pg"><clipPath id="clipG"><rect x="140.5" y="1030" width="468" height="342.3"/></clipPath><g clip-path="url(#clipG)"><polyline points="140.5,1320.8 141.6,1320.8 142.7,1320.8 143.8,1320.8 144.9,1320.8 146,1320.8 147.1,1320.8 148.2,1320.8 149.3,1320.8 150.4,1320.8 151.5,1320.8 152.6,1320.8 153.7,1320.8 154.8,1320.8 155.9,1320.8 157,1320.8 158.1,1320.8 159.2,1320.8 160.3,1320.8 161.4,1320.7 162.5,1320.7 163.6,1320.7 164.7,1320.7 165.8,1320.7 166.9,1320.7 168,1320.7 169.1,1320.7 170.2,1320.6 171.3,1320.6 172.4,1320.6 173.5,1320.6 174.6,1320.6 175.7,1320.6 176.8,1320.5 177.9,1320.5 179,1320.5 180.1,1320.5 181.2,1320.5 182.3,1320.5 183.4,1320.4 184.5,1320.4 185.6,1320.4 186.7,1320.4 187.8,1320.4 188.9,1320.3 190,1320.3 191.1,1320.3 192.2,1320.3 193.3,1320.2 194.4,1320.2 195.5,1320.2 196.6,1320.2 197.7,1320.1 198.8,1320.1 199.9,1320.1 201,1320 202.1,1320 203.2,1320 204.3,1319.9 205.4,1319.9 206.5,1319.8 207.6,1319.8 208.7,1319.7 209.8,1319.6 210.9,1319.6 212,1319.5 213.1,1319.4 214.2,1319.3 215.3,1319.2 216.4,1319.1 217.5,1319 218.6,1318.9 219.7,1318.7 220.8,1318.6 221.9,1318.4 223,1318.2 224.1,1318.1 225.2,1317.9 226.3,1317.4 227.4,1316.8 228.5,1316 229.6,1315.1 230.7,1314.2 231.8,1313.2 232.9,1312.1 234,1310.8 235.1,1309.4 236.2,1308 237.3,1306.6 238.4,1305.2 239.5,1303.7 240.6,1302.2 241.7,1300.6 242.8,1299.2 243.9,1297.8 245,1296.6 246.1,1295.5 247.2,1294.3 248.3,1293.3 249.4,1292.4 250.5,1291.6 251.6,1291.1 252.7,1290.7 253.8,1290.3 254.9,1289.9 256,1289.6 257.1,1289.3 258.2,1289 259.3,1288.8 260.4,1288.5 261.5,1288.3 262.6,1288.1 263.7,1287.8 264.8,1287.6 265.9,1287.4 267,1287.1 268.1,1286.9 269.2,1286.7 270.3,1286.5 271.4,1286.3 272.5,1286.1 273.6,1285.9 274.7,1285.7 275.8,1285.5 276.9,1285.3 278,1285.1 279.1,1284.9 280.2,1284.7 281.3,1284.5 282.4,1284.3 283.5,1284.1 284.6,1283.9 285.7,1283.7 286.8,1283.5 287.9,1283.3 289,1283.1 290.1,1282.8 291.2,1282.6 292.3,1282.3 293.4,1282.1 294.5,1281.8 295.6,1281.5 296.7,1281.3 297.8,1281 298.9,1280.8 300,1280.5 301.1,1280.3 302.2,1280 303.3,1279.8 304.4,1279.6 305.5,1279.4 306.6,1279.2 307.7,1279 308.8,1278.8 309.9,1278.6 311,1278.4 312.1,1278.2 313.2,1278.1 314.3,1277.9 315.4,1277.7 316.5,1277.6 317.6,1277.4 318.7,1277.3 319.8,1277.2 320.9,1277.1 322,1277 323.1,1276.9 324.2,1276.9 325.3,1276.8 326.4,1276.8 327.5,1276.8 328.6,1276.8 329.7,1276.7 330.8,1276.7 331.9,1276.7 333,1276.6 334.1,1276.6 335.2,1276.5 336.3,1276.6 337.4,1276.5 338.5,1276.6 339.6,1276.5 340.7,1276.5 341.8,1276.3 342.9,1276.4 344,1276.4 345.1,1276.2 346.2,1276.2 347.3,1276.3 348.4,1276.4 349.5,1276.6 350.6,1276.9 351.7,1276.9 352.8,1277.2 353.9,1277.1 355,1277.1 356.1,1277.5 357.2,1278.2 358.3,1278.5 359.4,1278.5 360.5,1278.7 361.6,1278.3 362.7,1278.5 363.8,1278.8 364.9,1279.8 366,1280.5 367.1,1281.3 368.2,1282.4 369.3,1282.5 370.4,1282 371.5,1282.2 372.6,1283.1 373.7,1282.7 374.8,1283.4 375.9,1284.1 377,1285.4 378.1,1285.4 379.2,1285.5 380.3,1286 381.4,1286.3 382.5,1285.8 383.6,1286.6 384.7,1286.8 385.8,1286.6 386.9,1286.5 388,1286.2 389.1,1285.6 390.2,1285.5 391.3,1285 392.4,1284.4 393.5,1284 394.6,1283.5 395.7,1282.7 396.8,1282.2 397.9,1281.2 399,1281 400.1,1279.6 401.2,1278.6 402.3,1278.3 403.4,1278.9 404.5,1278.6 405.6,1279.1 406.7,1279.8 407.8,1280.1 408.9,1279.8 410,1280.2 411.1,1280.7 412.2,1281.5 413.3,1282.1 414.4,1283.6 415.5,1284.4 416.6,1285.3 417.7,1285.8 418.8,1286.3 419.9,1286.1 421,1286.5 422.1,1286 423.2,1285.7 424.3,1285.9 425.4,1286 426.5,1285.9 427.6,1286.1 428.7,1286.1 429.8,1286.1 430.9,1286.7 432,1287 433.1,1287.5 434.2,1287.9 435.3,1288.1 436.4,1288.2 437.5,1287.3 438.6,1287.2 439.7,1287.8 440.8,1287.2 441.9,1287.4 443,1287.9 444.1,1288.6 445.2,1287.9 446.3,1288.5 447.4,1287.6 448.5,1287.9 449.6,1288 450.7,1287.9 451.8,1288.5 453,1289.1 454.1,1289.3 455.2,1287.9 456.3,1289.1 457.4,1288.4 458.5,1288.6 459.6,1288.3 460.7,1289.2 461.8,1289.4 462.9,1289.7 464,1290.5 465.1,1291.2 466.2,1292 467.3,1291.6 468.4,1292.3 469.5,1293.2 470.6,1293.9 471.7,1294.3 472.8,1294.6 473.9,1295.2 475,1295 476.1,1294.4 477.2,1294 478.3,1295.3 479.4,1295.4 480.5,1295.2 481.6,1296.3 482.7,1297.6 483.8,1297.3 484.9,1297.2 486,1298.2 487.1,1298.1 488.2,1297.5 489.3,1297.1 490.4,1297.3 491.5,1296.5 492.6,1296.6 493.7,1297.2 494.8,1296.3 495.9,1296.1 497,1296.8 498.1,1297.2 499.2,1296.9 500.3,1298.1 501.4,1299 502.5,1298.6 503.6,1298.3 504.7,1299.4 505.8,1299.6 506.9,1299.5 508,1299.7 509.1,1300.1 510.2,1299.1 511.3,1299 512.4,1299.3 513.5,1299 514.6,1299.2 515.7,1299.2 516.8,1299.5 517.9,1299.2 519,1299.1 520.1,1299.5 521.2,1300.1 522.3,1300.8 523.4,1300.5 524.5,1301.7 525.6,1302.3 526.7,1302.6 527.8,1302 528.9,1302.7 530,1302.6 531.1,1301.7 532.2,1301.8 533.3,1302 534.4,1302.1 535.5,1302.1 536.6,1302.1 537.7,1302.6 538.8,1303 539.9,1304.1 541,1304.4 542.1,1304.6 543.2,1304.3 544.3,1304.7 545.4,1303.6 546.5,1303.4 547.6,1304.6 548.7,1304.5 549.8,1305.2 550.9,1305.7 552,1306 553.1,1306.2 554.2,1306.8 555.3,1306 556.4,1306.2 557.5,1307.3 558.6,1307 559.7,1307.6 560.8,1308.8 561.9,1309 563,1308.8 564.1,1308.6 565.2,1307.8 566.3,1307.1 567.4,1307.8 568.5,1307.1 569.6,1307.8 570.7,1308.5 571.8,1308.3 572.9,1307.8 574,1309.3 575.1,1308.6 576.2,1308.9 577.3,1309.7 578.4,1309.4 579.5,1309 580.6,1309.6 581.7,1309.1 582.8,1309 583.9,1309.3 585,1308.9 586.1,1308.3 587.2,1308.7 588.3,1308.4 589.4,1308.4 590.5,1308.2 591.6,1308.3 592.7,1307.9 593.8,1308.5 594.9,1308.5 596,1309.7 597.1,1310.5 598.2,1311 599.3,1310.4 600.4,1310.9 601.5,1310.5" fill="none" stroke="#ff1493" stroke-width="8.8" stroke-linejoin="round" stroke-linecap="round" /><polyline points="140.5,1320.8 141.6,1320.8 142.7,1320.8 143.8,1320.8 144.9,1320.8 146,1320.8 147.1,1320.8 148.2,1320.8 149.3,1320.8 150.4,1320.8 151.5,1320.8 152.6,1320.8 153.7,1320.8 154.8,1320.8 155.9,1320.8 157,1320.8 158.1,1320.8 159.2,1320.8 160.3,1320.8 161.4,1320.7 162.5,1320.7 163.6,1320.7 164.7,1320.7 165.8,1320.7 166.9,1320.7 168,1320.7 169.1,1320.7 170.2,1320.7 171.3,1320.6 172.4,1320.6 173.5,1320.6 174.6,1320.6 175.7,1320.6 176.8,1320.6 177.9,1320.5 179,1320.5 180.1,1320.5 181.2,1320.5 182.3,1320.5 183.4,1320.4 184.5,1320.4 185.6,1320.4 186.7,1320.4 187.8,1320.4 188.9,1320.3 190,1320.3 191.1,1320.3 192.2,1320.3 193.3,1320.2 194.4,1320.2 195.5,1320.2 196.6,1320.2 197.7,1320.1 198.8,1320.1 199.9,1320.1 201,1320 202.1,1320 203.2,1319.9 204.3,1319.8 205.4,1319.8 206.5,1319.7 207.6,1319.6 208.7,1319.5 209.8,1319.3 210.9,1319.2 212,1319.1 213.1,1318.9 214.2,1318.8 215.3,1318.6 216.4,1318.4 217.5,1318.1 218.6,1317.8 219.7,1317.4 220.8,1317 221.9,1316.5 223,1316 224.1,1315.4 225.2,1314.8 226.3,1314 227.4,1313 228.5,1311.9 229.6,1310.7 230.7,1309.4 231.8,1308 232.9,1306.5 234,1304.9 235.1,1303.1 236.2,1301.3 237.3,1299.5 238.4,1297.8 239.5,1296.1 240.6,1294.2 241.7,1292.4 242.8,1290.7 243.9,1289.2 245,1287.9 246.1,1286.6 247.2,1285.3 248.3,1284.2 249.4,1283.5 250.5,1283.4 251.6,1283.6 252.7,1284.1 253.8,1284.8 254.9,1285.5 256,1286.2 257.1,1286.9 258.2,1287.7 259.3,1288.6 260.4,1289.5 261.5,1290.5 262.6,1291.4 263.7,1292.2 264.8,1293 265.9,1293.8 267,1294.5 268.1,1295.2 269.2,1295.9 270.3,1296.6 271.4,1297.2 272.5,1297.7 273.6,1298.2 274.7,1298.7 275.8,1299.1 276.9,1299.5 278,1299.9 279.1,1300.3 280.2,1300.7 281.3,1301.1 282.4,1301.4 283.5,1301.8 284.6,1302.1 285.7,1302.5 286.8,1302.8 287.9,1303.1 289,1303.4 290.1,1303.7 291.2,1304 292.3,1304.3 293.4,1304.6 294.5,1304.9 295.6,1305.2 296.7,1305.5 297.8,1305.8 298.9,1306.1 300,1306.4 301.1,1306.7 302.2,1307 303.3,1307.2 304.4,1307.5 305.5,1307.8 306.6,1308.1 307.7,1308.3 308.8,1308.6 309.9,1308.8 311,1309.1 312.1,1309.3 313.2,1309.6 314.3,1309.8 315.4,1310.1 316.5,1310.3 317.6,1310.6 318.7,1310.8 319.8,1311.1 320.9,1311.3 322,1311.6 323.1,1311.8 324.2,1312.1 325.3,1312.4 326.4,1312.6 327.5,1312.9 328.6,1313.2 329.7,1313.4 330.8,1313.7 331.9,1314 333,1314.3 334.1,1314.6 335.2,1314.9 336.3,1315.3 337.4,1315.6 338.5,1315.9 339.6,1316.3 340.7,1316.6 341.8,1317 342.9,1317.4 344,1317.7 345.1,1318.1 346.2,1318.4 347.3,1318.8 348.4,1319.1 349.5,1319.5 350.6,1319.8 351.7,1320.2 352.8,1320.5 353.9,1320.8 355,1321.1 356.1,1321.4 357.2,1321.7 358.3,1322 359.4,1322.3 360.5,1322.5 361.6,1322.7 362.7,1323 363.8,1323.2 364.9,1323.3 366,1323.5 367.1,1323.6 368.2,1323.8 369.3,1323.9 370.4,1324 371.5,1324.1 372.6,1324.2 373.7,1324.3 374.8,1324.4 375.9,1324.5 377,1324.6 378.1,1324.7 379.2,1324.8 380.3,1324.9 381.4,1325 382.5,1325.1 383.6,1325.2 384.7,1325.3 385.8,1325.4 386.9,1325.4 388,1325.5 389.1,1325.6 390.2,1325.7 391.3,1325.8 392.4,1325.8 393.5,1325.9 394.6,1326 395.7,1326.1 396.8,1326.2 397.9,1326.3 399,1326.3 400.1,1326.3 401.2,1326.4 402.3,1326.4 403.4,1326.2 404.5,1326.4 405.6,1326.4 406.7,1326.5 407.8,1326.4 408.9,1326.7 410,1326.6 411.1,1326.6 412.2,1326.4 413.3,1326.5 414.4,1326.4 415.5,1326.4 416.6,1326.5 417.7,1326.6 418.8,1326.8 419.9,1326.8 421,1326.7 422.1,1326.6 423.2,1326.7 424.3,1326.7 425.4,1326.9 426.5,1326.8 427.6,1326.9 428.7,1327 429.8,1326.8 430.9,1326.7 432,1326.9 433.1,1326.8 434.2,1326.8 435.3,1326.8 436.4,1327 437.5,1327 438.6,1327 439.7,1327 440.8,1327.1 441.9,1326.9 443,1326.8 444.1,1326.6 445.2,1326.7 446.3,1326.5 447.4,1326.3 448.5,1326.2 449.6,1326.4 450.7,1326.4 451.8,1326.5 453,1326.8 454.1,1326.8 455.2,1326.7 456.3,1326.7 457.4,1326.8 458.5,1326.7 459.6,1327 460.7,1327.1 461.8,1326.9 462.9,1327 464,1327.2 465.1,1327.1 466.2,1327.3 467.3,1327.3 468.4,1327.3 469.5,1327 470.6,1326.9 471.7,1326.7 472.8,1326.9 473.9,1326.8 475,1326.9 476.1,1327.2 477.2,1327 478.3,1326.8 479.4,1326.7 480.5,1326.6 481.6,1326.6 482.7,1326.8 483.8,1326.8 484.9,1326.9 486,1327.3 487.1,1327.1 488.2,1327 489.3,1327.1 490.4,1327.3 491.5,1327 492.6,1326.9 493.7,1326.9 494.8,1327 495.9,1326.9 497,1326.7 498.1,1326.9 499.2,1327.1 500.3,1327.1 501.4,1327 502.5,1327.2 503.6,1327.1 504.7,1326.8 505.8,1326.9 506.9,1326.8 508,1326.8 509.1,1326.7 510.2,1326.9 511.3,1326.8 512.4,1327.2 513.5,1327 514.6,1327 515.7,1327 516.8,1326.9 517.9,1326.6 519,1326.8 520.1,1327 521.2,1327.3 522.3,1327.4 523.4,1327.7 524.5,1327.9 525.6,1327.8 526.7,1327.4 527.8,1327.4 528.9,1327.2 530,1326.7 531.1,1326.7 532.2,1327 533.3,1326.9 534.4,1327 535.5,1327.3 536.6,1327.3 537.7,1327.3 538.8,1327.4 539.9,1327.2 541,1327.1 542.1,1327.2 543.2,1327.1 544.3,1327 545.4,1327.1 546.5,1326.9 547.6,1326.9 548.7,1327.2 549.8,1327.4 550.9,1327.2 552,1327.2 553.1,1327.3 554.2,1327.2 555.3,1327.2 556.4,1327.5 557.5,1327.6 558.6,1327.4 559.7,1327.3 560.8,1326.9 561.9,1326.7 563,1326.7 564.1,1326.7 565.2,1326.8 566.3,1327.2 567.4,1327.3 568.5,1327.4 569.6,1327.3 570.7,1327.2 571.8,1327.1 572.9,1327.1 574,1327.1 575.1,1327.2 576.2,1327.4 577.3,1327.7 578.4,1327.5 579.5,1327.6 580.6,1327.4 581.7,1327.2 582.8,1327.1 583.9,1326.9 585,1327 586.1,1327 587.2,1327.1 588.3,1327 589.4,1327.3 590.5,1327.2 591.6,1327.2 592.7,1327 593.8,1327 594.9,1327 596,1326.8 597.1,1326.8 598.2,1327 599.3,1326.7 600.4,1326.6 601.5,1326.6" fill="none" stroke="#ff8a10" stroke-width="8.8" stroke-linejoin="round" stroke-linecap="round" /><polyline points="140.5,1321.6 141.6,1321.6 142.7,1321.6 143.8,1321.6 144.9,1321.6 146,1321.6 147.1,1321.6 148.2,1321.6 149.3,1321.5 150.4,1321.5 151.5,1321.5 152.6,1321.5 153.7,1321.5 154.8,1321.5 155.9,1321.5 157,1321.5 158.1,1321.5 159.2,1321.5 160.3,1321.5 161.4,1321.5 162.5,1321.5 163.6,1321.5 164.7,1321.5 165.8,1321.4 166.9,1321.4 168,1321.4 169.1,1321.4 170.2,1321.4 171.3,1321.4 172.4,1321.4 173.5,1321.4 174.6,1321.3 175.7,1321.3 176.8,1321.3 177.9,1321.3 179,1321.3 180.1,1321.3 181.2,1321.2 182.3,1321.2 183.4,1321.2 184.5,1321.2 185.6,1321.1 186.7,1321.1 187.8,1321.1 188.9,1321.1 190,1321.1 191.1,1321 192.2,1321 193.3,1321 194.4,1320.9 195.5,1320.9 196.6,1320.9 197.7,1320.9 198.8,1320.8 199.9,1320.8 201,1320.7 202.1,1320.6 203.2,1320.5 204.3,1320.3 205.4,1320.1 206.5,1319.9 207.6,1319.7 208.7,1319.4 209.8,1319.2 210.9,1318.9 212,1318.5 213.1,1318 214.2,1317.2 215.3,1316.3 216.4,1315.1 217.5,1313.8 218.6,1312.4 219.7,1310.9 220.8,1309.1 221.9,1306.8 223,1304 224.1,1300.9 225.2,1297.3 226.3,1293.5 227.4,1289.5 228.5,1285.2 229.6,1280 230.7,1274.1 231.8,1267.6 232.9,1260.6 234,1253.4 235.1,1246 236.2,1238.7 237.3,1231.2 238.4,1223.1 239.5,1214.5 240.6,1205.9 241.7,1197.4 242.8,1189.4 243.9,1182.1 245,1175.8 246.1,1169.5 247.2,1163.9 248.3,1160 249.4,1157.7 250.5,1156.2 251.6,1155.9 252.7,1156.9 253.8,1158.4 254.9,1160.1 256,1162.4 257.1,1165.2 258.2,1168.1 259.3,1170.7 260.4,1172.9 261.5,1175.1 262.6,1177.2 263.7,1179.1 264.8,1180.8 265.9,1182.3 267,1183.6 268.1,1184.9 269.2,1186 270.3,1187 271.4,1187.8 272.5,1188.2 273.6,1188.4 274.7,1188.6 275.8,1188.7 276.9,1188.8 278,1188.9 279.1,1189 280.2,1189.1 281.3,1189.1 282.4,1189.2 283.5,1189.3 284.6,1189.4 285.7,1189.5 286.8,1189.6 287.9,1189.7 289,1189.9 290.1,1190.2 291.2,1190.4 292.3,1190.7 293.4,1191 294.5,1191.3 295.6,1191.7 296.7,1192.1 297.8,1192.5 298.9,1193 300,1193.4 301.1,1193.9 302.2,1194.4 303.3,1195 304.4,1195.5 305.5,1196 306.6,1196.6 307.7,1197.1 308.8,1197.7 309.9,1198.3 311,1199 312.1,1199.7 313.2,1200.3 314.3,1200.9 315.4,1201.5 316.5,1202.1 317.6,1202.6 318.7,1203.3 319.8,1204 320.9,1204.6 322,1205.3 323.1,1206.3 324.2,1206.9 325.3,1207.6 326.4,1208.1 327.5,1208.7 328.6,1209 329.7,1209.5 330.8,1209.9 331.9,1210.6 333,1211.1 334.1,1211.6 335.2,1212.3 336.3,1213.1 337.4,1213.6 338.5,1214.2 339.6,1214.9 340.7,1215.5 341.8,1216 342.9,1216.4 344,1217 345.1,1217.6 346.2,1218.2 347.3,1218.8 348.4,1219.6 349.5,1220.2 350.6,1220.6 351.7,1221 352.8,1221.7 353.9,1222.3 355,1223.1 356.1,1223.9 357.2,1224.6 358.3,1224.9 359.4,1225.4 360.5,1225.9 361.6,1226.6 362.7,1227.3 363.8,1227.9 364.9,1228.7 366,1229.4 367.1,1229.7 368.2,1230.2 369.3,1230.7 370.4,1231.2 371.5,1231.7 372.6,1232.3 373.7,1232.8 374.8,1233.7 375.9,1234.2 377,1234.8 378.1,1235.7 379.2,1236.3 380.3,1236.8 381.4,1237.7 382.5,1238.3 383.6,1238.8 384.7,1239.5 385.8,1240 386.9,1240.5 388,1241.1 389.1,1241.9 390.2,1242.6 391.3,1243.4 392.4,1244 393.5,1244.6 394.6,1245 395.7,1245.4 396.8,1245.9 397.9,1246.1 399,1246.9 400.1,1247.4 401.2,1248.1 402.3,1248.5 403.4,1249.2 404.5,1249.6 405.6,1250.3 406.7,1250.9 407.8,1251.6 408.9,1252.4 410,1253 411.1,1253.6 412.2,1254.2 413.3,1254.6 414.4,1255.3 415.5,1255.8 416.6,1256.3 417.7,1256.6 418.8,1257.2 419.9,1257.7 421,1258.2 422.1,1258.8 423.2,1259.8 424.3,1260.3 425.4,1260.9 426.5,1261.3 427.6,1261.7 428.7,1262 429.8,1262.4 430.9,1262.8 432,1263.3 433.1,1263.9 434.2,1264.3 435.3,1264.8 436.4,1265.2 437.5,1265.7 438.6,1266.2 439.7,1266.7 440.8,1267.4 441.9,1268.1 443,1268.9 444.1,1269.5 445.2,1270 446.3,1270.7 447.4,1271 448.5,1271.1 449.6,1271.5 450.7,1272.1 451.8,1272.4 453,1273 454.1,1273.6 455.2,1273.9 456.3,1274.5 457.4,1275.2 458.5,1275.6 459.6,1276.5 460.7,1277 461.8,1277.3 462.9,1277.7 464,1278.1 465.1,1278.3 466.2,1278.9 467.3,1279.4 468.4,1280 469.5,1280.6 470.6,1281 471.7,1281.5 472.8,1282 473.9,1282.4 475,1282.7 476.1,1283.3 477.2,1284 478.3,1284.4 479.4,1284.9 480.5,1285.3 481.6,1285.5 482.7,1286 483.8,1286.4 484.9,1286.7 486,1287.3 487.1,1287.9 488.2,1288.4 489.3,1288.8 490.4,1289.3 491.5,1290.2 492.6,1290.8 493.7,1291 494.8,1291.7 495.9,1292.3 497,1292.6 498.1,1293.1 499.2,1293.7 500.3,1294.3 501.4,1294.8 502.5,1295 503.6,1295.5 504.7,1296.1 505.8,1296.5 506.9,1296.9 508,1297.6 509.1,1298.1 510.2,1298.6 511.3,1299 512.4,1299.4 513.5,1299.8 514.6,1300.3 515.7,1300.8 516.8,1301.4 517.9,1301.9 519,1302.5 520.1,1303.1 521.2,1303.4 522.3,1303.7 523.4,1304.1 524.5,1304.4 525.6,1304.8 526.7,1305.2 527.8,1305.7 528.9,1306 530,1306.2 531.1,1306.4 532.2,1306.6 533.3,1307.1 534.4,1307.7 535.5,1308 536.6,1308.3 537.7,1308.7 538.8,1308.8 539.9,1309 541,1309.5 542.1,1310 543.2,1310.4 544.3,1310.5 545.4,1310.9 546.5,1311 547.6,1311.3 548.7,1311.6 549.8,1312.1 550.9,1312.4 552,1312.7 553.1,1312.9 554.2,1313.3 555.3,1313.8 556.4,1314.1 557.5,1314.5 558.6,1314.9 559.7,1315.2 560.8,1315.1 561.9,1315.4 563,1316 564.1,1316.3 565.2,1316.5 566.3,1317.2 567.4,1317.8 568.5,1318.2 569.6,1318.8 570.7,1319.6 571.8,1320.2 572.9,1320.5 574,1320.8 575.1,1321.1 576.2,1321.2 577.3,1321.5 578.4,1321.6 579.5,1322.1 580.6,1322.3 581.7,1322.4 582.8,1322.6 583.9,1322.5 585,1322.4 586.1,1322.4 587.2,1322.7 588.3,1322.7 589.4,1323.1 590.5,1323.3 591.6,1323.5 592.7,1323.4 593.8,1323.7 594.9,1323.6 596,1323.7 597.1,1323.7 598.2,1323.7 599.3,1323.5 600.4,1323.6 601.5,1323.5" fill="none" stroke="#7f00ff" stroke-width="8.8" stroke-linejoin="round" stroke-linecap="round" /><polyline points="140.5,1322.3 141.6,1322.3 142.7,1322.3 143.8,1322.3 144.9,1322.3 146,1322.3 147.1,1322.3 148.2,1322.3 149.3,1322.3 150.4,1322.2 151.5,1322.2 152.6,1322.2 153.7,1322.2 154.8,1322.2 155.9,1322.2 157,1322.2 158.1,1322.2 159.2,1322.2 160.3,1322.1 161.4,1322.1 162.5,1322.1 163.6,1322.1 164.7,1322.1 165.8,1322.1 166.9,1322 168,1322 169.1,1322 170.2,1322 171.3,1321.9 172.4,1321.9 173.5,1321.9 174.6,1321.9 175.7,1321.8 176.8,1321.8 177.9,1321.8 179,1321.7 180.1,1321.7 181.2,1321.7 182.3,1321.7 183.4,1321.6 184.5,1321.6 185.6,1321.5 186.7,1321.5 187.8,1321.4 188.9,1321.3 190,1321.2 191.1,1321.1 192.2,1321 193.3,1320.8 194.4,1320.7 195.5,1320.5 196.6,1320.4 197.7,1320.2 198.8,1320 199.9,1319.9 201,1319.7 202.1,1319.5 203.2,1319.2 204.3,1318.9 205.4,1318.5 206.5,1318 207.6,1317.3 208.7,1316.4 209.8,1315.4 210.9,1314.3 212,1313.1 213.1,1311.4 214.2,1309.4 215.3,1307 216.4,1304.2 217.5,1301.2 218.6,1298 219.7,1294.5 220.8,1290.6 221.9,1286 223,1280.8 224.1,1275 225.2,1268.8 226.3,1262.2 227.4,1255.2 228.5,1247.9 229.6,1239.8 230.7,1230.9 231.8,1221.3 232.9,1211.2 234,1200.7 235.1,1190 236.2,1179.3 237.3,1168.1 238.4,1156 239.5,1143.3 240.6,1130.5 241.7,1117.9 242.8,1105.9 243.9,1094.9 245,1085.1 246.1,1075.4 247.2,1066.2 248.3,1058.4 249.4,1053.2 250.5,1050 251.6,1047.5 252.7,1046.3 253.8,1046.8 254.9,1048.1 256,1049.7 257.1,1051.4 258.2,1053.6 259.3,1056 260.4,1059 261.5,1062.6 262.6,1066.6 263.7,1070.6 264.8,1074.2 265.9,1077 267,1079.2 268.1,1081.3 269.2,1083.2 270.3,1084.9 271.4,1086.1 272.5,1086.6 273.6,1086.7 274.7,1086.8 275.8,1086.9 276.9,1087 278,1087 279.1,1087 280.2,1086.9 281.3,1086.7 282.4,1086.4 283.5,1086.1 284.6,1085.7 285.7,1085.4 286.8,1085.2 287.9,1085.2 289,1085.4 290.1,1085.8 291.2,1086.3 292.3,1086.9 293.4,1087.6 294.5,1088.4 295.6,1089.1 296.7,1089.8 297.8,1090.5 298.9,1091.1 300,1091.7 301.1,1092.4 302.2,1093 303.3,1093.7 304.4,1094.3 305.5,1095 306.6,1095.7 307.7,1096.4 308.8,1097.1 309.9,1097.9 311,1098.6 312.1,1099.3 313.2,1099.9 314.3,1100.7 315.4,1101.4 316.5,1102.1 317.6,1102.8 318.7,1103.6 319.8,1104.4 320.9,1105.3 322,1106 323.1,1106.9 324.2,1107.6 325.3,1108.3 326.4,1109.1 327.5,1110 328.6,1110.6 329.7,1111.5 330.8,1112.3 331.9,1113.1 333,1113.7 334.1,1114.5 335.2,1115.3 336.3,1116 337.4,1116.7 338.5,1117.6 339.6,1118.4 340.7,1119.3 341.8,1120.1 342.9,1121 344,1121.7 345.1,1122.5 346.2,1123.3 347.3,1124.3 348.4,1125.1 349.5,1126.1 350.6,1127 351.7,1127.9 352.8,1128.5 353.9,1129.3 355,1130 356.1,1130.9 357.2,1131.8 358.3,1132.7 359.4,1133.6 360.5,1134.4 361.6,1135.3 362.7,1136 363.8,1136.7 364.9,1137.4 366,1138.2 367.1,1138.8 368.2,1140 369.3,1141 370.4,1141.9 371.5,1142.9 372.6,1143.9 373.7,1144.5 374.8,1145.5 375.9,1146.5 377,1147.3 378.1,1148.4 379.2,1149.4 380.3,1150.4 381.4,1151.3 382.5,1152.4 383.6,1153.2 384.7,1154 385.8,1154.9 386.9,1155.8 388,1156.5 389.1,1157.4 390.2,1158.4 391.3,1159.2 392.4,1160.2 393.5,1161.2 394.6,1162.3 395.7,1163.3 396.8,1164.1 397.9,1164.9 399,1165.7 400.1,1166.4 401.2,1167.4 402.3,1168.4 403.4,1169.5 404.5,1170.5 405.6,1171.5 406.7,1172.3 407.8,1173.4 408.9,1174.4 410,1175.3 411.1,1176.6 412.2,1177.5 413.3,1178.4 414.4,1179.3 415.5,1180.1 416.6,1181 417.7,1182.2 418.8,1183.1 419.9,1184.3 421,1185.6 422.1,1186.4 423.2,1187.3 424.3,1188.4 425.4,1189.1 426.5,1190.1 427.6,1191 428.7,1192.1 429.8,1193.2 430.9,1194.4 432,1195.3 433.1,1196.4 434.2,1197.3 435.3,1198.3 436.4,1199.5 437.5,1200.5 438.6,1201.6 439.7,1202.6 440.8,1203.5 441.9,1204.3 443,1205.3 444.1,1206.3 445.2,1207.5 446.3,1208.5 447.4,1209.7 448.5,1210.6 449.6,1211.8 450.7,1212.7 451.8,1213.8 453,1214.9 454.1,1216 455.2,1216.9 456.3,1218 457.4,1219 458.5,1220 459.6,1221.1 460.7,1222.3 461.8,1223.3 462.9,1224.4 464,1225.5 465.1,1226.7 466.2,1227.8 467.3,1229 468.4,1230.3 469.5,1231.3 470.6,1232.3 471.7,1233.5 472.8,1234.6 473.9,1235.7 475,1237 476.1,1238.2 477.2,1239.5 478.3,1240.6 479.4,1241.7 480.5,1242.8 481.6,1244.1 482.7,1245.1 483.8,1246.5 484.9,1247.5 486,1248.5 487.1,1249.4 488.2,1250.5 489.3,1251.1 490.4,1252.1 491.5,1252.9 492.6,1254 493.7,1255 494.8,1256.1 495.9,1257.2 497,1258.1 498.1,1259.2 499.2,1260.2 500.3,1261.2 501.4,1262.2 502.5,1263.3 503.6,1264 504.7,1265 505.8,1266 506.9,1266.8 508,1267.5 509.1,1268.3 510.2,1269 511.3,1269.6 512.4,1270.5 513.5,1271.7 514.6,1272.7 515.7,1273.9 516.8,1274.9 517.9,1275.9 519,1276.6 520.1,1277.5 521.2,1278.4 522.3,1279.1 523.4,1280 524.5,1281 525.6,1281.8 526.7,1282.6 527.8,1283.5 528.9,1284.2 530,1284.9 531.1,1285.7 532.2,1286.4 533.3,1287.2 534.4,1288 535.5,1288.9 536.6,1289.6 537.7,1290.4 538.8,1291.3 539.9,1292.2 541,1292.9 542.1,1293.6 543.2,1294.4 544.3,1295.2 545.4,1295.9 546.5,1296.6 547.6,1297.6 548.7,1298.3 549.8,1299.1 550.9,1299.9 552,1300.8 553.1,1301.3 554.2,1301.8 555.3,1302.4 556.4,1303 557.5,1303.4 558.6,1304 559.7,1304.6 560.8,1305.2 561.9,1305.6 563,1306.1 564.1,1306.7 565.2,1307.1 566.3,1307.5 567.4,1307.8 568.5,1308.4 569.6,1308.8 570.7,1309.3 571.8,1309.7 572.9,1310.3 574,1310.4 575.1,1310.9 576.2,1311.2 577.3,1311.9 578.4,1312 579.5,1312.6 580.6,1312.9 581.7,1313.4 582.8,1313.5 583.9,1314 585,1314.2 586.1,1314.5 587.2,1314.8 588.3,1315.3 589.4,1315.7 590.5,1316.5 591.6,1317.2 592.7,1317.6 593.8,1317.7 594.9,1318 596,1318.2 597.1,1318.5 598.2,1318.9 599.3,1319.3 600.4,1319.8 601.5,1320.1" fill="none" stroke="#007c06" stroke-width="8.8" stroke-linejoin="round" stroke-linecap="round" /><rect x="140.5" y="1031" width="227.3" height="341.3" fill="rgb(50,185,240)" fill-opacity="0.35"/></g><rect x="485.1" y="1030" width="122.6" height="342.8" fill="rgb(120,115,215)" fill-opacity="0.28"/><text x="283" y="1363.4" font-family="'Liberation Serif', 'Times New Roman', serif" font-size="44" font-weight="bold" fill="#1ea6de" text-anchor="start" >Fast</text><text x="495.5" y="1363.4" font-family="'Liberation Serif', 'Times New Roman', serif" font-size="44" font-weight="bold" fill="#7b7bd2" text-anchor="start" >Slow</text><rect x="140.5" y="1031" width="466" height="341.3" fill="none" stroke="#000" stroke-width="1.9"/><line x1="132.9" y1="1355.4" x2="140.5" y2="1355.4" stroke="#000" stroke-width="1.8" /><text x="127.2" y="1366.2" font-family="'Liberation Sans', Arial, sans-serif" font-size="30.6" font-weight="bold" fill="#000" text-anchor="end" >-5</text><line x1="136.7" y1="1337.4" x2="140.5" y2="1337.4" stroke="#000" stroke-width="1.8" /><line x1="132.9" y1="1319.4" x2="140.5" y2="1319.4" stroke="#000" stroke-width="1.8" /><text x="127.2" y="1330.2" font-family="'Liberation Sans', Arial, sans-serif" font-size="30.6" font-weight="bold" fill="#000" text-anchor="end" >0</text><line x1="136.7" y1="1301.4" x2="140.5" y2="1301.4" stroke="#000" stroke-width="1.8" /><line x1="132.9" y1="1283.4" x2="140.5" y2="1283.4" stroke="#000" stroke-width="1.8" /><text x="127.2" y="1294.2" font-family="'Liberation Sans', Arial, sans-serif" font-size="30.6" font-weight="bold" fill="#000" text-anchor="end" >5</text><line x1="136.7" y1="1265.4" x2="140.5" y2="1265.4" stroke="#000" stroke-width="1.8" /><line x1="132.9" y1="1247.3" x2="140.5" y2="1247.3" stroke="#000" stroke-width="1.8" /><text x="127.2" y="1258.1" font-family="'Liberation Sans', Arial, sans-serif" font-size="30.6" font-weight="bold" fill="#000" text-anchor="end" >10</text><line x1="136.7" y1="1229.3" x2="140.5" y2="1229.3" stroke="#000" stroke-width="1.8" /><line x1="132.9" y1="1211.3" x2="140.5" y2="1211.3" stroke="#000" stroke-width="1.8" /><text x="127.2" y="1222.1" font-family="'Liberation Sans', Arial, sans-serif" font-size="30.6" font-weight="bold" fill="#000" text-anchor="end" >15</text><line x1="136.7" y1="1193.3" x2="140.5" y2="1193.3" stroke="#000" stroke-width="1.8" /><line x1="132.9" y1="1175.3" x2="140.5" y2="1175.3" stroke="#000" stroke-width="1.8" /><text x="127.2" y="1186.1" font-family="'Liberation Sans', Arial, sans-serif" font-size="30.6" font-weight="bold" fill="#000" text-anchor="end" >20</text><line x1="136.7" y1="1157.3" x2="140.5" y2="1157.3" stroke="#000" stroke-width="1.8" /><line x1="132.9" y1="1139.2" x2="140.5" y2="1139.2" stroke="#000" stroke-width="1.8" /><text x="127.2" y="1150" font-family="'Liberation Sans', Arial, sans-serif" font-size="30.6" font-weight="bold" fill="#000" text-anchor="end" >25</text><line x1="136.7" y1="1121.2" x2="140.5" y2="1121.2" stroke="#000" stroke-width="1.8" /><line x1="132.9" y1="1103.2" x2="140.5" y2="1103.2" stroke="#000" stroke-width="1.8" /><text x="127.2" y="1114" font-family="'Liberation Sans', Arial, sans-serif" font-size="30.6" font-weight="bold" fill="#000" text-anchor="end" >30</text><line x1="136.7" y1="1085.2" x2="140.5" y2="1085.2" stroke="#000" stroke-width="1.8" /><line x1="132.9" y1="1067.2" x2="140.5" y2="1067.2" stroke="#000" stroke-width="1.8" /><text x="127.2" y="1078" font-family="'Liberation Sans', Arial, sans-serif" font-size="30.6" font-weight="bold" fill="#000" text-anchor="end" >35</text><line x1="136.7" y1="1049.2" x2="140.5" y2="1049.2" stroke="#000" stroke-width="1.8" /><line x1="132.9" y1="1031.2" x2="140.5" y2="1031.2" stroke="#000" stroke-width="1.8" /><text x="127.2" y="1042" font-family="'Liberation Sans', Arial, sans-serif" font-size="30.6" font-weight="bold" fill="#000" text-anchor="end" >40</text><line x1="251.8" y1="1372.3" x2="251.8" y2="1379.9" stroke="#000" stroke-width="1.8" /><text x="253.6" y="1409.8" font-family="'Liberation Sans', Arial, sans-serif" font-size="30.2" font-weight="bold" fill="#000" text-anchor="middle" >1E−6</text><line x1="367.8" y1="1372.3" x2="367.8" y2="1379.9" stroke="#000" stroke-width="1.8" /><text x="369.6" y="1409.8" font-family="'Liberation Sans', Arial, sans-serif" font-size="30.2" font-weight="bold" fill="#000" text-anchor="middle" >1E−5</text><line x1="485.2" y1="1372.3" x2="485.2" y2="1379.9" stroke="#000" stroke-width="1.8" /><text x="487" y="1409.8" font-family="'Liberation Sans', Arial, sans-serif" font-size="30.2" font-weight="bold" fill="#000" text-anchor="middle" >1E−4</text><line x1="601.5" y1="1372.3" x2="601.5" y2="1379.9" stroke="#000" stroke-width="1.8" /><text x="603.3" y="1409.8" font-family="'Liberation Sans', Arial, sans-serif" font-size="30.2" font-weight="bold" fill="#000" text-anchor="middle" >1E−3</text><line x1="170.3" y1="1372.3" x2="170.3" y2="1376.1" stroke="#000" stroke-width="1.8" /><line x1="190.8" y1="1372.3" x2="190.8" y2="1376.1" stroke="#000" stroke-width="1.8" /><line x1="205.4" y1="1372.3" x2="205.4" y2="1376.1" stroke="#000" stroke-width="1.8" /><line x1="216.7" y1="1372.3" x2="216.7" y2="1376.1" stroke="#000" stroke-width="1.8" /><line x1="225.9" y1="1372.3" x2="225.9" y2="1376.1" stroke="#000" stroke-width="1.8" /><line x1="233.7" y1="1372.3" x2="233.7" y2="1376.1" stroke="#000" stroke-width="1.8" /><line x1="240.5" y1="1372.3" x2="240.5" y2="1376.1" stroke="#000" stroke-width="1.8" /><line x1="246.5" y1="1372.3" x2="246.5" y2="1376.1" stroke="#000" stroke-width="1.8" /><line x1="286.9" y1="1372.3" x2="286.9" y2="1376.1" stroke="#000" stroke-width="1.8" /><line x1="307.4" y1="1372.3" x2="307.4" y2="1376.1" stroke="#000" stroke-width="1.8" /><line x1="322" y1="1372.3" x2="322" y2="1376.1" stroke="#000" stroke-width="1.8" /><line x1="333.3" y1="1372.3" x2="333.3" y2="1376.1" stroke="#000" stroke-width="1.8" /><line x1="342.5" y1="1372.3" x2="342.5" y2="1376.1" stroke="#000" stroke-width="1.8" /><line x1="350.3" y1="1372.3" x2="350.3" y2="1376.1" stroke="#000" stroke-width="1.8" /><line x1="357.1" y1="1372.3" x2="357.1" y2="1376.1" stroke="#000" stroke-width="1.8" /><line x1="363" y1="1372.3" x2="363" y2="1376.1" stroke="#000" stroke-width="1.8" /><line x1="403.5" y1="1372.3" x2="403.5" y2="1376.1" stroke="#000" stroke-width="1.8" /><line x1="424" y1="1372.3" x2="424" y2="1376.1" stroke="#000" stroke-width="1.8" /><line x1="438.6" y1="1372.3" x2="438.6" y2="1376.1" stroke="#000" stroke-width="1.8" /><line x1="449.8" y1="1372.3" x2="449.8" y2="1376.1" stroke="#000" stroke-width="1.8" /><line x1="459.1" y1="1372.3" x2="459.1" y2="1376.1" stroke="#000" stroke-width="1.8" /><line x1="466.9" y1="1372.3" x2="466.9" y2="1376.1" stroke="#000" stroke-width="1.8" /><line x1="473.6" y1="1372.3" x2="473.6" y2="1376.1" stroke="#000" stroke-width="1.8" /><line x1="479.6" y1="1372.3" x2="479.6" y2="1376.1" stroke="#000" stroke-width="1.8" /><line x1="520" y1="1372.3" x2="520" y2="1376.1" stroke="#000" stroke-width="1.8" /><line x1="540.6" y1="1372.3" x2="540.6" y2="1376.1" stroke="#000" stroke-width="1.8" /><line x1="555.1" y1="1372.3" x2="555.1" y2="1376.1" stroke="#000" stroke-width="1.8" /><line x1="566.4" y1="1372.3" x2="566.4" y2="1376.1" stroke="#000" stroke-width="1.8" /><line x1="575.6" y1="1372.3" x2="575.6" y2="1376.1" stroke="#000" stroke-width="1.8" /><line x1="583.5" y1="1372.3" x2="583.5" y2="1376.1" stroke="#000" stroke-width="1.8" /><line x1="590.2" y1="1372.3" x2="590.2" y2="1376.1" stroke="#000" stroke-width="1.8" /><line x1="596.2" y1="1372.3" x2="596.2" y2="1376.1" stroke="#000" stroke-width="1.8" /><line x1="605" y1="1372.3" x2="605" y2="1376.1" stroke="#000" stroke-width="1.8" /><text x="374" y="1446" font-family="'Liberation Sans', Arial, sans-serif" font-size="30.3" font-weight="bold" fill="#000" text-anchor="middle" >Time (s)</text><text transform="translate(74.8,1423) rotate(-90)" font-family="'Liberation Sans', Arial, sans-serif" font-size="31" font-weight="bold" word-spacing="3">Transient Photovoltage (mV)</text><circle cx="480.2" cy="1049.9" r="6.7" fill="url(#mM)"/><text x="518.9" y="1054.6" font-family="'Liberation Serif', 'Times New Roman', serif" font-size="17.3" font-weight="bold" fill="#ff33ee"><tspan>α-Fe</tspan><tspan font-size="11.8" dy="3.8">2</tspan><tspan dy="-3.8" font-size="1">&#8203;</tspan><tspan>O</tspan><tspan font-size="11.8" dy="3.8">3</tspan><tspan dy="-3.8" font-size="1">&#8203;</tspan></text><circle cx="480.2" cy="1080.9" r="6.7" fill="url(#mG)"/><text x="514.3" y="1084.8" font-family="'Liberation Serif', 'Times New Roman', serif" font-size="17.3" font-weight="bold" fill="#0a7d0a"><tspan>Zn:Fe=1:3</tspan></text><circle cx="480.2" cy="1109.5" r="6.7" fill="url(#mP)"/><text x="515.3" y="1113.3" font-family="'Liberation Serif', 'Times New Roman', serif" font-size="17.3" font-weight="bold" fill="#7a14ff"><tspan>Zn:Fe=1:4</tspan></text><circle cx="480.2" cy="1139.4" r="6.7" fill="url(#mO)"/><text x="518.4" y="1145.3" font-family="'Liberation Serif', 'Times New Roman', serif" font-size="17.3" font-weight="bold" fill="#ff8a10"><tspan>ZnFe</tspan><tspan font-size="11.8" dy="3.8">2</tspan><tspan dy="-3.8" font-size="1">&#8203;</tspan><tspan>O</tspan><tspan font-size="11.8" dy="3.8">4</tspan><tspan dy="-3.8" font-size="1">&#8203;</tspan></text><text x="3.8" y="1026.6" font-family="'Liberation Sans', Arial, sans-serif" font-size="64" font-weight="bold" fill="#000" text-anchor="start" >g</text></g>
<g id="ph"><rect x="829.2" y="987.4" width="441.3" height="455.2" fill="#fff" stroke="#a8a8a8" stroke-width="1.3"/><rect x="831.2" y="996.6" width="429.6" height="420.4" fill="#fdfcf8" /><rect x="831.2" y="996.6" width="429.6" height="420.4" fill="#fff" filter="url(#nzH)"/><rect x="1261.8" y="995.9" width="5.8" height="437" fill="url(#cbar)" /><rect x="1261.4" y="995.5" width="6.6" height="437.6" fill="none" stroke="#c8c8c8" stroke-width="0.8"/><text x="1252" y="1033.5" font-family="'Liberation Serif', 'Times New Roman', serif" font-size="43.3" font-weight="bold" fill="#000" text-anchor="end" >350 mV</text><text x="1242" y="1433.4" font-family="'Liberation Serif', 'Times New Roman', serif" font-size="43.3" font-weight="bold" fill="#000" text-anchor="end" >200 mV</text><text x="851.5" y="1365" font-family="'Liberation Serif', 'Times New Roman', serif" font-size="43.6" font-weight="bold" fill="#000" text-anchor="start" >200 nm</text><text x="843.8" y="1433.4" font-family="'Liberation Serif', 'Times New Roman', serif" font-size="44" font-weight="bold" fill="#000" text-anchor="start" >Potential</text><rect x="858.5" y="1381.5" width="85.2" height="9" fill="#000" /><text x="684" y="1034.7" font-family="'Liberation Sans', Arial, sans-serif" font-size="63.5" font-weight="bold" fill="#000" text-anchor="start" >h</text></g>
<g id="pi"><g filter="url(#ragI)"><polygon points="1477.5,1111.6 1494.6,1102.4 1511.1,1097.1 1524.2,1091.2 1537.4,1086.9 1550.6,1081.3 1570.3,1073.8 1590,1066.2 1609.8,1056.3 1622.9,1049.7 1642.7,1040.9 1655.8,1032.6 1669,1025.4 1678.9,1022.1 1692,1026.1 1705.2,1027.7 1718.3,1018.8 1734.8,1005.7 1747.9,995.8 1761.1,987.2 1777.6,984.6 1790.7,983.3 1798,980.7 1798.9,986.6 1813.7,993.2 1826.9,1019.5 1833.5,1037.6 1848.3,1060.6 1859.8,1078.7 1863.1,1098.4 1867,1118.2 1879.5,1134.6 1896,1152.7 1912.4,1169.2 1928.9,1187.3 1937.1,1207 1948.6,1226.7 1958.5,1243.2 1961.8,1259.6 1964.1,1281 1951.9,1289.3 1932.2,1300.8 1899.3,1317.2 1866.4,1333.7 1833.5,1350.1 1800.6,1366.6 1767.7,1382 1734.8,1397.2 1701.9,1411.6 1669,1425.8 1646,1436.6 1623.6,1447.8 1614.7,1438.9 1604.8,1419.2 1593.3,1394.5 1583.5,1368.2 1571.9,1338.6 1562.1,1313.9 1550.6,1284.3 1537.4,1253.1 1524.2,1221.8 1511.1,1190.6 1497.9,1159.3 1488,1134.6" fill="#2402d2"/><polygon points="1477.5,1111.6 1494.6,1102.4 1511.1,1097.1 1524.2,1091.2 1537.4,1086.9 1550.6,1081.3 1570.3,1073.8 1590,1066.2 1609.8,1056.3 1622.9,1049.7 1642.7,1040.9 1655.8,1032.6 1669,1025.4 1678.9,1022.1 1692,1026.1 1705.2,1027.7 1718.3,1018.8 1734.8,1005.7 1747.9,995.8 1761.1,987.2 1777.6,984.6 1790.7,983.3 1798,980.7 1798.9,986.6 1813.7,993.2 1826.9,1019.5 1833.5,1037.6 1848.3,1060.6 1859.8,1078.7 1863.1,1098.4 1867,1118.2 1879.5,1134.6 1896,1152.7 1912.4,1169.2 1928.9,1187.3 1937.1,1207 1948.6,1226.7 1958.5,1243.2 1961.8,1259.6 1964.1,1281 1951.9,1289.3 1932.2,1300.8 1899.3,1317.2 1866.4,1333.7 1833.5,1350.1 1800.6,1366.6 1767.7,1382 1734.8,1397.2 1701.9,1411.6 1669,1425.8 1646,1436.6 1623.6,1447.8 1614.7,1438.9 1604.8,1419.2 1593.3,1394.5 1583.5,1368.2 1571.9,1338.6 1562.1,1313.9 1550.6,1284.3 1537.4,1253.1 1524.2,1221.8 1511.1,1190.6 1497.9,1159.3 1488,1134.6" fill="#fff" filter="url(#nzI)"/><polygon points="1477.5,1111.6 1494.6,1102.4 1511.1,1097.1 1524.2,1091.2 1537.4,1086.9 1550.6,1081.3 1570.3,1073.8 1590,1066.2 1609.8,1056.3 1622.9,1049.7 1642.7,1040.9 1655.8,1032.6 1669,1025.4 1678.9,1022.1 1692,1026.1 1705.2,1027.7 1718.3,1018.8 1734.8,1005.7 1747.9,995.8 1761.1,987.2 1777.6,984.6 1790.7,983.3 1798,980.7 1798.9,986.6 1813.7,993.2 1826.9,1019.5 1833.5,1037.6 1848.3,1060.6 1859.8,1078.7 1863.1,1098.4 1867,1118.2 1879.5,1134.6 1896,1152.7 1912.4,1169.2 1928.9,1187.3 1937.1,1207 1948.6,1226.7 1958.5,1243.2 1961.8,1259.6 1964.1,1281 1951.9,1289.3 1932.2,1300.8 1899.3,1317.2 1866.4,1333.7 1833.5,1350.1 1800.6,1366.6 1767.7,1382 1734.8,1397.2 1701.9,1411.6 1669,1425.8 1646,1436.6 1623.6,1447.8 1614.7,1438.9 1604.8,1419.2 1593.3,1394.5 1583.5,1368.2 1571.9,1338.6 1562.1,1313.9 1550.6,1284.3 1537.4,1253.1 1524.2,1221.8 1511.1,1190.6 1497.9,1159.3 1488,1134.6" fill="url(#shI)"/></g><circle cx="1794" cy="1017.4" r="14" fill="url(#glowI)"/><circle cx="1592.7" cy="1113.2" r="14" fill="url(#glowI)"/><circle cx="1522.6" cy="1147.8" r="14" fill="url(#glowI)"/><circle cx="1588.4" cy="1177.4" r="14" fill="url(#glowI)"/><circle cx="1547.3" cy="1203.7" r="14" fill="url(#glowI)"/><circle cx="1589.8" cy="1236.3" r="14" fill="url(#glowI)"/><circle cx="1573.8" cy="1282.7" r="14" fill="url(#glowI)"/><circle cx="1670.8" cy="1118.2" r="14" fill="url(#glowI)"/><circle cx="1705.2" cy="1131.3" r="14" fill="url(#glowI)"/><circle cx="1766" cy="1114.2" r="14" fill="url(#glowI)"/><circle cx="1813.7" cy="1128" r="14" fill="url(#glowI)"/><circle cx="1845" cy="1128" r="14" fill="url(#glowI)"/><circle cx="1698.6" cy="1190.6" r="14" fill="url(#glowI)"/><circle cx="1738.1" cy="1197.1" r="14" fill="url(#glowI)"/><circle cx="1831.8" cy="1172.5" r="14" fill="url(#glowI)"/><circle cx="1879.5" cy="1180.7" r="14" fill="url(#glowI)"/><circle cx="1820.3" cy="1225.1" r="14" fill="url(#glowI)"/><circle cx="1854.9" cy="1218.5" r="14" fill="url(#glowI)"/><circle cx="1772.2" cy="1249.2" r="14" fill="url(#glowI)"/><circle cx="1621.3" cy="1368.2" r="14" fill="url(#glowI)"/><circle cx="1682.1" cy="1371.5" r="14" fill="url(#glowI)"/><circle cx="1794" cy="1017.4" r="25" fill="none" stroke="#00aeef" stroke-width="8.4" stroke-dasharray="30 9.27" transform="rotate(20 1794 1017.4)"/><circle cx="1592.7" cy="1113.2" r="25" fill="none" stroke="#00aeef" stroke-width="8.4" stroke-dasharray="30 9.27" transform="rotate(-30 1592.7 1113.2)"/><circle cx="1522.6" cy="1147.8" r="25" fill="none" stroke="#00aeef" stroke-width="8.4" stroke-dasharray="30 9.27" transform="rotate(15 1522.6 1147.8)"/><circle cx="1588.4" cy="1177.4" r="25" fill="none" stroke="#00aeef" stroke-width="8.4" stroke-dasharray="30 9.27" transform="rotate(50 1588.4 1177.4)"/><circle cx="1547.3" cy="1203.7" r="25" fill="none" stroke="#00aeef" stroke-width="8.4" stroke-dasharray="30 9.27" transform="rotate(-10 1547.3 1203.7)"/><circle cx="1589.8" cy="1236.3" r="25" fill="none" stroke="#00aeef" stroke-width="8.4" stroke-dasharray="30 9.27" transform="rotate(35 1589.8 1236.3)"/><circle cx="1573.8" cy="1282.7" r="25" fill="none" stroke="#00aeef" stroke-width="8.4" stroke-dasharray="30 9.27" transform="rotate(5 1573.8 1282.7)"/><circle cx="1670.8" cy="1118.2" r="25" fill="none" stroke="#00aeef" stroke-width="8.4" stroke-dasharray="30 9.27" transform="rotate(60 1670.8 1118.2)"/><circle cx="1705.2" cy="1131.3" r="25" fill="none" stroke="#00aeef" stroke-width="8.4" stroke-dasharray="30 9.27" transform="rotate(-20 1705.2 1131.3)"/><circle cx="1766" cy="1114.2" r="25" fill="none" stroke="#00aeef" stroke-width="8.4" stroke-dasharray="30 9.27" transform="rotate(25 1766 1114.2)"/><circle cx="1813.7" cy="1128" r="25" fill="none" stroke="#00aeef" stroke-width="8.4" stroke-dasharray="30 9.27" transform="rotate(40 1813.7 1128)"/><circle cx="1845" cy="1128" r="25" fill="none" stroke="#00aeef" stroke-width="8.4" stroke-dasharray="30 9.27" transform="rotate(-15 1845 1128)"/><circle cx="1698.6" cy="1190.6" r="25" fill="none" stroke="#00aeef" stroke-width="8.4" stroke-dasharray="30 9.27" transform="rotate(10 1698.6 1190.6)"/><circle cx="1738.1" cy="1197.1" r="25" fill="none" stroke="#00aeef" stroke-width="8.4" stroke-dasharray="30 9.27" transform="rotate(55 1738.1 1197.1)"/><circle cx="1831.8" cy="1172.5" r="25" fill="none" stroke="#00aeef" stroke-width="8.4" stroke-dasharray="30 9.27" transform="rotate(-35 1831.8 1172.5)"/><circle cx="1879.5" cy="1180.7" r="25" fill="none" stroke="#00aeef" stroke-width="8.4" stroke-dasharray="30 9.27" transform="rotate(30 1879.5 1180.7)"/><circle cx="1820.3" cy="1225.1" r="25" fill="none" stroke="#00aeef" stroke-width="8.4" stroke-dasharray="30 9.27" transform="rotate(0 1820.3 1225.1)"/><circle cx="1854.9" cy="1218.5" r="25" fill="none" stroke="#00aeef" stroke-width="8.4" stroke-dasharray="30 9.27" transform="rotate(45 1854.9 1218.5)"/><circle cx="1772.2" cy="1249.2" r="25" fill="none" stroke="#00aeef" stroke-width="8.4" stroke-dasharray="30 9.27" transform="rotate(-25 1772.2 1249.2)"/><circle cx="1621.3" cy="1368.2" r="25" fill="none" stroke="#00aeef" stroke-width="8.4" stroke-dasharray="30 9.27" transform="rotate(20 1621.3 1368.2)"/><circle cx="1682.1" cy="1371.5" r="25" fill="none" stroke="#00aeef" stroke-width="8.4" stroke-dasharray="30 9.27" transform="rotate(-40 1682.1 1371.5)"/><text x="1764" y="1420.8" font-family="'Liberation Serif', 'Times New Roman', serif" font-size="62" font-weight="bold" fill="#000" text-anchor="start" >Light</text><text x="1360.5" y="1021.9" font-family="'Liberation Sans', Arial, sans-serif" font-size="63.5" font-weight="bold" fill="#000" text-anchor="start" >i</text></g>
</svg></body></html>
